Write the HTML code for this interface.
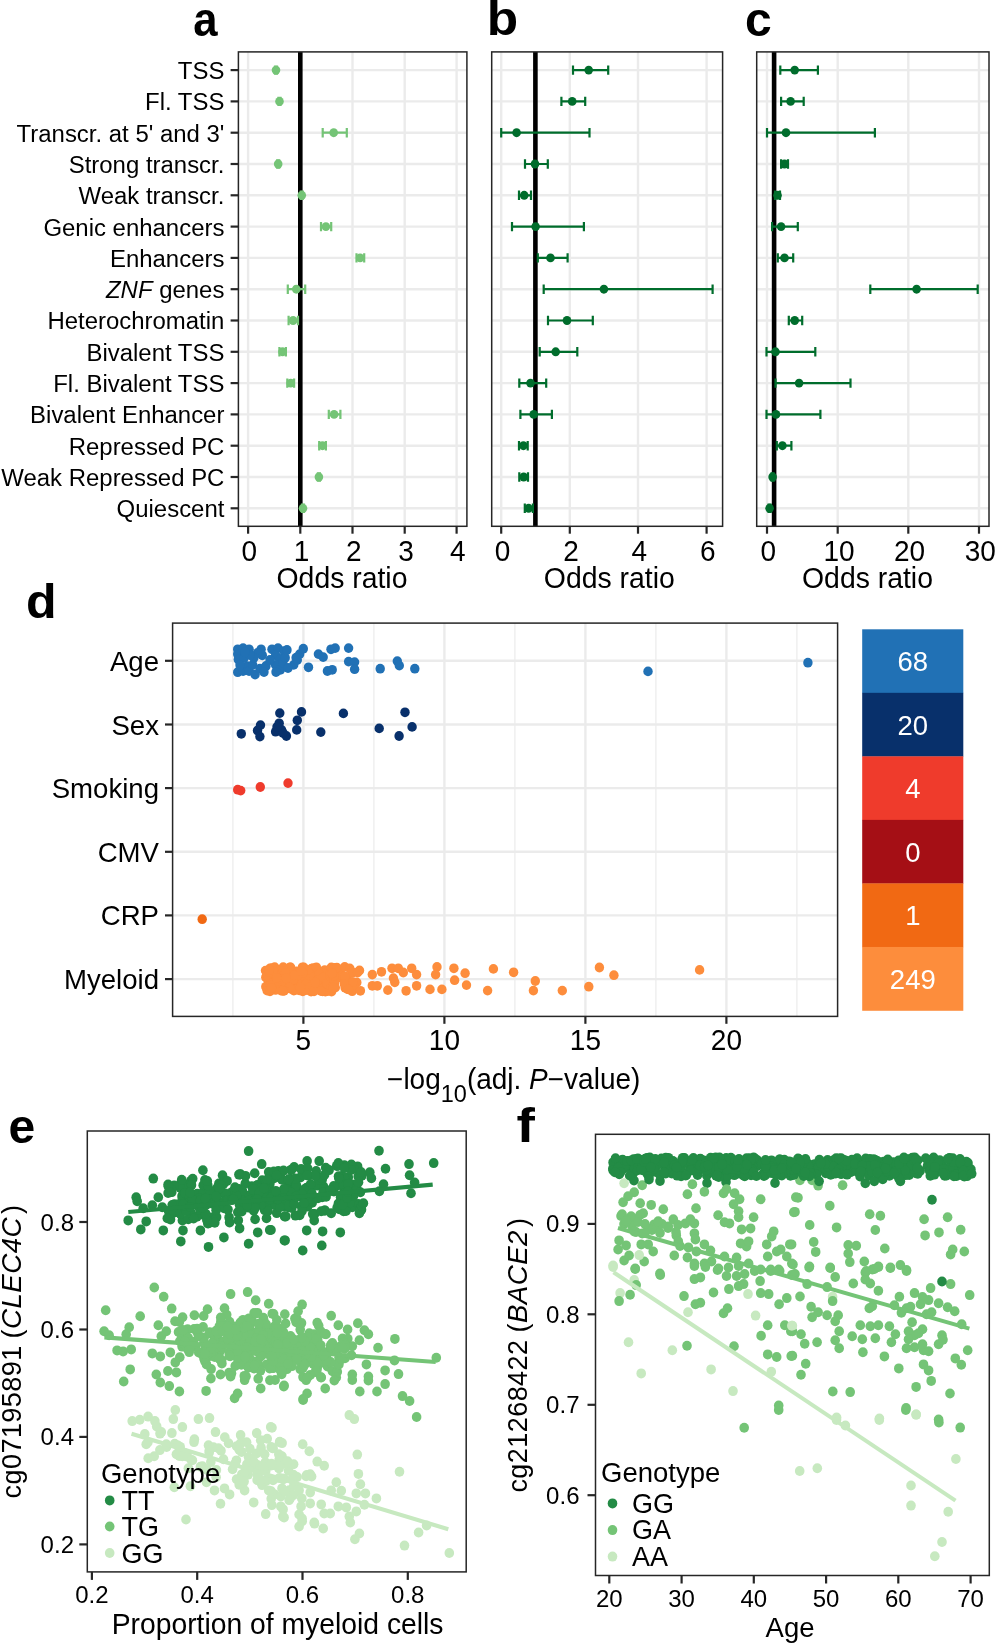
<!DOCTYPE html>
<html><head><meta charset="utf-8"><style>
html,body{margin:0;padding:0;background:#fff;}
svg{display:block;font-family:"Liberation Sans", sans-serif;will-change:transform;}
</style></head><body>
<svg width="996" height="1645" viewBox="0 0 996 1645">
<rect width="996" height="1645" fill="#fff"/>
<text x="224.4" y="79.1" font-size="23.95" text-anchor="end" font-weight="normal" fill="#000" transform="translate(0,-2.37) scale(1,1.03)">TSS</text>
<text x="224.4" y="110.4" font-size="23.95" text-anchor="end" font-weight="normal" fill="#000" transform="translate(0,-3.31) scale(1,1.03)">Fl. TSS</text>
<text x="224.4" y="141.7" font-size="23.95" text-anchor="end" font-weight="normal" fill="#000" transform="translate(0,-4.25) scale(1,1.03)">Transcr. at 5' and 3'</text>
<text x="224.4" y="173.0" font-size="23.95" text-anchor="end" font-weight="normal" fill="#000" transform="translate(0,-5.19) scale(1,1.03)">Strong transcr.</text>
<text x="224.4" y="204.3" font-size="23.95" text-anchor="end" font-weight="normal" fill="#000" transform="translate(0,-6.13) scale(1,1.03)">Weak transcr.</text>
<text x="224.4" y="235.6" font-size="23.95" text-anchor="end" font-weight="normal" fill="#000" transform="translate(0,-7.07) scale(1,1.03)">Genic enhancers</text>
<text x="224.4" y="266.9" font-size="23.95" text-anchor="end" font-weight="normal" fill="#000" transform="translate(0,-8.01) scale(1,1.03)">Enhancers</text>
<text x="224.4" y="298.2" font-size="23.95" text-anchor="end" font-weight="normal" fill="#000" transform="translate(0,-8.95) scale(1,1.03)"><tspan font-style='italic'>ZNF</tspan> genes</text>
<text x="224.4" y="329.5" font-size="23.95" text-anchor="end" font-weight="normal" fill="#000" transform="translate(0,-9.89) scale(1,1.03)">Heterochromatin</text>
<text x="224.4" y="360.8" font-size="23.95" text-anchor="end" font-weight="normal" fill="#000" transform="translate(0,-10.82) scale(1,1.03)">Bivalent TSS</text>
<text x="224.4" y="392.1" font-size="23.95" text-anchor="end" font-weight="normal" fill="#000" transform="translate(0,-11.76) scale(1,1.03)">Fl. Bivalent TSS</text>
<text x="224.4" y="423.4" font-size="23.95" text-anchor="end" font-weight="normal" fill="#000" transform="translate(0,-12.70) scale(1,1.03)">Bivalent Enhancer</text>
<text x="224.4" y="454.7" font-size="23.95" text-anchor="end" font-weight="normal" fill="#000" transform="translate(0,-13.64) scale(1,1.03)">Repressed PC</text>
<text x="224.4" y="486.0" font-size="23.95" text-anchor="end" font-weight="normal" fill="#000" transform="translate(0,-14.58) scale(1,1.03)">Weak Repressed PC</text>
<text x="224.4" y="517.3" font-size="23.95" text-anchor="end" font-weight="normal" fill="#000" transform="translate(0,-15.52) scale(1,1.03)">Quiescent</text>
<line x1="230.6" y1="70.1" x2="238.4" y2="70.1" stroke="#262626" stroke-width="2.2"/>
<line x1="230.6" y1="101.4" x2="238.4" y2="101.4" stroke="#262626" stroke-width="2.2"/>
<line x1="230.6" y1="132.7" x2="238.4" y2="132.7" stroke="#262626" stroke-width="2.2"/>
<line x1="230.6" y1="164.0" x2="238.4" y2="164.0" stroke="#262626" stroke-width="2.2"/>
<line x1="230.6" y1="195.3" x2="238.4" y2="195.3" stroke="#262626" stroke-width="2.2"/>
<line x1="230.6" y1="226.6" x2="238.4" y2="226.6" stroke="#262626" stroke-width="2.2"/>
<line x1="230.6" y1="257.9" x2="238.4" y2="257.9" stroke="#262626" stroke-width="2.2"/>
<line x1="230.6" y1="289.2" x2="238.4" y2="289.2" stroke="#262626" stroke-width="2.2"/>
<line x1="230.6" y1="320.5" x2="238.4" y2="320.5" stroke="#262626" stroke-width="2.2"/>
<line x1="230.6" y1="351.8" x2="238.4" y2="351.8" stroke="#262626" stroke-width="2.2"/>
<line x1="230.6" y1="383.1" x2="238.4" y2="383.1" stroke="#262626" stroke-width="2.2"/>
<line x1="230.6" y1="414.4" x2="238.4" y2="414.4" stroke="#262626" stroke-width="2.2"/>
<line x1="230.6" y1="445.7" x2="238.4" y2="445.7" stroke="#262626" stroke-width="2.2"/>
<line x1="230.6" y1="477.0" x2="238.4" y2="477.0" stroke="#262626" stroke-width="2.2"/>
<line x1="230.6" y1="508.3" x2="238.4" y2="508.3" stroke="#262626" stroke-width="2.2"/>
<line x1="248.1" y1="51.9" x2="248.1" y2="526.3" stroke="#ebebeb" stroke-width="2.4"/>
<line x1="300.3" y1="51.9" x2="300.3" y2="526.3" stroke="#ebebeb" stroke-width="2.4"/>
<line x1="352.5" y1="51.9" x2="352.5" y2="526.3" stroke="#ebebeb" stroke-width="2.4"/>
<line x1="404.7" y1="51.9" x2="404.7" y2="526.3" stroke="#ebebeb" stroke-width="2.4"/>
<line x1="456.6" y1="51.9" x2="456.6" y2="526.3" stroke="#ebebeb" stroke-width="2.4"/>
<line x1="238.4" y1="70.1" x2="466.9" y2="70.1" stroke="#ebebeb" stroke-width="2.4"/>
<line x1="238.4" y1="101.4" x2="466.9" y2="101.4" stroke="#ebebeb" stroke-width="2.4"/>
<line x1="238.4" y1="132.7" x2="466.9" y2="132.7" stroke="#ebebeb" stroke-width="2.4"/>
<line x1="238.4" y1="164.0" x2="466.9" y2="164.0" stroke="#ebebeb" stroke-width="2.4"/>
<line x1="238.4" y1="195.3" x2="466.9" y2="195.3" stroke="#ebebeb" stroke-width="2.4"/>
<line x1="238.4" y1="226.6" x2="466.9" y2="226.6" stroke="#ebebeb" stroke-width="2.4"/>
<line x1="238.4" y1="257.9" x2="466.9" y2="257.9" stroke="#ebebeb" stroke-width="2.4"/>
<line x1="238.4" y1="289.2" x2="466.9" y2="289.2" stroke="#ebebeb" stroke-width="2.4"/>
<line x1="238.4" y1="320.5" x2="466.9" y2="320.5" stroke="#ebebeb" stroke-width="2.4"/>
<line x1="238.4" y1="351.8" x2="466.9" y2="351.8" stroke="#ebebeb" stroke-width="2.4"/>
<line x1="238.4" y1="383.1" x2="466.9" y2="383.1" stroke="#ebebeb" stroke-width="2.4"/>
<line x1="238.4" y1="414.4" x2="466.9" y2="414.4" stroke="#ebebeb" stroke-width="2.4"/>
<line x1="238.4" y1="445.7" x2="466.9" y2="445.7" stroke="#ebebeb" stroke-width="2.4"/>
<line x1="238.4" y1="477.0" x2="466.9" y2="477.0" stroke="#ebebeb" stroke-width="2.4"/>
<line x1="238.4" y1="508.3" x2="466.9" y2="508.3" stroke="#ebebeb" stroke-width="2.4"/>
<line x1="300.3" y1="51.9" x2="300.3" y2="526.3" stroke="#000" stroke-width="4.6"/>
<path d="M275.0,70.1H277.0M275.0,65.4V74.8M277.0,65.4V74.8" stroke="#74c476" stroke-width="2.2" fill="none"/>
<ellipse cx="276.0" cy="70.1" rx="4.3" ry="4.47" fill="#74c476"/>
<path d="M278.5,101.4H280.5M278.5,96.7V106.1M280.5,96.7V106.1" stroke="#74c476" stroke-width="2.2" fill="none"/>
<ellipse cx="279.5" cy="101.4" rx="4.3" ry="4.47" fill="#74c476"/>
<path d="M322.7,132.7H346.8M322.7,128.0V137.4M346.8,128.0V137.4" stroke="#74c476" stroke-width="2.2" fill="none"/>
<ellipse cx="333.7" cy="132.7" rx="4.3" ry="4.47" fill="#74c476"/>
<path d="M277.2,164.0H279.2M277.2,159.3V168.7M279.2,159.3V168.7" stroke="#74c476" stroke-width="2.2" fill="none"/>
<ellipse cx="278.2" cy="164.0" rx="4.3" ry="4.47" fill="#74c476"/>
<path d="M300.8,195.3H302.8M300.8,190.6V200.0M302.8,190.6V200.0" stroke="#74c476" stroke-width="2.2" fill="none"/>
<ellipse cx="301.8" cy="195.3" rx="4.3" ry="4.47" fill="#74c476"/>
<path d="M321,226.6H331.2M321,221.9V231.3M331.2,221.9V231.3" stroke="#74c476" stroke-width="2.2" fill="none"/>
<ellipse cx="325.9" cy="226.6" rx="4.3" ry="4.47" fill="#74c476"/>
<path d="M356.5,257.9H364.2M356.5,253.2V262.6M364.2,253.2V262.6" stroke="#74c476" stroke-width="2.2" fill="none"/>
<ellipse cx="360.1" cy="257.9" rx="4.3" ry="4.47" fill="#74c476"/>
<path d="M287.8,289.2H305.2M287.8,284.5V293.9M305.2,284.5V293.9" stroke="#74c476" stroke-width="2.2" fill="none"/>
<ellipse cx="296.3" cy="289.2" rx="4.3" ry="4.47" fill="#74c476"/>
<path d="M288.6,320.5H298M288.6,315.8V325.2M298,315.8V325.2" stroke="#74c476" stroke-width="2.2" fill="none"/>
<ellipse cx="293.1" cy="320.5" rx="4.3" ry="4.47" fill="#74c476"/>
<path d="M279.4,351.8H285.9M279.4,347.1V356.5M285.9,347.1V356.5" stroke="#74c476" stroke-width="2.2" fill="none"/>
<ellipse cx="282.5" cy="351.8" rx="4.3" ry="4.47" fill="#74c476"/>
<path d="M287.3,383.1H294.1M287.3,378.4V387.8M294.1,378.4V387.8" stroke="#74c476" stroke-width="2.2" fill="none"/>
<ellipse cx="290.7" cy="383.1" rx="4.3" ry="4.47" fill="#74c476"/>
<path d="M328.8,414.4H340.4M328.8,409.7V419.1M340.4,409.7V419.1" stroke="#74c476" stroke-width="2.2" fill="none"/>
<ellipse cx="334.1" cy="414.4" rx="4.3" ry="4.47" fill="#74c476"/>
<path d="M319.2,445.7H325.9M319.2,441.0V450.4M325.9,441.0V450.4" stroke="#74c476" stroke-width="2.2" fill="none"/>
<ellipse cx="322.5" cy="445.7" rx="4.3" ry="4.47" fill="#74c476"/>
<path d="M317.9,477.0H319.9M317.9,472.3V481.7M319.9,472.3V481.7" stroke="#74c476" stroke-width="2.2" fill="none"/>
<ellipse cx="318.9" cy="477.0" rx="4.3" ry="4.47" fill="#74c476"/>
<path d="M302.0,508.3H304.0M302.0,503.6V513.0M304.0,503.6V513.0" stroke="#74c476" stroke-width="2.2" fill="none"/>
<ellipse cx="303.0" cy="508.3" rx="4.3" ry="4.47" fill="#74c476"/>
<rect x="238.4" y="51.9" width="228.49999999999997" height="474.4" fill="none" stroke="#262626" stroke-width="1.5"/>
<line x1="248.1" y1="526.3" x2="248.1" y2="533.6999999999999" stroke="#262626" stroke-width="2.2"/>
<text x="249.4" y="561.5" font-size="28" text-anchor="middle" font-weight="normal" fill="#000" transform="translate(0,-16.85) scale(1,1.03)">0</text>
<line x1="300.3" y1="526.3" x2="300.3" y2="533.6999999999999" stroke="#262626" stroke-width="2.2"/>
<text x="301.6" y="561.5" font-size="28" text-anchor="middle" font-weight="normal" fill="#000" transform="translate(0,-16.85) scale(1,1.03)">1</text>
<line x1="352.5" y1="526.3" x2="352.5" y2="533.6999999999999" stroke="#262626" stroke-width="2.2"/>
<text x="353.8" y="561.5" font-size="28" text-anchor="middle" font-weight="normal" fill="#000" transform="translate(0,-16.85) scale(1,1.03)">2</text>
<line x1="404.7" y1="526.3" x2="404.7" y2="533.6999999999999" stroke="#262626" stroke-width="2.2"/>
<text x="406.0" y="561.5" font-size="28" text-anchor="middle" font-weight="normal" fill="#000" transform="translate(0,-16.85) scale(1,1.03)">3</text>
<line x1="456.6" y1="526.3" x2="456.6" y2="533.6999999999999" stroke="#262626" stroke-width="2.2"/>
<text x="457.9" y="561.5" font-size="28" text-anchor="middle" font-weight="normal" fill="#000" transform="translate(0,-16.85) scale(1,1.03)">4</text>
<text x="342.0" y="587.6" font-size="28.4" text-anchor="middle" font-weight="normal" fill="#000" transform="translate(0,-17.63) scale(1,1.03)">Odds ratio</text>
<line x1="501.2" y1="51.9" x2="501.2" y2="526.3" stroke="#ebebeb" stroke-width="2.4"/>
<line x1="569.8" y1="51.9" x2="569.8" y2="526.3" stroke="#ebebeb" stroke-width="2.4"/>
<line x1="638" y1="51.9" x2="638" y2="526.3" stroke="#ebebeb" stroke-width="2.4"/>
<line x1="706.6" y1="51.9" x2="706.6" y2="526.3" stroke="#ebebeb" stroke-width="2.4"/>
<line x1="491.7" y1="70.1" x2="722.6" y2="70.1" stroke="#ebebeb" stroke-width="2.4"/>
<line x1="491.7" y1="101.4" x2="722.6" y2="101.4" stroke="#ebebeb" stroke-width="2.4"/>
<line x1="491.7" y1="132.7" x2="722.6" y2="132.7" stroke="#ebebeb" stroke-width="2.4"/>
<line x1="491.7" y1="164.0" x2="722.6" y2="164.0" stroke="#ebebeb" stroke-width="2.4"/>
<line x1="491.7" y1="195.3" x2="722.6" y2="195.3" stroke="#ebebeb" stroke-width="2.4"/>
<line x1="491.7" y1="226.6" x2="722.6" y2="226.6" stroke="#ebebeb" stroke-width="2.4"/>
<line x1="491.7" y1="257.9" x2="722.6" y2="257.9" stroke="#ebebeb" stroke-width="2.4"/>
<line x1="491.7" y1="289.2" x2="722.6" y2="289.2" stroke="#ebebeb" stroke-width="2.4"/>
<line x1="491.7" y1="320.5" x2="722.6" y2="320.5" stroke="#ebebeb" stroke-width="2.4"/>
<line x1="491.7" y1="351.8" x2="722.6" y2="351.8" stroke="#ebebeb" stroke-width="2.4"/>
<line x1="491.7" y1="383.1" x2="722.6" y2="383.1" stroke="#ebebeb" stroke-width="2.4"/>
<line x1="491.7" y1="414.4" x2="722.6" y2="414.4" stroke="#ebebeb" stroke-width="2.4"/>
<line x1="491.7" y1="445.7" x2="722.6" y2="445.7" stroke="#ebebeb" stroke-width="2.4"/>
<line x1="491.7" y1="477.0" x2="722.6" y2="477.0" stroke="#ebebeb" stroke-width="2.4"/>
<line x1="491.7" y1="508.3" x2="722.6" y2="508.3" stroke="#ebebeb" stroke-width="2.4"/>
<line x1="535.4" y1="51.9" x2="535.4" y2="526.3" stroke="#000" stroke-width="4.6"/>
<path d="M573,70.1H608.2M573,65.4V74.8M608.2,65.4V74.8" stroke="#006d2c" stroke-width="2.2" fill="none"/>
<ellipse cx="588.7" cy="70.1" rx="4.3" ry="4.47" fill="#006d2c"/>
<path d="M561.4,101.4H585.2M561.4,96.7V106.1M585.2,96.7V106.1" stroke="#006d2c" stroke-width="2.2" fill="none"/>
<ellipse cx="572.2" cy="101.4" rx="4.3" ry="4.47" fill="#006d2c"/>
<path d="M501.2,132.7H589.5M501.2,128.0V137.4M589.5,128.0V137.4" stroke="#006d2c" stroke-width="2.2" fill="none"/>
<ellipse cx="516.6" cy="132.7" rx="4.3" ry="4.47" fill="#006d2c"/>
<path d="M525,164.0H547.8M525,159.3V168.7M547.8,159.3V168.7" stroke="#006d2c" stroke-width="2.2" fill="none"/>
<ellipse cx="535.0" cy="164.0" rx="4.3" ry="4.47" fill="#006d2c"/>
<path d="M519,195.3H531M519,190.6V200.0M531,190.6V200.0" stroke="#006d2c" stroke-width="2.2" fill="none"/>
<ellipse cx="524.2" cy="195.3" rx="4.3" ry="4.47" fill="#006d2c"/>
<path d="M512,226.6H583.9M512,221.9V231.3M583.9,221.9V231.3" stroke="#006d2c" stroke-width="2.2" fill="none"/>
<ellipse cx="535.6" cy="226.6" rx="4.3" ry="4.47" fill="#006d2c"/>
<path d="M537.8,257.9H567.6M537.8,253.2V262.6M567.6,253.2V262.6" stroke="#006d2c" stroke-width="2.2" fill="none"/>
<ellipse cx="550.5" cy="257.9" rx="4.3" ry="4.47" fill="#006d2c"/>
<path d="M543.7,289.2H712.6M543.7,284.5V293.9M712.6,284.5V293.9" stroke="#006d2c" stroke-width="2.2" fill="none"/>
<ellipse cx="603.9" cy="289.2" rx="4.3" ry="4.47" fill="#006d2c"/>
<path d="M548,320.5H592.8M548,315.8V325.2M592.8,315.8V325.2" stroke="#006d2c" stroke-width="2.2" fill="none"/>
<ellipse cx="567.0" cy="320.5" rx="4.3" ry="4.47" fill="#006d2c"/>
<path d="M539.7,351.8H577.3M539.7,347.1V356.5M577.3,347.1V356.5" stroke="#006d2c" stroke-width="2.2" fill="none"/>
<ellipse cx="555.7" cy="351.8" rx="4.3" ry="4.47" fill="#006d2c"/>
<path d="M519.3,383.1H546.2M519.3,378.4V387.8M546.2,378.4V387.8" stroke="#006d2c" stroke-width="2.2" fill="none"/>
<ellipse cx="530.5" cy="383.1" rx="4.3" ry="4.47" fill="#006d2c"/>
<path d="M520.4,414.4H551.9M520.4,409.7V419.1M551.9,409.7V419.1" stroke="#006d2c" stroke-width="2.2" fill="none"/>
<ellipse cx="533.7" cy="414.4" rx="4.3" ry="4.47" fill="#006d2c"/>
<path d="M519,445.7H527.7M519,441.0V450.4M527.7,441.0V450.4" stroke="#006d2c" stroke-width="2.2" fill="none"/>
<ellipse cx="523.4" cy="445.7" rx="4.3" ry="4.47" fill="#006d2c"/>
<path d="M519.3,477.0H528M519.3,472.3V481.7M528,472.3V481.7" stroke="#006d2c" stroke-width="2.2" fill="none"/>
<ellipse cx="523.7" cy="477.0" rx="4.3" ry="4.47" fill="#006d2c"/>
<path d="M524.8,508.3H532.9M524.8,503.6V513.0M532.9,503.6V513.0" stroke="#006d2c" stroke-width="2.2" fill="none"/>
<ellipse cx="528.6" cy="508.3" rx="4.3" ry="4.47" fill="#006d2c"/>
<rect x="491.7" y="51.9" width="230.90000000000003" height="474.4" fill="none" stroke="#262626" stroke-width="1.5"/>
<line x1="501.2" y1="526.3" x2="501.2" y2="533.6999999999999" stroke="#262626" stroke-width="2.2"/>
<text x="502.5" y="561.5" font-size="28" text-anchor="middle" font-weight="normal" fill="#000" transform="translate(0,-16.85) scale(1,1.03)">0</text>
<line x1="569.8" y1="526.3" x2="569.8" y2="533.6999999999999" stroke="#262626" stroke-width="2.2"/>
<text x="571.1" y="561.5" font-size="28" text-anchor="middle" font-weight="normal" fill="#000" transform="translate(0,-16.85) scale(1,1.03)">2</text>
<line x1="638" y1="526.3" x2="638" y2="533.6999999999999" stroke="#262626" stroke-width="2.2"/>
<text x="639.3" y="561.5" font-size="28" text-anchor="middle" font-weight="normal" fill="#000" transform="translate(0,-16.85) scale(1,1.03)">4</text>
<line x1="706.6" y1="526.3" x2="706.6" y2="533.6999999999999" stroke="#262626" stroke-width="2.2"/>
<text x="707.9" y="561.5" font-size="28" text-anchor="middle" font-weight="normal" fill="#000" transform="translate(0,-16.85) scale(1,1.03)">6</text>
<text x="609.3" y="587.6" font-size="28.4" text-anchor="middle" font-weight="normal" fill="#000" transform="translate(0,-17.63) scale(1,1.03)">Odds ratio</text>
<line x1="767" y1="51.9" x2="767" y2="526.3" stroke="#ebebeb" stroke-width="2.4"/>
<line x1="837.7" y1="51.9" x2="837.7" y2="526.3" stroke="#ebebeb" stroke-width="2.4"/>
<line x1="908.3" y1="51.9" x2="908.3" y2="526.3" stroke="#ebebeb" stroke-width="2.4"/>
<line x1="979" y1="51.9" x2="979" y2="526.3" stroke="#ebebeb" stroke-width="2.4"/>
<line x1="756.7" y1="70.1" x2="989.0" y2="70.1" stroke="#ebebeb" stroke-width="2.4"/>
<line x1="756.7" y1="101.4" x2="989.0" y2="101.4" stroke="#ebebeb" stroke-width="2.4"/>
<line x1="756.7" y1="132.7" x2="989.0" y2="132.7" stroke="#ebebeb" stroke-width="2.4"/>
<line x1="756.7" y1="164.0" x2="989.0" y2="164.0" stroke="#ebebeb" stroke-width="2.4"/>
<line x1="756.7" y1="195.3" x2="989.0" y2="195.3" stroke="#ebebeb" stroke-width="2.4"/>
<line x1="756.7" y1="226.6" x2="989.0" y2="226.6" stroke="#ebebeb" stroke-width="2.4"/>
<line x1="756.7" y1="257.9" x2="989.0" y2="257.9" stroke="#ebebeb" stroke-width="2.4"/>
<line x1="756.7" y1="289.2" x2="989.0" y2="289.2" stroke="#ebebeb" stroke-width="2.4"/>
<line x1="756.7" y1="320.5" x2="989.0" y2="320.5" stroke="#ebebeb" stroke-width="2.4"/>
<line x1="756.7" y1="351.8" x2="989.0" y2="351.8" stroke="#ebebeb" stroke-width="2.4"/>
<line x1="756.7" y1="383.1" x2="989.0" y2="383.1" stroke="#ebebeb" stroke-width="2.4"/>
<line x1="756.7" y1="414.4" x2="989.0" y2="414.4" stroke="#ebebeb" stroke-width="2.4"/>
<line x1="756.7" y1="445.7" x2="989.0" y2="445.7" stroke="#ebebeb" stroke-width="2.4"/>
<line x1="756.7" y1="477.0" x2="989.0" y2="477.0" stroke="#ebebeb" stroke-width="2.4"/>
<line x1="756.7" y1="508.3" x2="989.0" y2="508.3" stroke="#ebebeb" stroke-width="2.4"/>
<line x1="774.1" y1="51.9" x2="774.1" y2="526.3" stroke="#000" stroke-width="4.6"/>
<path d="M780.3,70.1H817.9M780.3,65.4V74.8M817.9,65.4V74.8" stroke="#006d2c" stroke-width="2.2" fill="none"/>
<ellipse cx="794.7" cy="70.1" rx="4.3" ry="4.47" fill="#006d2c"/>
<path d="M781.1,101.4H803.7M781.1,96.7V106.1M803.7,96.7V106.1" stroke="#006d2c" stroke-width="2.2" fill="none"/>
<ellipse cx="790.6" cy="101.4" rx="4.3" ry="4.47" fill="#006d2c"/>
<path d="M767,132.7H874.9M767,128.0V137.4M874.9,128.0V137.4" stroke="#006d2c" stroke-width="2.2" fill="none"/>
<ellipse cx="786.0" cy="132.7" rx="4.3" ry="4.47" fill="#006d2c"/>
<path d="M781.1,164.0H788M781.1,159.3V168.7M788,159.3V168.7" stroke="#006d2c" stroke-width="2.2" fill="none"/>
<ellipse cx="784.5" cy="164.0" rx="4.3" ry="4.47" fill="#006d2c"/>
<path d="M775,195.3H780M775,190.6V200.0M780,190.6V200.0" stroke="#006d2c" stroke-width="2.2" fill="none"/>
<ellipse cx="777.5" cy="195.3" rx="4.3" ry="4.47" fill="#006d2c"/>
<path d="M772.1,226.6H797.8M772.1,221.9V231.3M797.8,221.9V231.3" stroke="#006d2c" stroke-width="2.2" fill="none"/>
<ellipse cx="781.1" cy="226.6" rx="4.3" ry="4.47" fill="#006d2c"/>
<path d="M777.8,257.9H793.2M777.8,253.2V262.6M793.2,253.2V262.6" stroke="#006d2c" stroke-width="2.2" fill="none"/>
<ellipse cx="784.5" cy="257.9" rx="4.3" ry="4.47" fill="#006d2c"/>
<path d="M870.3,289.2H977.7M870.3,284.5V293.9M977.7,284.5V293.9" stroke="#006d2c" stroke-width="2.2" fill="none"/>
<ellipse cx="916.6" cy="289.2" rx="4.3" ry="4.47" fill="#006d2c"/>
<path d="M788.8,320.5H802.2M788.8,315.8V325.2M802.2,315.8V325.2" stroke="#006d2c" stroke-width="2.2" fill="none"/>
<ellipse cx="794.7" cy="320.5" rx="4.3" ry="4.47" fill="#006d2c"/>
<path d="M766.5,351.8H815.3M766.5,347.1V356.5M815.3,347.1V356.5" stroke="#006d2c" stroke-width="2.2" fill="none"/>
<ellipse cx="775.5" cy="351.8" rx="4.3" ry="4.47" fill="#006d2c"/>
<path d="M775.5,383.1H850.5M775.5,378.4V387.8M850.5,378.4V387.8" stroke="#006d2c" stroke-width="2.2" fill="none"/>
<ellipse cx="799.1" cy="383.1" rx="4.3" ry="4.47" fill="#006d2c"/>
<path d="M766.5,414.4H820.4M766.5,409.7V419.1M820.4,409.7V419.1" stroke="#006d2c" stroke-width="2.2" fill="none"/>
<ellipse cx="776.0" cy="414.4" rx="4.3" ry="4.47" fill="#006d2c"/>
<path d="M776.8,445.7H791.4M776.8,441.0V450.4M791.4,441.0V450.4" stroke="#006d2c" stroke-width="2.2" fill="none"/>
<ellipse cx="782.4" cy="445.7" rx="4.3" ry="4.47" fill="#006d2c"/>
<path d="M771.6,477.0H773.6M771.6,472.3V481.7M773.6,472.3V481.7" stroke="#006d2c" stroke-width="2.2" fill="none"/>
<ellipse cx="772.6" cy="477.0" rx="4.3" ry="4.47" fill="#006d2c"/>
<path d="M768.6,508.3H770.6M768.6,503.6V513.0M770.6,503.6V513.0" stroke="#006d2c" stroke-width="2.2" fill="none"/>
<ellipse cx="769.6" cy="508.3" rx="4.3" ry="4.47" fill="#006d2c"/>
<rect x="756.7" y="51.9" width="232.29999999999995" height="474.4" fill="none" stroke="#262626" stroke-width="1.5"/>
<line x1="767" y1="526.3" x2="767" y2="533.6999999999999" stroke="#262626" stroke-width="2.2"/>
<text x="768.3" y="561.5" font-size="28" text-anchor="middle" font-weight="normal" fill="#000" transform="translate(0,-16.85) scale(1,1.03)">0</text>
<line x1="837.7" y1="526.3" x2="837.7" y2="533.6999999999999" stroke="#262626" stroke-width="2.2"/>
<text x="839.0" y="561.5" font-size="28" text-anchor="middle" font-weight="normal" fill="#000" transform="translate(0,-16.85) scale(1,1.03)">10</text>
<line x1="908.3" y1="526.3" x2="908.3" y2="533.6999999999999" stroke="#262626" stroke-width="2.2"/>
<text x="909.6" y="561.5" font-size="28" text-anchor="middle" font-weight="normal" fill="#000" transform="translate(0,-16.85) scale(1,1.03)">20</text>
<line x1="979" y1="526.3" x2="979" y2="533.6999999999999" stroke="#262626" stroke-width="2.2"/>
<text x="980.3" y="561.5" font-size="28" text-anchor="middle" font-weight="normal" fill="#000" transform="translate(0,-16.85) scale(1,1.03)">30</text>
<text x="867.5" y="587.6" font-size="28.4" text-anchor="middle" font-weight="normal" fill="#000" transform="translate(0,-17.63) scale(1,1.03)">Odds ratio</text>
<line x1="232.9" y1="623.1" x2="232.9" y2="1016.4" stroke="#ebebeb" stroke-width="1.2"/>
<line x1="373.9" y1="623.1" x2="373.9" y2="1016.4" stroke="#ebebeb" stroke-width="1.2"/>
<line x1="514.9" y1="623.1" x2="514.9" y2="1016.4" stroke="#ebebeb" stroke-width="1.2"/>
<line x1="655.9" y1="623.1" x2="655.9" y2="1016.4" stroke="#ebebeb" stroke-width="1.2"/>
<line x1="796.9" y1="623.1" x2="796.9" y2="1016.4" stroke="#ebebeb" stroke-width="1.2"/>
<line x1="303.4" y1="623.1" x2="303.4" y2="1016.4" stroke="#ebebeb" stroke-width="2.4"/>
<line x1="444.4" y1="623.1" x2="444.4" y2="1016.4" stroke="#ebebeb" stroke-width="2.4"/>
<line x1="585.4" y1="623.1" x2="585.4" y2="1016.4" stroke="#ebebeb" stroke-width="2.4"/>
<line x1="726.4" y1="623.1" x2="726.4" y2="1016.4" stroke="#ebebeb" stroke-width="2.4"/>
<line x1="172.6" y1="660.8" x2="837.6" y2="660.8" stroke="#ebebeb" stroke-width="2.4"/>
<line x1="172.6" y1="724.5" x2="837.6" y2="724.5" stroke="#ebebeb" stroke-width="2.4"/>
<line x1="172.6" y1="788.1" x2="837.6" y2="788.1" stroke="#ebebeb" stroke-width="2.4"/>
<line x1="172.6" y1="851.8" x2="837.6" y2="851.8" stroke="#ebebeb" stroke-width="2.4"/>
<line x1="172.6" y1="915.4" x2="837.6" y2="915.4" stroke="#ebebeb" stroke-width="2.4"/>
<line x1="172.6" y1="979.1" x2="837.6" y2="979.1" stroke="#ebebeb" stroke-width="2.4"/>
<ellipse cx="237.7" cy="649.3" rx="4.7" ry="4.89" fill="#2171b5"/>
<ellipse cx="243.1" cy="648.1" rx="4.7" ry="4.89" fill="#2171b5"/>
<ellipse cx="249.1" cy="649.3" rx="4.7" ry="4.89" fill="#2171b5"/>
<ellipse cx="237.7" cy="654.1" rx="4.7" ry="4.89" fill="#2171b5"/>
<ellipse cx="238.3" cy="659.5" rx="4.7" ry="4.89" fill="#2171b5"/>
<ellipse cx="237.7" cy="672.2" rx="4.7" ry="4.89" fill="#2171b5"/>
<ellipse cx="243.1" cy="671.0" rx="4.7" ry="4.89" fill="#2171b5"/>
<ellipse cx="247.3" cy="666.1" rx="4.7" ry="4.89" fill="#2171b5"/>
<ellipse cx="249.1" cy="671.0" rx="4.7" ry="4.89" fill="#2171b5"/>
<ellipse cx="255.1" cy="674.6" rx="4.7" ry="4.89" fill="#2171b5"/>
<ellipse cx="252.7" cy="664.9" rx="4.7" ry="4.89" fill="#2171b5"/>
<ellipse cx="259.9" cy="668.6" rx="4.7" ry="4.89" fill="#2171b5"/>
<ellipse cx="261.1" cy="649.3" rx="4.7" ry="4.89" fill="#2171b5"/>
<ellipse cx="262.3" cy="655.3" rx="4.7" ry="4.89" fill="#2171b5"/>
<ellipse cx="257.5" cy="652.9" rx="4.7" ry="4.89" fill="#2171b5"/>
<ellipse cx="253.9" cy="657.7" rx="4.7" ry="4.89" fill="#2171b5"/>
<ellipse cx="272.0" cy="649.3" rx="4.7" ry="4.89" fill="#2171b5"/>
<ellipse cx="278.0" cy="648.1" rx="4.7" ry="4.89" fill="#2171b5"/>
<ellipse cx="284.0" cy="651.1" rx="4.7" ry="4.89" fill="#2171b5"/>
<ellipse cx="275.6" cy="655.3" rx="4.7" ry="4.89" fill="#2171b5"/>
<ellipse cx="280.4" cy="658.9" rx="4.7" ry="4.89" fill="#2171b5"/>
<ellipse cx="275.6" cy="664.9" rx="4.7" ry="4.89" fill="#2171b5"/>
<ellipse cx="280.4" cy="669.8" rx="4.7" ry="4.89" fill="#2171b5"/>
<ellipse cx="282.8" cy="662.5" rx="4.7" ry="4.89" fill="#2171b5"/>
<ellipse cx="285.2" cy="657.7" rx="4.7" ry="4.89" fill="#2171b5"/>
<ellipse cx="293.7" cy="664.9" rx="4.7" ry="4.89" fill="#2171b5"/>
<ellipse cx="297.3" cy="660.1" rx="4.7" ry="4.89" fill="#2171b5"/>
<ellipse cx="299.7" cy="654.1" rx="4.7" ry="4.89" fill="#2171b5"/>
<ellipse cx="303.3" cy="648.7" rx="4.7" ry="4.89" fill="#2171b5"/>
<ellipse cx="296.1" cy="657.7" rx="4.7" ry="4.89" fill="#2171b5"/>
<ellipse cx="308.5" cy="667.3" rx="4.7" ry="4.89" fill="#2171b5"/>
<ellipse cx="318.4" cy="654.1" rx="4.7" ry="4.89" fill="#2171b5"/>
<ellipse cx="323.2" cy="657.1" rx="4.7" ry="4.89" fill="#2171b5"/>
<ellipse cx="331.0" cy="649.3" rx="4.7" ry="4.89" fill="#2171b5"/>
<ellipse cx="335.2" cy="648.1" rx="4.7" ry="4.89" fill="#2171b5"/>
<ellipse cx="327.4" cy="671.0" rx="4.7" ry="4.89" fill="#2171b5"/>
<ellipse cx="332.2" cy="669.8" rx="4.7" ry="4.89" fill="#2171b5"/>
<ellipse cx="348.6" cy="648.1" rx="4.7" ry="4.89" fill="#2171b5"/>
<ellipse cx="348.6" cy="661.6" rx="4.7" ry="4.89" fill="#2171b5"/>
<ellipse cx="354.6" cy="662.1" rx="4.7" ry="4.89" fill="#2171b5"/>
<ellipse cx="354.6" cy="669.2" rx="4.7" ry="4.89" fill="#2171b5"/>
<ellipse cx="380.2" cy="668.7" rx="4.7" ry="4.89" fill="#2171b5"/>
<ellipse cx="397.3" cy="661.1" rx="4.7" ry="4.89" fill="#2171b5"/>
<ellipse cx="399.3" cy="665.6" rx="4.7" ry="4.89" fill="#2171b5"/>
<ellipse cx="414.8" cy="668.7" rx="4.7" ry="4.89" fill="#2171b5"/>
<ellipse cx="648.0" cy="671.4" rx="4.7" ry="4.89" fill="#2171b5"/>
<ellipse cx="807.9" cy="662.7" rx="4.7" ry="4.89" fill="#2171b5"/>
<ellipse cx="244.0" cy="658.0" rx="4.7" ry="4.89" fill="#2171b5"/>
<ellipse cx="250.0" cy="655.0" rx="4.7" ry="4.89" fill="#2171b5"/>
<ellipse cx="266.0" cy="666.0" rx="4.7" ry="4.89" fill="#2171b5"/>
<ellipse cx="270.0" cy="660.0" rx="4.7" ry="4.89" fill="#2171b5"/>
<ellipse cx="288.0" cy="668.0" rx="4.7" ry="4.89" fill="#2171b5"/>
<ellipse cx="240.0" cy="665.0" rx="4.7" ry="4.89" fill="#2171b5"/>
<ellipse cx="245.0" cy="652.0" rx="4.7" ry="4.89" fill="#2171b5"/>
<ellipse cx="264.0" cy="672.0" rx="4.7" ry="4.89" fill="#2171b5"/>
<ellipse cx="276.0" cy="672.0" rx="4.7" ry="4.89" fill="#2171b5"/>
<ellipse cx="287.0" cy="650.0" rx="4.7" ry="4.89" fill="#2171b5"/>
<ellipse cx="241.3" cy="733.8" rx="4.7" ry="4.89" fill="#08306b"/>
<ellipse cx="257.5" cy="730.5" rx="4.7" ry="4.89" fill="#08306b"/>
<ellipse cx="260.5" cy="725.1" rx="4.7" ry="4.89" fill="#08306b"/>
<ellipse cx="259.9" cy="736.6" rx="4.7" ry="4.89" fill="#08306b"/>
<ellipse cx="279.8" cy="713.1" rx="4.7" ry="4.89" fill="#08306b"/>
<ellipse cx="279.2" cy="723.3" rx="4.7" ry="4.89" fill="#08306b"/>
<ellipse cx="275.6" cy="731.7" rx="4.7" ry="4.89" fill="#08306b"/>
<ellipse cx="281.6" cy="729.9" rx="4.7" ry="4.89" fill="#08306b"/>
<ellipse cx="286.4" cy="736.0" rx="4.7" ry="4.89" fill="#08306b"/>
<ellipse cx="297.3" cy="720.3" rx="4.7" ry="4.89" fill="#08306b"/>
<ellipse cx="301.5" cy="711.9" rx="4.7" ry="4.89" fill="#08306b"/>
<ellipse cx="296.7" cy="729.9" rx="4.7" ry="4.89" fill="#08306b"/>
<ellipse cx="320.8" cy="732.1" rx="4.7" ry="4.89" fill="#08306b"/>
<ellipse cx="343.4" cy="713.4" rx="4.7" ry="4.89" fill="#08306b"/>
<ellipse cx="379.2" cy="728.4" rx="4.7" ry="4.89" fill="#08306b"/>
<ellipse cx="405.0" cy="712.3" rx="4.7" ry="4.89" fill="#08306b"/>
<ellipse cx="412.1" cy="726.9" rx="4.7" ry="4.89" fill="#08306b"/>
<ellipse cx="399.1" cy="736.0" rx="4.7" ry="4.89" fill="#08306b"/>
<ellipse cx="283.0" cy="733.0" rx="4.7" ry="4.89" fill="#08306b"/>
<ellipse cx="277.0" cy="727.0" rx="4.7" ry="4.89" fill="#08306b"/>
<ellipse cx="237.7" cy="789.7" rx="4.7" ry="4.89" fill="#ef3b2c"/>
<ellipse cx="240.7" cy="790.6" rx="4.7" ry="4.89" fill="#ef3b2c"/>
<ellipse cx="260.3" cy="787.0" rx="4.7" ry="4.89" fill="#ef3b2c"/>
<ellipse cx="288.0" cy="783.1" rx="4.7" ry="4.89" fill="#ef3b2c"/>
<ellipse cx="202.2" cy="919.2" rx="4.7" ry="4.89" fill="#f16913"/>
<ellipse cx="288.3" cy="970.6" rx="4.7" ry="4.89" fill="#fd8d3c"/>
<ellipse cx="311.4" cy="968.6" rx="4.7" ry="4.89" fill="#fd8d3c"/>
<ellipse cx="303.3" cy="975.9" rx="4.7" ry="4.89" fill="#fd8d3c"/>
<ellipse cx="269.6" cy="979.5" rx="4.7" ry="4.89" fill="#fd8d3c"/>
<ellipse cx="268.1" cy="977.6" rx="4.7" ry="4.89" fill="#fd8d3c"/>
<ellipse cx="270.4" cy="969.1" rx="4.7" ry="4.89" fill="#fd8d3c"/>
<ellipse cx="295.4" cy="987.5" rx="4.7" ry="4.89" fill="#fd8d3c"/>
<ellipse cx="274.2" cy="972.4" rx="4.7" ry="4.89" fill="#fd8d3c"/>
<ellipse cx="309.7" cy="990.5" rx="4.7" ry="4.89" fill="#fd8d3c"/>
<ellipse cx="306.2" cy="976.7" rx="4.7" ry="4.89" fill="#fd8d3c"/>
<ellipse cx="334.3" cy="968.0" rx="4.7" ry="4.89" fill="#fd8d3c"/>
<ellipse cx="326.0" cy="974.0" rx="4.7" ry="4.89" fill="#fd8d3c"/>
<ellipse cx="275.7" cy="969.7" rx="4.7" ry="4.89" fill="#fd8d3c"/>
<ellipse cx="287.2" cy="987.2" rx="4.7" ry="4.89" fill="#fd8d3c"/>
<ellipse cx="278.2" cy="981.3" rx="4.7" ry="4.89" fill="#fd8d3c"/>
<ellipse cx="310.5" cy="976.1" rx="4.7" ry="4.89" fill="#fd8d3c"/>
<ellipse cx="304.1" cy="968.4" rx="4.7" ry="4.89" fill="#fd8d3c"/>
<ellipse cx="269.7" cy="971.9" rx="4.7" ry="4.89" fill="#fd8d3c"/>
<ellipse cx="313.5" cy="977.5" rx="4.7" ry="4.89" fill="#fd8d3c"/>
<ellipse cx="287.6" cy="981.4" rx="4.7" ry="4.89" fill="#fd8d3c"/>
<ellipse cx="297.4" cy="974.3" rx="4.7" ry="4.89" fill="#fd8d3c"/>
<ellipse cx="321.5" cy="984.3" rx="4.7" ry="4.89" fill="#fd8d3c"/>
<ellipse cx="282.7" cy="981.2" rx="4.7" ry="4.89" fill="#fd8d3c"/>
<ellipse cx="302.5" cy="988.7" rx="4.7" ry="4.89" fill="#fd8d3c"/>
<ellipse cx="316.9" cy="974.0" rx="4.7" ry="4.89" fill="#fd8d3c"/>
<ellipse cx="334.6" cy="969.8" rx="4.7" ry="4.89" fill="#fd8d3c"/>
<ellipse cx="295.0" cy="985.7" rx="4.7" ry="4.89" fill="#fd8d3c"/>
<ellipse cx="276.2" cy="979.0" rx="4.7" ry="4.89" fill="#fd8d3c"/>
<ellipse cx="268.3" cy="983.5" rx="4.7" ry="4.89" fill="#fd8d3c"/>
<ellipse cx="319.4" cy="981.1" rx="4.7" ry="4.89" fill="#fd8d3c"/>
<ellipse cx="327.2" cy="974.6" rx="4.7" ry="4.89" fill="#fd8d3c"/>
<ellipse cx="314.5" cy="981.7" rx="4.7" ry="4.89" fill="#fd8d3c"/>
<ellipse cx="306.4" cy="978.2" rx="4.7" ry="4.89" fill="#fd8d3c"/>
<ellipse cx="324.7" cy="990.4" rx="4.7" ry="4.89" fill="#fd8d3c"/>
<ellipse cx="298.9" cy="983.4" rx="4.7" ry="4.89" fill="#fd8d3c"/>
<ellipse cx="269.8" cy="984.3" rx="4.7" ry="4.89" fill="#fd8d3c"/>
<ellipse cx="311.1" cy="991.6" rx="4.7" ry="4.89" fill="#fd8d3c"/>
<ellipse cx="323.4" cy="973.9" rx="4.7" ry="4.89" fill="#fd8d3c"/>
<ellipse cx="292.7" cy="983.5" rx="4.7" ry="4.89" fill="#fd8d3c"/>
<ellipse cx="267.1" cy="978.3" rx="4.7" ry="4.89" fill="#fd8d3c"/>
<ellipse cx="277.3" cy="969.7" rx="4.7" ry="4.89" fill="#fd8d3c"/>
<ellipse cx="269.7" cy="986.0" rx="4.7" ry="4.89" fill="#fd8d3c"/>
<ellipse cx="274.6" cy="973.0" rx="4.7" ry="4.89" fill="#fd8d3c"/>
<ellipse cx="293.1" cy="988.6" rx="4.7" ry="4.89" fill="#fd8d3c"/>
<ellipse cx="271.2" cy="978.0" rx="4.7" ry="4.89" fill="#fd8d3c"/>
<ellipse cx="304.2" cy="988.9" rx="4.7" ry="4.89" fill="#fd8d3c"/>
<ellipse cx="323.3" cy="988.4" rx="4.7" ry="4.89" fill="#fd8d3c"/>
<ellipse cx="285.1" cy="977.2" rx="4.7" ry="4.89" fill="#fd8d3c"/>
<ellipse cx="290.8" cy="988.9" rx="4.7" ry="4.89" fill="#fd8d3c"/>
<ellipse cx="333.0" cy="970.6" rx="4.7" ry="4.89" fill="#fd8d3c"/>
<ellipse cx="277.9" cy="972.6" rx="4.7" ry="4.89" fill="#fd8d3c"/>
<ellipse cx="282.0" cy="978.9" rx="4.7" ry="4.89" fill="#fd8d3c"/>
<ellipse cx="307.0" cy="973.4" rx="4.7" ry="4.89" fill="#fd8d3c"/>
<ellipse cx="265.8" cy="977.3" rx="4.7" ry="4.89" fill="#fd8d3c"/>
<ellipse cx="291.5" cy="981.0" rx="4.7" ry="4.89" fill="#fd8d3c"/>
<ellipse cx="332.7" cy="984.1" rx="4.7" ry="4.89" fill="#fd8d3c"/>
<ellipse cx="301.8" cy="982.2" rx="4.7" ry="4.89" fill="#fd8d3c"/>
<ellipse cx="313.2" cy="968.1" rx="4.7" ry="4.89" fill="#fd8d3c"/>
<ellipse cx="328.9" cy="986.3" rx="4.7" ry="4.89" fill="#fd8d3c"/>
<ellipse cx="327.2" cy="986.7" rx="4.7" ry="4.89" fill="#fd8d3c"/>
<ellipse cx="293.2" cy="976.8" rx="4.7" ry="4.89" fill="#fd8d3c"/>
<ellipse cx="272.8" cy="982.7" rx="4.7" ry="4.89" fill="#fd8d3c"/>
<ellipse cx="269.9" cy="968.5" rx="4.7" ry="4.89" fill="#fd8d3c"/>
<ellipse cx="280.2" cy="970.9" rx="4.7" ry="4.89" fill="#fd8d3c"/>
<ellipse cx="289.5" cy="968.1" rx="4.7" ry="4.89" fill="#fd8d3c"/>
<ellipse cx="265.5" cy="970.6" rx="4.7" ry="4.89" fill="#fd8d3c"/>
<ellipse cx="272.7" cy="975.9" rx="4.7" ry="4.89" fill="#fd8d3c"/>
<ellipse cx="267.3" cy="988.7" rx="4.7" ry="4.89" fill="#fd8d3c"/>
<ellipse cx="308.8" cy="970.5" rx="4.7" ry="4.89" fill="#fd8d3c"/>
<ellipse cx="283.3" cy="975.5" rx="4.7" ry="4.89" fill="#fd8d3c"/>
<ellipse cx="291.2" cy="969.9" rx="4.7" ry="4.89" fill="#fd8d3c"/>
<ellipse cx="325.4" cy="991.6" rx="4.7" ry="4.89" fill="#fd8d3c"/>
<ellipse cx="298.4" cy="978.9" rx="4.7" ry="4.89" fill="#fd8d3c"/>
<ellipse cx="271.6" cy="969.4" rx="4.7" ry="4.89" fill="#fd8d3c"/>
<ellipse cx="289.7" cy="973.4" rx="4.7" ry="4.89" fill="#fd8d3c"/>
<ellipse cx="323.9" cy="970.8" rx="4.7" ry="4.89" fill="#fd8d3c"/>
<ellipse cx="267.1" cy="990.6" rx="4.7" ry="4.89" fill="#fd8d3c"/>
<ellipse cx="302.7" cy="970.5" rx="4.7" ry="4.89" fill="#fd8d3c"/>
<ellipse cx="303.8" cy="967.5" rx="4.7" ry="4.89" fill="#fd8d3c"/>
<ellipse cx="302.7" cy="991.3" rx="4.7" ry="4.89" fill="#fd8d3c"/>
<ellipse cx="326.4" cy="984.2" rx="4.7" ry="4.89" fill="#fd8d3c"/>
<ellipse cx="283.9" cy="976.0" rx="4.7" ry="4.89" fill="#fd8d3c"/>
<ellipse cx="277.3" cy="986.1" rx="4.7" ry="4.89" fill="#fd8d3c"/>
<ellipse cx="303.0" cy="986.3" rx="4.7" ry="4.89" fill="#fd8d3c"/>
<ellipse cx="288.7" cy="972.4" rx="4.7" ry="4.89" fill="#fd8d3c"/>
<ellipse cx="322.7" cy="991.4" rx="4.7" ry="4.89" fill="#fd8d3c"/>
<ellipse cx="325.6" cy="987.0" rx="4.7" ry="4.89" fill="#fd8d3c"/>
<ellipse cx="323.2" cy="985.3" rx="4.7" ry="4.89" fill="#fd8d3c"/>
<ellipse cx="281.5" cy="979.7" rx="4.7" ry="4.89" fill="#fd8d3c"/>
<ellipse cx="290.6" cy="967.5" rx="4.7" ry="4.89" fill="#fd8d3c"/>
<ellipse cx="267.5" cy="973.8" rx="4.7" ry="4.89" fill="#fd8d3c"/>
<ellipse cx="283.8" cy="984.1" rx="4.7" ry="4.89" fill="#fd8d3c"/>
<ellipse cx="332.9" cy="978.0" rx="4.7" ry="4.89" fill="#fd8d3c"/>
<ellipse cx="331.6" cy="991.5" rx="4.7" ry="4.89" fill="#fd8d3c"/>
<ellipse cx="332.8" cy="975.9" rx="4.7" ry="4.89" fill="#fd8d3c"/>
<ellipse cx="281.0" cy="972.5" rx="4.7" ry="4.89" fill="#fd8d3c"/>
<ellipse cx="279.4" cy="971.9" rx="4.7" ry="4.89" fill="#fd8d3c"/>
<ellipse cx="309.5" cy="989.3" rx="4.7" ry="4.89" fill="#fd8d3c"/>
<ellipse cx="324.8" cy="978.8" rx="4.7" ry="4.89" fill="#fd8d3c"/>
<ellipse cx="311.5" cy="986.8" rx="4.7" ry="4.89" fill="#fd8d3c"/>
<ellipse cx="271.5" cy="983.3" rx="4.7" ry="4.89" fill="#fd8d3c"/>
<ellipse cx="329.6" cy="986.4" rx="4.7" ry="4.89" fill="#fd8d3c"/>
<ellipse cx="318.4" cy="978.8" rx="4.7" ry="4.89" fill="#fd8d3c"/>
<ellipse cx="278.1" cy="986.5" rx="4.7" ry="4.89" fill="#fd8d3c"/>
<ellipse cx="288.9" cy="986.8" rx="4.7" ry="4.89" fill="#fd8d3c"/>
<ellipse cx="334.0" cy="976.7" rx="4.7" ry="4.89" fill="#fd8d3c"/>
<ellipse cx="293.8" cy="990.5" rx="4.7" ry="4.89" fill="#fd8d3c"/>
<ellipse cx="316.6" cy="971.1" rx="4.7" ry="4.89" fill="#fd8d3c"/>
<ellipse cx="274.5" cy="970.6" rx="4.7" ry="4.89" fill="#fd8d3c"/>
<ellipse cx="329.3" cy="987.0" rx="4.7" ry="4.89" fill="#fd8d3c"/>
<ellipse cx="275.8" cy="987.5" rx="4.7" ry="4.89" fill="#fd8d3c"/>
<ellipse cx="334.6" cy="983.2" rx="4.7" ry="4.89" fill="#fd8d3c"/>
<ellipse cx="290.2" cy="980.5" rx="4.7" ry="4.89" fill="#fd8d3c"/>
<ellipse cx="274.7" cy="967.2" rx="4.7" ry="4.89" fill="#fd8d3c"/>
<ellipse cx="333.9" cy="983.0" rx="4.7" ry="4.89" fill="#fd8d3c"/>
<ellipse cx="302.6" cy="990.1" rx="4.7" ry="4.89" fill="#fd8d3c"/>
<ellipse cx="296.1" cy="988.6" rx="4.7" ry="4.89" fill="#fd8d3c"/>
<ellipse cx="323.7" cy="972.1" rx="4.7" ry="4.89" fill="#fd8d3c"/>
<ellipse cx="283.3" cy="974.1" rx="4.7" ry="4.89" fill="#fd8d3c"/>
<ellipse cx="282.5" cy="981.5" rx="4.7" ry="4.89" fill="#fd8d3c"/>
<ellipse cx="283.8" cy="977.3" rx="4.7" ry="4.89" fill="#fd8d3c"/>
<ellipse cx="274.7" cy="989.6" rx="4.7" ry="4.89" fill="#fd8d3c"/>
<ellipse cx="290.4" cy="978.3" rx="4.7" ry="4.89" fill="#fd8d3c"/>
<ellipse cx="306.6" cy="989.4" rx="4.7" ry="4.89" fill="#fd8d3c"/>
<ellipse cx="295.2" cy="989.7" rx="4.7" ry="4.89" fill="#fd8d3c"/>
<ellipse cx="300.9" cy="980.1" rx="4.7" ry="4.89" fill="#fd8d3c"/>
<ellipse cx="302.4" cy="967.3" rx="4.7" ry="4.89" fill="#fd8d3c"/>
<ellipse cx="296.5" cy="971.4" rx="4.7" ry="4.89" fill="#fd8d3c"/>
<ellipse cx="265.8" cy="986.8" rx="4.7" ry="4.89" fill="#fd8d3c"/>
<ellipse cx="277.7" cy="978.6" rx="4.7" ry="4.89" fill="#fd8d3c"/>
<ellipse cx="316.6" cy="980.7" rx="4.7" ry="4.89" fill="#fd8d3c"/>
<ellipse cx="288.5" cy="979.8" rx="4.7" ry="4.89" fill="#fd8d3c"/>
<ellipse cx="304.7" cy="986.4" rx="4.7" ry="4.89" fill="#fd8d3c"/>
<ellipse cx="273.0" cy="980.8" rx="4.7" ry="4.89" fill="#fd8d3c"/>
<ellipse cx="283.0" cy="973.7" rx="4.7" ry="4.89" fill="#fd8d3c"/>
<ellipse cx="319.9" cy="979.5" rx="4.7" ry="4.89" fill="#fd8d3c"/>
<ellipse cx="305.1" cy="985.8" rx="4.7" ry="4.89" fill="#fd8d3c"/>
<ellipse cx="329.8" cy="977.9" rx="4.7" ry="4.89" fill="#fd8d3c"/>
<ellipse cx="308.7" cy="979.4" rx="4.7" ry="4.89" fill="#fd8d3c"/>
<ellipse cx="301.6" cy="984.1" rx="4.7" ry="4.89" fill="#fd8d3c"/>
<ellipse cx="297.4" cy="980.1" rx="4.7" ry="4.89" fill="#fd8d3c"/>
<ellipse cx="299.2" cy="990.3" rx="4.7" ry="4.89" fill="#fd8d3c"/>
<ellipse cx="314.8" cy="988.7" rx="4.7" ry="4.89" fill="#fd8d3c"/>
<ellipse cx="331.9" cy="973.3" rx="4.7" ry="4.89" fill="#fd8d3c"/>
<ellipse cx="304.9" cy="990.4" rx="4.7" ry="4.89" fill="#fd8d3c"/>
<ellipse cx="324.7" cy="970.2" rx="4.7" ry="4.89" fill="#fd8d3c"/>
<ellipse cx="274.1" cy="977.9" rx="4.7" ry="4.89" fill="#fd8d3c"/>
<ellipse cx="270.6" cy="972.8" rx="4.7" ry="4.89" fill="#fd8d3c"/>
<ellipse cx="270.7" cy="983.5" rx="4.7" ry="4.89" fill="#fd8d3c"/>
<ellipse cx="320.8" cy="989.2" rx="4.7" ry="4.89" fill="#fd8d3c"/>
<ellipse cx="276.4" cy="984.7" rx="4.7" ry="4.89" fill="#fd8d3c"/>
<ellipse cx="312.0" cy="970.4" rx="4.7" ry="4.89" fill="#fd8d3c"/>
<ellipse cx="327.7" cy="991.0" rx="4.7" ry="4.89" fill="#fd8d3c"/>
<ellipse cx="281.0" cy="990.6" rx="4.7" ry="4.89" fill="#fd8d3c"/>
<ellipse cx="293.6" cy="979.0" rx="4.7" ry="4.89" fill="#fd8d3c"/>
<ellipse cx="335.3" cy="987.6" rx="4.7" ry="4.89" fill="#fd8d3c"/>
<ellipse cx="276.9" cy="977.6" rx="4.7" ry="4.89" fill="#fd8d3c"/>
<ellipse cx="301.9" cy="975.3" rx="4.7" ry="4.89" fill="#fd8d3c"/>
<ellipse cx="279.3" cy="974.8" rx="4.7" ry="4.89" fill="#fd8d3c"/>
<ellipse cx="316.4" cy="967.3" rx="4.7" ry="4.89" fill="#fd8d3c"/>
<ellipse cx="304.6" cy="977.8" rx="4.7" ry="4.89" fill="#fd8d3c"/>
<ellipse cx="266.8" cy="975.1" rx="4.7" ry="4.89" fill="#fd8d3c"/>
<ellipse cx="309.5" cy="979.6" rx="4.7" ry="4.89" fill="#fd8d3c"/>
<ellipse cx="270.0" cy="991.4" rx="4.7" ry="4.89" fill="#fd8d3c"/>
<ellipse cx="321.1" cy="991.1" rx="4.7" ry="4.89" fill="#fd8d3c"/>
<ellipse cx="272.9" cy="973.4" rx="4.7" ry="4.89" fill="#fd8d3c"/>
<ellipse cx="268.3" cy="986.3" rx="4.7" ry="4.89" fill="#fd8d3c"/>
<ellipse cx="284.6" cy="970.0" rx="4.7" ry="4.89" fill="#fd8d3c"/>
<ellipse cx="295.3" cy="989.6" rx="4.7" ry="4.89" fill="#fd8d3c"/>
<ellipse cx="323.2" cy="973.3" rx="4.7" ry="4.89" fill="#fd8d3c"/>
<ellipse cx="276.0" cy="989.8" rx="4.7" ry="4.89" fill="#fd8d3c"/>
<ellipse cx="305.7" cy="984.3" rx="4.7" ry="4.89" fill="#fd8d3c"/>
<ellipse cx="271.8" cy="968.2" rx="4.7" ry="4.89" fill="#fd8d3c"/>
<ellipse cx="314.0" cy="977.4" rx="4.7" ry="4.89" fill="#fd8d3c"/>
<ellipse cx="270.6" cy="990.3" rx="4.7" ry="4.89" fill="#fd8d3c"/>
<ellipse cx="310.2" cy="986.8" rx="4.7" ry="4.89" fill="#fd8d3c"/>
<ellipse cx="271.4" cy="988.2" rx="4.7" ry="4.89" fill="#fd8d3c"/>
<ellipse cx="270.2" cy="988.4" rx="4.7" ry="4.89" fill="#fd8d3c"/>
<ellipse cx="297.5" cy="975.3" rx="4.7" ry="4.89" fill="#fd8d3c"/>
<ellipse cx="304.5" cy="990.0" rx="4.7" ry="4.89" fill="#fd8d3c"/>
<ellipse cx="284.4" cy="970.0" rx="4.7" ry="4.89" fill="#fd8d3c"/>
<ellipse cx="302.6" cy="972.8" rx="4.7" ry="4.89" fill="#fd8d3c"/>
<ellipse cx="273.2" cy="970.8" rx="4.7" ry="4.89" fill="#fd8d3c"/>
<ellipse cx="269.1" cy="971.8" rx="4.7" ry="4.89" fill="#fd8d3c"/>
<ellipse cx="287.5" cy="974.4" rx="4.7" ry="4.89" fill="#fd8d3c"/>
<ellipse cx="319.0" cy="974.0" rx="4.7" ry="4.89" fill="#fd8d3c"/>
<ellipse cx="300.8" cy="971.2" rx="4.7" ry="4.89" fill="#fd8d3c"/>
<ellipse cx="290.0" cy="967.3" rx="4.7" ry="4.89" fill="#fd8d3c"/>
<ellipse cx="283.2" cy="967.2" rx="4.7" ry="4.89" fill="#fd8d3c"/>
<ellipse cx="317.2" cy="980.6" rx="4.7" ry="4.89" fill="#fd8d3c"/>
<ellipse cx="278.9" cy="978.7" rx="4.7" ry="4.89" fill="#fd8d3c"/>
<ellipse cx="331.4" cy="969.5" rx="4.7" ry="4.89" fill="#fd8d3c"/>
<ellipse cx="323.2" cy="977.6" rx="4.7" ry="4.89" fill="#fd8d3c"/>
<ellipse cx="300.4" cy="987.7" rx="4.7" ry="4.89" fill="#fd8d3c"/>
<ellipse cx="293.2" cy="979.5" rx="4.7" ry="4.89" fill="#fd8d3c"/>
<ellipse cx="314.0" cy="991.4" rx="4.7" ry="4.89" fill="#fd8d3c"/>
<ellipse cx="289.7" cy="987.6" rx="4.7" ry="4.89" fill="#fd8d3c"/>
<ellipse cx="315.3" cy="982.7" rx="4.7" ry="4.89" fill="#fd8d3c"/>
<ellipse cx="294.0" cy="975.5" rx="4.7" ry="4.89" fill="#fd8d3c"/>
<ellipse cx="269.3" cy="970.0" rx="4.7" ry="4.89" fill="#fd8d3c"/>
<ellipse cx="270.5" cy="985.3" rx="4.7" ry="4.89" fill="#fd8d3c"/>
<ellipse cx="283.5" cy="970.9" rx="4.7" ry="4.89" fill="#fd8d3c"/>
<ellipse cx="271.5" cy="987.8" rx="4.7" ry="4.89" fill="#fd8d3c"/>
<ellipse cx="326.9" cy="983.6" rx="4.7" ry="4.89" fill="#fd8d3c"/>
<ellipse cx="285.4" cy="972.9" rx="4.7" ry="4.89" fill="#fd8d3c"/>
<ellipse cx="286.2" cy="978.3" rx="4.7" ry="4.89" fill="#fd8d3c"/>
<ellipse cx="276.6" cy="977.9" rx="4.7" ry="4.89" fill="#fd8d3c"/>
<ellipse cx="284.1" cy="990.8" rx="4.7" ry="4.89" fill="#fd8d3c"/>
<ellipse cx="334.1" cy="980.5" rx="4.7" ry="4.89" fill="#fd8d3c"/>
<ellipse cx="282.7" cy="990.9" rx="4.7" ry="4.89" fill="#fd8d3c"/>
<ellipse cx="339.3" cy="975.7" rx="4.7" ry="4.89" fill="#fd8d3c"/>
<ellipse cx="330.0" cy="976.3" rx="4.7" ry="4.89" fill="#fd8d3c"/>
<ellipse cx="344.2" cy="979.4" rx="4.7" ry="4.89" fill="#fd8d3c"/>
<ellipse cx="336.0" cy="979.4" rx="4.7" ry="4.89" fill="#fd8d3c"/>
<ellipse cx="330.1" cy="973.4" rx="4.7" ry="4.89" fill="#fd8d3c"/>
<ellipse cx="332.7" cy="976.8" rx="4.7" ry="4.89" fill="#fd8d3c"/>
<ellipse cx="331.3" cy="967.4" rx="4.7" ry="4.89" fill="#fd8d3c"/>
<ellipse cx="339.1" cy="972.6" rx="4.7" ry="4.89" fill="#fd8d3c"/>
<ellipse cx="347.6" cy="980.0" rx="4.7" ry="4.89" fill="#fd8d3c"/>
<ellipse cx="352.5" cy="983.2" rx="4.7" ry="4.89" fill="#fd8d3c"/>
<ellipse cx="351.5" cy="988.8" rx="4.7" ry="4.89" fill="#fd8d3c"/>
<ellipse cx="341.7" cy="975.0" rx="4.7" ry="4.89" fill="#fd8d3c"/>
<ellipse cx="359.5" cy="970.5" rx="4.7" ry="4.89" fill="#fd8d3c"/>
<ellipse cx="351.7" cy="982.9" rx="4.7" ry="4.89" fill="#fd8d3c"/>
<ellipse cx="331.3" cy="987.7" rx="4.7" ry="4.89" fill="#fd8d3c"/>
<ellipse cx="356.8" cy="982.5" rx="4.7" ry="4.89" fill="#fd8d3c"/>
<ellipse cx="352.0" cy="987.1" rx="4.7" ry="4.89" fill="#fd8d3c"/>
<ellipse cx="334.2" cy="979.9" rx="4.7" ry="4.89" fill="#fd8d3c"/>
<ellipse cx="345.1" cy="987.7" rx="4.7" ry="4.89" fill="#fd8d3c"/>
<ellipse cx="354.1" cy="987.5" rx="4.7" ry="4.89" fill="#fd8d3c"/>
<ellipse cx="347.5" cy="989.1" rx="4.7" ry="4.89" fill="#fd8d3c"/>
<ellipse cx="350.5" cy="984.1" rx="4.7" ry="4.89" fill="#fd8d3c"/>
<ellipse cx="336.9" cy="967.6" rx="4.7" ry="4.89" fill="#fd8d3c"/>
<ellipse cx="334.0" cy="975.8" rx="4.7" ry="4.89" fill="#fd8d3c"/>
<ellipse cx="333.1" cy="987.7" rx="4.7" ry="4.89" fill="#fd8d3c"/>
<ellipse cx="346.8" cy="982.5" rx="4.7" ry="4.89" fill="#fd8d3c"/>
<ellipse cx="348.8" cy="983.8" rx="4.7" ry="4.89" fill="#fd8d3c"/>
<ellipse cx="344.7" cy="966.9" rx="4.7" ry="4.89" fill="#fd8d3c"/>
<ellipse cx="353.9" cy="985.5" rx="4.7" ry="4.89" fill="#fd8d3c"/>
<ellipse cx="345.1" cy="980.2" rx="4.7" ry="4.89" fill="#fd8d3c"/>
<ellipse cx="349.8" cy="968.5" rx="4.7" ry="4.89" fill="#fd8d3c"/>
<ellipse cx="352.1" cy="973.1" rx="4.7" ry="4.89" fill="#fd8d3c"/>
<ellipse cx="332.2" cy="973.4" rx="4.7" ry="4.89" fill="#fd8d3c"/>
<ellipse cx="351.9" cy="971.9" rx="4.7" ry="4.89" fill="#fd8d3c"/>
<ellipse cx="352.2" cy="991.2" rx="4.7" ry="4.89" fill="#fd8d3c"/>
<ellipse cx="344.8" cy="976.4" rx="4.7" ry="4.89" fill="#fd8d3c"/>
<ellipse cx="344.4" cy="983.9" rx="4.7" ry="4.89" fill="#fd8d3c"/>
<ellipse cx="353.0" cy="982.2" rx="4.7" ry="4.89" fill="#fd8d3c"/>
<ellipse cx="357.6" cy="972.5" rx="4.7" ry="4.89" fill="#fd8d3c"/>
<ellipse cx="360.4" cy="990.8" rx="4.7" ry="4.89" fill="#fd8d3c"/>
<ellipse cx="348.4" cy="989.4" rx="4.7" ry="4.89" fill="#fd8d3c"/>
<ellipse cx="372.3" cy="974.6" rx="4.7" ry="4.89" fill="#fd8d3c"/>
<ellipse cx="372.3" cy="985.8" rx="4.7" ry="4.89" fill="#fd8d3c"/>
<ellipse cx="377.3" cy="985.8" rx="4.7" ry="4.89" fill="#fd8d3c"/>
<ellipse cx="381.5" cy="971.8" rx="4.7" ry="4.89" fill="#fd8d3c"/>
<ellipse cx="387.8" cy="990.1" rx="4.7" ry="4.89" fill="#fd8d3c"/>
<ellipse cx="392.0" cy="968.3" rx="4.7" ry="4.89" fill="#fd8d3c"/>
<ellipse cx="398.3" cy="968.3" rx="4.7" ry="4.89" fill="#fd8d3c"/>
<ellipse cx="393.4" cy="978.1" rx="4.7" ry="4.89" fill="#fd8d3c"/>
<ellipse cx="394.8" cy="982.3" rx="4.7" ry="4.89" fill="#fd8d3c"/>
<ellipse cx="403.3" cy="972.5" rx="4.7" ry="4.89" fill="#fd8d3c"/>
<ellipse cx="411.7" cy="968.3" rx="4.7" ry="4.89" fill="#fd8d3c"/>
<ellipse cx="416.6" cy="974.6" rx="4.7" ry="4.89" fill="#fd8d3c"/>
<ellipse cx="416.6" cy="985.8" rx="4.7" ry="4.89" fill="#fd8d3c"/>
<ellipse cx="406.1" cy="990.8" rx="4.7" ry="4.89" fill="#fd8d3c"/>
<ellipse cx="430.0" cy="989.4" rx="4.7" ry="4.89" fill="#fd8d3c"/>
<ellipse cx="437.0" cy="966.9" rx="4.7" ry="4.89" fill="#fd8d3c"/>
<ellipse cx="435.6" cy="974.6" rx="4.7" ry="4.89" fill="#fd8d3c"/>
<ellipse cx="441.9" cy="989.4" rx="4.7" ry="4.89" fill="#fd8d3c"/>
<ellipse cx="453.9" cy="968.3" rx="4.7" ry="4.89" fill="#fd8d3c"/>
<ellipse cx="454.6" cy="980.2" rx="4.7" ry="4.89" fill="#fd8d3c"/>
<ellipse cx="465.1" cy="973.2" rx="4.7" ry="4.89" fill="#fd8d3c"/>
<ellipse cx="466.5" cy="985.1" rx="4.7" ry="4.89" fill="#fd8d3c"/>
<ellipse cx="487.6" cy="990.6" rx="4.7" ry="4.89" fill="#fd8d3c"/>
<ellipse cx="493.4" cy="968.9" rx="4.7" ry="4.89" fill="#fd8d3c"/>
<ellipse cx="513.6" cy="972.3" rx="4.7" ry="4.89" fill="#fd8d3c"/>
<ellipse cx="535.3" cy="981.0" rx="4.7" ry="4.89" fill="#fd8d3c"/>
<ellipse cx="533.4" cy="990.6" rx="4.7" ry="4.89" fill="#fd8d3c"/>
<ellipse cx="562.3" cy="990.6" rx="4.7" ry="4.89" fill="#fd8d3c"/>
<ellipse cx="588.8" cy="986.7" rx="4.7" ry="4.89" fill="#fd8d3c"/>
<ellipse cx="599.4" cy="967.5" rx="4.7" ry="4.89" fill="#fd8d3c"/>
<ellipse cx="613.9" cy="975.2" rx="4.7" ry="4.89" fill="#fd8d3c"/>
<ellipse cx="699.6" cy="969.9" rx="4.7" ry="4.89" fill="#fd8d3c"/>
<rect x="172.6" y="623.1" width="665.0" height="393.29999999999995" fill="none" stroke="#262626" stroke-width="1.5"/>
<line x1="165.0" y1="660.8" x2="172.6" y2="660.8" stroke="#262626" stroke-width="2.2"/>
<text x="159.0" y="670.9" font-size="27.6" text-anchor="end" font-weight="normal" fill="#000" transform="translate(0,-20.13) scale(1,1.03)">Age</text>
<line x1="165.0" y1="724.5" x2="172.6" y2="724.5" stroke="#262626" stroke-width="2.2"/>
<text x="159.0" y="734.6" font-size="27.6" text-anchor="end" font-weight="normal" fill="#000" transform="translate(0,-22.04) scale(1,1.03)">Sex</text>
<line x1="165.0" y1="788.1" x2="172.6" y2="788.1" stroke="#262626" stroke-width="2.2"/>
<text x="159.0" y="798.2" font-size="27.6" text-anchor="end" font-weight="normal" fill="#000" transform="translate(0,-23.95) scale(1,1.03)">Smoking</text>
<line x1="165.0" y1="851.8" x2="172.6" y2="851.8" stroke="#262626" stroke-width="2.2"/>
<text x="159.0" y="861.9" font-size="27.6" text-anchor="end" font-weight="normal" fill="#000" transform="translate(0,-25.86) scale(1,1.03)">CMV</text>
<line x1="165.0" y1="915.4" x2="172.6" y2="915.4" stroke="#262626" stroke-width="2.2"/>
<text x="159.0" y="925.5" font-size="27.6" text-anchor="end" font-weight="normal" fill="#000" transform="translate(0,-27.77) scale(1,1.03)">CRP</text>
<line x1="165.0" y1="979.1" x2="172.6" y2="979.1" stroke="#262626" stroke-width="2.2"/>
<text x="159.0" y="989.2" font-size="27.6" text-anchor="end" font-weight="normal" fill="#000" transform="translate(0,-29.68) scale(1,1.03)">Myeloid</text>
<line x1="303.4" y1="1016.4" x2="303.4" y2="1023.8" stroke="#262626" stroke-width="2.2"/>
<text x="303.4" y="1049.8" font-size="28" text-anchor="middle" font-weight="normal" fill="#000" transform="translate(0,-31.49) scale(1,1.03)">5</text>
<line x1="444.4" y1="1016.4" x2="444.4" y2="1023.8" stroke="#262626" stroke-width="2.2"/>
<text x="444.4" y="1049.8" font-size="28" text-anchor="middle" font-weight="normal" fill="#000" transform="translate(0,-31.49) scale(1,1.03)">10</text>
<line x1="585.4" y1="1016.4" x2="585.4" y2="1023.8" stroke="#262626" stroke-width="2.2"/>
<text x="585.4" y="1049.8" font-size="28" text-anchor="middle" font-weight="normal" fill="#000" transform="translate(0,-31.49) scale(1,1.03)">15</text>
<line x1="726.4" y1="1016.4" x2="726.4" y2="1023.8" stroke="#262626" stroke-width="2.2"/>
<text x="726.4" y="1049.8" font-size="28" text-anchor="middle" font-weight="normal" fill="#000" transform="translate(0,-31.49) scale(1,1.03)">20</text>
<text x="513.7" y="1089" transform="translate(0,-32.67) scale(1,1.03)" font-size="28" text-anchor="middle">−log<tspan font-size="23.5" dy="13">10</tspan><tspan dy="-13">(adj. </tspan><tspan font-style="italic">P</tspan>−value)</text>
<rect x="862.2" y="629.30" width="101.1" height="63.83" fill="#2171b5"/>
<text x="912.8" y="671.1" font-size="27.5" text-anchor="middle" font-weight="normal" fill="#fff" transform="translate(0,-20.13) scale(1,1.03)">68</text>
<rect x="862.2" y="692.83" width="101.1" height="63.83" fill="#08306b"/>
<text x="912.8" y="734.6" font-size="27.5" text-anchor="middle" font-weight="normal" fill="#fff" transform="translate(0,-22.04) scale(1,1.03)">20</text>
<rect x="862.2" y="756.36" width="101.1" height="63.83" fill="#ef3b2c"/>
<text x="912.8" y="798.1" font-size="27.5" text-anchor="middle" font-weight="normal" fill="#fff" transform="translate(0,-23.94) scale(1,1.03)">4</text>
<rect x="862.2" y="819.89" width="101.1" height="63.83" fill="#a50f15"/>
<text x="912.8" y="861.7" font-size="27.5" text-anchor="middle" font-weight="normal" fill="#fff" transform="translate(0,-25.85) scale(1,1.03)">0</text>
<rect x="862.2" y="883.42" width="101.1" height="63.83" fill="#f16913"/>
<text x="912.8" y="925.2" font-size="27.5" text-anchor="middle" font-weight="normal" fill="#fff" transform="translate(0,-27.76) scale(1,1.03)">1</text>
<rect x="862.2" y="946.95" width="101.1" height="63.83" fill="#fd8d3c"/>
<text x="912.8" y="988.7" font-size="27.5" text-anchor="middle" font-weight="normal" fill="#fff" transform="translate(0,-29.66) scale(1,1.03)">249</text>
<ellipse cx="236.4" cy="1460.4" rx="4.8" ry="4.99" fill="#c7e9c0"/>
<ellipse cx="252.0" cy="1331.7" rx="4.8" ry="4.99" fill="#74c476"/>
<ellipse cx="203.0" cy="1206.2" rx="4.8" ry="4.99" fill="#238b45"/>
<ellipse cx="361.5" cy="1209.7" rx="4.8" ry="4.99" fill="#238b45"/>
<ellipse cx="180.8" cy="1183.2" rx="4.8" ry="4.99" fill="#238b45"/>
<ellipse cx="222.0" cy="1192.3" rx="4.8" ry="4.99" fill="#238b45"/>
<ellipse cx="123.1" cy="1351.4" rx="4.8" ry="4.99" fill="#74c476"/>
<ellipse cx="218.2" cy="1340.6" rx="4.8" ry="4.99" fill="#74c476"/>
<ellipse cx="229.5" cy="1321.7" rx="4.8" ry="4.99" fill="#74c476"/>
<ellipse cx="313.0" cy="1355.3" rx="4.8" ry="4.99" fill="#74c476"/>
<ellipse cx="178.5" cy="1332.0" rx="4.8" ry="4.99" fill="#74c476"/>
<ellipse cx="281.6" cy="1338.6" rx="4.8" ry="4.99" fill="#74c476"/>
<ellipse cx="244.6" cy="1490.4" rx="4.8" ry="4.99" fill="#c7e9c0"/>
<ellipse cx="321.9" cy="1359.7" rx="4.8" ry="4.99" fill="#74c476"/>
<ellipse cx="278.9" cy="1468.1" rx="4.8" ry="4.99" fill="#c7e9c0"/>
<ellipse cx="219.6" cy="1352.1" rx="4.8" ry="4.99" fill="#74c476"/>
<ellipse cx="358.1" cy="1204.1" rx="4.8" ry="4.99" fill="#238b45"/>
<ellipse cx="248.4" cy="1334.7" rx="4.8" ry="4.99" fill="#74c476"/>
<ellipse cx="299.1" cy="1514.5" rx="4.8" ry="4.99" fill="#c7e9c0"/>
<ellipse cx="319.2" cy="1161.1" rx="4.8" ry="4.99" fill="#238b45"/>
<ellipse cx="260.6" cy="1481.9" rx="4.8" ry="4.99" fill="#c7e9c0"/>
<ellipse cx="260.8" cy="1356.4" rx="4.8" ry="4.99" fill="#74c476"/>
<ellipse cx="232.2" cy="1352.6" rx="4.8" ry="4.99" fill="#74c476"/>
<ellipse cx="147.9" cy="1442.2" rx="4.8" ry="4.99" fill="#c7e9c0"/>
<ellipse cx="329.1" cy="1170.1" rx="4.8" ry="4.99" fill="#238b45"/>
<ellipse cx="226.6" cy="1199.4" rx="4.8" ry="4.99" fill="#238b45"/>
<ellipse cx="243.0" cy="1319.9" rx="4.8" ry="4.99" fill="#74c476"/>
<ellipse cx="348.3" cy="1177.2" rx="4.8" ry="4.99" fill="#238b45"/>
<ellipse cx="209.3" cy="1356.1" rx="4.8" ry="4.99" fill="#74c476"/>
<ellipse cx="272.5" cy="1330.5" rx="4.8" ry="4.99" fill="#74c476"/>
<ellipse cx="292.3" cy="1342.3" rx="4.8" ry="4.99" fill="#74c476"/>
<ellipse cx="229.9" cy="1333.4" rx="4.8" ry="4.99" fill="#74c476"/>
<ellipse cx="263.3" cy="1317.8" rx="4.8" ry="4.99" fill="#74c476"/>
<ellipse cx="330.8" cy="1347.8" rx="4.8" ry="4.99" fill="#74c476"/>
<ellipse cx="279.6" cy="1442.2" rx="4.8" ry="4.99" fill="#c7e9c0"/>
<ellipse cx="364.4" cy="1504.8" rx="4.8" ry="4.99" fill="#c7e9c0"/>
<ellipse cx="279.0" cy="1468.3" rx="4.8" ry="4.99" fill="#c7e9c0"/>
<ellipse cx="247.1" cy="1203.1" rx="4.8" ry="4.99" fill="#238b45"/>
<ellipse cx="289.7" cy="1200.2" rx="4.8" ry="4.99" fill="#238b45"/>
<ellipse cx="224.6" cy="1200.7" rx="4.8" ry="4.99" fill="#238b45"/>
<ellipse cx="328.6" cy="1351.2" rx="4.8" ry="4.99" fill="#74c476"/>
<ellipse cx="313.4" cy="1341.2" rx="4.8" ry="4.99" fill="#74c476"/>
<ellipse cx="314.2" cy="1220.4" rx="4.8" ry="4.99" fill="#238b45"/>
<ellipse cx="246.0" cy="1350.0" rx="4.8" ry="4.99" fill="#74c476"/>
<ellipse cx="263.1" cy="1196.8" rx="4.8" ry="4.99" fill="#238b45"/>
<ellipse cx="359.4" cy="1213.3" rx="4.8" ry="4.99" fill="#238b45"/>
<ellipse cx="180.9" cy="1185.4" rx="4.8" ry="4.99" fill="#238b45"/>
<ellipse cx="418.6" cy="1532.5" rx="4.8" ry="4.99" fill="#c7e9c0"/>
<ellipse cx="257.4" cy="1351.5" rx="4.8" ry="4.99" fill="#74c476"/>
<ellipse cx="216.6" cy="1199.0" rx="4.8" ry="4.99" fill="#238b45"/>
<ellipse cx="130.2" cy="1369.4" rx="4.8" ry="4.99" fill="#74c476"/>
<ellipse cx="266.5" cy="1332.0" rx="4.8" ry="4.99" fill="#74c476"/>
<ellipse cx="277.3" cy="1192.6" rx="4.8" ry="4.99" fill="#238b45"/>
<ellipse cx="241.6" cy="1451.9" rx="4.8" ry="4.99" fill="#c7e9c0"/>
<ellipse cx="314.0" cy="1334.3" rx="4.8" ry="4.99" fill="#74c476"/>
<ellipse cx="300.2" cy="1329.6" rx="4.8" ry="4.99" fill="#74c476"/>
<ellipse cx="264.6" cy="1210.1" rx="4.8" ry="4.99" fill="#238b45"/>
<ellipse cx="168.6" cy="1211.1" rx="4.8" ry="4.99" fill="#238b45"/>
<ellipse cx="315.3" cy="1348.4" rx="4.8" ry="4.99" fill="#74c476"/>
<ellipse cx="260.8" cy="1349.3" rx="4.8" ry="4.99" fill="#74c476"/>
<ellipse cx="248.9" cy="1329.1" rx="4.8" ry="4.99" fill="#74c476"/>
<ellipse cx="247.7" cy="1353.4" rx="4.8" ry="4.99" fill="#74c476"/>
<ellipse cx="309.3" cy="1451.3" rx="4.8" ry="4.99" fill="#c7e9c0"/>
<ellipse cx="344.4" cy="1165.2" rx="4.8" ry="4.99" fill="#238b45"/>
<ellipse cx="305.3" cy="1342.6" rx="4.8" ry="4.99" fill="#74c476"/>
<ellipse cx="154.3" cy="1287.5" rx="4.8" ry="4.99" fill="#74c476"/>
<ellipse cx="216.4" cy="1207.2" rx="4.8" ry="4.99" fill="#238b45"/>
<ellipse cx="254.3" cy="1194.9" rx="4.8" ry="4.99" fill="#238b45"/>
<ellipse cx="193.6" cy="1341.7" rx="4.8" ry="4.99" fill="#74c476"/>
<ellipse cx="325.1" cy="1356.7" rx="4.8" ry="4.99" fill="#74c476"/>
<ellipse cx="365.4" cy="1493.4" rx="4.8" ry="4.99" fill="#c7e9c0"/>
<ellipse cx="273.3" cy="1343.5" rx="4.8" ry="4.99" fill="#74c476"/>
<ellipse cx="171.8" cy="1192.1" rx="4.8" ry="4.99" fill="#238b45"/>
<ellipse cx="207.8" cy="1223.4" rx="4.8" ry="4.99" fill="#238b45"/>
<ellipse cx="352.3" cy="1207.3" rx="4.8" ry="4.99" fill="#238b45"/>
<ellipse cx="194.4" cy="1315.2" rx="4.8" ry="4.99" fill="#74c476"/>
<ellipse cx="290.5" cy="1336.0" rx="4.8" ry="4.99" fill="#74c476"/>
<ellipse cx="234.3" cy="1345.0" rx="4.8" ry="4.99" fill="#74c476"/>
<ellipse cx="345.8" cy="1188.7" rx="4.8" ry="4.99" fill="#238b45"/>
<ellipse cx="190.4" cy="1486.3" rx="4.8" ry="4.99" fill="#c7e9c0"/>
<ellipse cx="232.6" cy="1469.3" rx="4.8" ry="4.99" fill="#c7e9c0"/>
<ellipse cx="278.1" cy="1202.1" rx="4.8" ry="4.99" fill="#238b45"/>
<ellipse cx="307.1" cy="1161.1" rx="4.8" ry="4.99" fill="#238b45"/>
<ellipse cx="269.8" cy="1343.6" rx="4.8" ry="4.99" fill="#74c476"/>
<ellipse cx="281.7" cy="1374.3" rx="4.8" ry="4.99" fill="#74c476"/>
<ellipse cx="294.4" cy="1183.2" rx="4.8" ry="4.99" fill="#238b45"/>
<ellipse cx="312.8" cy="1361.5" rx="4.8" ry="4.99" fill="#74c476"/>
<ellipse cx="361.9" cy="1175.8" rx="4.8" ry="4.99" fill="#238b45"/>
<ellipse cx="235.7" cy="1326.5" rx="4.8" ry="4.99" fill="#74c476"/>
<ellipse cx="181.7" cy="1337.5" rx="4.8" ry="4.99" fill="#74c476"/>
<ellipse cx="213.5" cy="1447.3" rx="4.8" ry="4.99" fill="#c7e9c0"/>
<ellipse cx="262.8" cy="1353.6" rx="4.8" ry="4.99" fill="#74c476"/>
<ellipse cx="182.4" cy="1220.4" rx="4.8" ry="4.99" fill="#238b45"/>
<ellipse cx="190.9" cy="1180.9" rx="4.8" ry="4.99" fill="#238b45"/>
<ellipse cx="317.2" cy="1461.6" rx="4.8" ry="4.99" fill="#c7e9c0"/>
<ellipse cx="293.4" cy="1474.7" rx="4.8" ry="4.99" fill="#c7e9c0"/>
<ellipse cx="303.7" cy="1345.1" rx="4.8" ry="4.99" fill="#74c476"/>
<ellipse cx="301.0" cy="1355.3" rx="4.8" ry="4.99" fill="#74c476"/>
<ellipse cx="281.6" cy="1462.1" rx="4.8" ry="4.99" fill="#c7e9c0"/>
<ellipse cx="222.5" cy="1175.2" rx="4.8" ry="4.99" fill="#238b45"/>
<ellipse cx="212.9" cy="1198.5" rx="4.8" ry="4.99" fill="#238b45"/>
<ellipse cx="235.2" cy="1366.0" rx="4.8" ry="4.99" fill="#74c476"/>
<ellipse cx="315.9" cy="1338.0" rx="4.8" ry="4.99" fill="#74c476"/>
<ellipse cx="152.3" cy="1205.3" rx="4.8" ry="4.99" fill="#238b45"/>
<ellipse cx="241.8" cy="1474.4" rx="4.8" ry="4.99" fill="#c7e9c0"/>
<ellipse cx="206.5" cy="1482.3" rx="4.8" ry="4.99" fill="#c7e9c0"/>
<ellipse cx="217.7" cy="1334.8" rx="4.8" ry="4.99" fill="#74c476"/>
<ellipse cx="286.8" cy="1341.4" rx="4.8" ry="4.99" fill="#74c476"/>
<ellipse cx="267.7" cy="1352.9" rx="4.8" ry="4.99" fill="#74c476"/>
<ellipse cx="409.6" cy="1401.0" rx="4.8" ry="4.99" fill="#74c476"/>
<ellipse cx="341.9" cy="1176.0" rx="4.8" ry="4.99" fill="#238b45"/>
<ellipse cx="235.3" cy="1353.1" rx="4.8" ry="4.99" fill="#74c476"/>
<ellipse cx="186.0" cy="1519.5" rx="4.8" ry="4.99" fill="#c7e9c0"/>
<ellipse cx="205.1" cy="1361.4" rx="4.8" ry="4.99" fill="#74c476"/>
<ellipse cx="357.6" cy="1166.4" rx="4.8" ry="4.99" fill="#238b45"/>
<ellipse cx="244.9" cy="1196.1" rx="4.8" ry="4.99" fill="#238b45"/>
<ellipse cx="182.1" cy="1346.6" rx="4.8" ry="4.99" fill="#74c476"/>
<ellipse cx="196.2" cy="1195.5" rx="4.8" ry="4.99" fill="#238b45"/>
<ellipse cx="269.2" cy="1185.2" rx="4.8" ry="4.99" fill="#238b45"/>
<ellipse cx="326.6" cy="1355.6" rx="4.8" ry="4.99" fill="#74c476"/>
<ellipse cx="183.0" cy="1230.4" rx="4.8" ry="4.99" fill="#238b45"/>
<ellipse cx="259.6" cy="1366.3" rx="4.8" ry="4.99" fill="#74c476"/>
<ellipse cx="310.9" cy="1184.4" rx="4.8" ry="4.99" fill="#238b45"/>
<ellipse cx="264.0" cy="1336.5" rx="4.8" ry="4.99" fill="#74c476"/>
<ellipse cx="220.8" cy="1321.8" rx="4.8" ry="4.99" fill="#74c476"/>
<ellipse cx="238.3" cy="1200.6" rx="4.8" ry="4.99" fill="#238b45"/>
<ellipse cx="279.4" cy="1330.3" rx="4.8" ry="4.99" fill="#74c476"/>
<ellipse cx="250.4" cy="1324.0" rx="4.8" ry="4.99" fill="#74c476"/>
<ellipse cx="326.0" cy="1334.2" rx="4.8" ry="4.99" fill="#74c476"/>
<ellipse cx="257.1" cy="1480.0" rx="4.8" ry="4.99" fill="#c7e9c0"/>
<ellipse cx="265.7" cy="1514.1" rx="4.8" ry="4.99" fill="#c7e9c0"/>
<ellipse cx="273.5" cy="1193.8" rx="4.8" ry="4.99" fill="#238b45"/>
<ellipse cx="228.8" cy="1340.9" rx="4.8" ry="4.99" fill="#74c476"/>
<ellipse cx="204.0" cy="1342.4" rx="4.8" ry="4.99" fill="#74c476"/>
<ellipse cx="303.0" cy="1377.1" rx="4.8" ry="4.99" fill="#74c476"/>
<ellipse cx="340.3" cy="1232.4" rx="4.8" ry="4.99" fill="#238b45"/>
<ellipse cx="258.2" cy="1378.8" rx="4.8" ry="4.99" fill="#74c476"/>
<ellipse cx="288.5" cy="1350.4" rx="4.8" ry="4.99" fill="#74c476"/>
<ellipse cx="287.0" cy="1369.1" rx="4.8" ry="4.99" fill="#74c476"/>
<ellipse cx="221.1" cy="1349.2" rx="4.8" ry="4.99" fill="#74c476"/>
<ellipse cx="282.0" cy="1456.2" rx="4.8" ry="4.99" fill="#c7e9c0"/>
<ellipse cx="271.2" cy="1498.8" rx="4.8" ry="4.99" fill="#c7e9c0"/>
<ellipse cx="192.7" cy="1178.8" rx="4.8" ry="4.99" fill="#238b45"/>
<ellipse cx="234.5" cy="1344.1" rx="4.8" ry="4.99" fill="#74c476"/>
<ellipse cx="311.3" cy="1350.6" rx="4.8" ry="4.99" fill="#74c476"/>
<ellipse cx="306.8" cy="1475.1" rx="4.8" ry="4.99" fill="#c7e9c0"/>
<ellipse cx="140.2" cy="1316.2" rx="4.8" ry="4.99" fill="#74c476"/>
<ellipse cx="220.5" cy="1187.5" rx="4.8" ry="4.99" fill="#238b45"/>
<ellipse cx="283.1" cy="1509.4" rx="4.8" ry="4.99" fill="#c7e9c0"/>
<ellipse cx="238.3" cy="1360.0" rx="4.8" ry="4.99" fill="#74c476"/>
<ellipse cx="268.7" cy="1172.0" rx="4.8" ry="4.99" fill="#238b45"/>
<ellipse cx="327.5" cy="1366.5" rx="4.8" ry="4.99" fill="#74c476"/>
<ellipse cx="274.7" cy="1494.4" rx="4.8" ry="4.99" fill="#c7e9c0"/>
<ellipse cx="272.7" cy="1448.2" rx="4.8" ry="4.99" fill="#c7e9c0"/>
<ellipse cx="240.3" cy="1340.1" rx="4.8" ry="4.99" fill="#74c476"/>
<ellipse cx="260.5" cy="1194.3" rx="4.8" ry="4.99" fill="#238b45"/>
<ellipse cx="251.6" cy="1461.5" rx="4.8" ry="4.99" fill="#c7e9c0"/>
<ellipse cx="211.1" cy="1369.1" rx="4.8" ry="4.99" fill="#74c476"/>
<ellipse cx="204.2" cy="1337.4" rx="4.8" ry="4.99" fill="#74c476"/>
<ellipse cx="316.1" cy="1369.2" rx="4.8" ry="4.99" fill="#74c476"/>
<ellipse cx="266.8" cy="1364.4" rx="4.8" ry="4.99" fill="#74c476"/>
<ellipse cx="174.7" cy="1443.8" rx="4.8" ry="4.99" fill="#c7e9c0"/>
<ellipse cx="270.0" cy="1205.3" rx="4.8" ry="4.99" fill="#238b45"/>
<ellipse cx="353.9" cy="1168.6" rx="4.8" ry="4.99" fill="#238b45"/>
<ellipse cx="282.9" cy="1331.9" rx="4.8" ry="4.99" fill="#74c476"/>
<ellipse cx="252.6" cy="1205.0" rx="4.8" ry="4.99" fill="#238b45"/>
<ellipse cx="171.9" cy="1433.1" rx="4.8" ry="4.99" fill="#c7e9c0"/>
<ellipse cx="342.4" cy="1182.5" rx="4.8" ry="4.99" fill="#238b45"/>
<ellipse cx="317.6" cy="1339.6" rx="4.8" ry="4.99" fill="#74c476"/>
<ellipse cx="236.6" cy="1479.3" rx="4.8" ry="4.99" fill="#c7e9c0"/>
<ellipse cx="294.2" cy="1344.5" rx="4.8" ry="4.99" fill="#74c476"/>
<ellipse cx="299.1" cy="1526.5" rx="4.8" ry="4.99" fill="#c7e9c0"/>
<ellipse cx="215.7" cy="1342.4" rx="4.8" ry="4.99" fill="#74c476"/>
<ellipse cx="215.7" cy="1354.2" rx="4.8" ry="4.99" fill="#74c476"/>
<ellipse cx="249.2" cy="1195.5" rx="4.8" ry="4.99" fill="#238b45"/>
<ellipse cx="239.1" cy="1189.1" rx="4.8" ry="4.99" fill="#238b45"/>
<ellipse cx="319.4" cy="1358.7" rx="4.8" ry="4.99" fill="#74c476"/>
<ellipse cx="248.9" cy="1318.4" rx="4.8" ry="4.99" fill="#74c476"/>
<ellipse cx="294.1" cy="1167.1" rx="4.8" ry="4.99" fill="#238b45"/>
<ellipse cx="174.3" cy="1487.3" rx="4.8" ry="4.99" fill="#c7e9c0"/>
<ellipse cx="288.6" cy="1182.3" rx="4.8" ry="4.99" fill="#238b45"/>
<ellipse cx="308.7" cy="1175.8" rx="4.8" ry="4.99" fill="#238b45"/>
<ellipse cx="188.8" cy="1194.5" rx="4.8" ry="4.99" fill="#238b45"/>
<ellipse cx="285.6" cy="1346.4" rx="4.8" ry="4.99" fill="#74c476"/>
<ellipse cx="230.4" cy="1351.4" rx="4.8" ry="4.99" fill="#74c476"/>
<ellipse cx="333.9" cy="1191.4" rx="4.8" ry="4.99" fill="#238b45"/>
<ellipse cx="229.1" cy="1217.4" rx="4.8" ry="4.99" fill="#238b45"/>
<ellipse cx="240.5" cy="1350.0" rx="4.8" ry="4.99" fill="#74c476"/>
<ellipse cx="160.0" cy="1433.6" rx="4.8" ry="4.99" fill="#c7e9c0"/>
<ellipse cx="236.6" cy="1446.2" rx="4.8" ry="4.99" fill="#c7e9c0"/>
<ellipse cx="257.9" cy="1362.0" rx="4.8" ry="4.99" fill="#74c476"/>
<ellipse cx="358.5" cy="1204.7" rx="4.8" ry="4.99" fill="#238b45"/>
<ellipse cx="220.5" cy="1503.8" rx="4.8" ry="4.99" fill="#c7e9c0"/>
<ellipse cx="353.8" cy="1187.6" rx="4.8" ry="4.99" fill="#238b45"/>
<ellipse cx="291.5" cy="1180.3" rx="4.8" ry="4.99" fill="#238b45"/>
<ellipse cx="289.5" cy="1194.6" rx="4.8" ry="4.99" fill="#238b45"/>
<ellipse cx="206.5" cy="1364.4" rx="4.8" ry="4.99" fill="#74c476"/>
<ellipse cx="411.0" cy="1193.2" rx="4.8" ry="4.99" fill="#238b45"/>
<ellipse cx="263.6" cy="1319.5" rx="4.8" ry="4.99" fill="#74c476"/>
<ellipse cx="267.2" cy="1191.1" rx="4.8" ry="4.99" fill="#238b45"/>
<ellipse cx="284.4" cy="1240.4" rx="4.8" ry="4.99" fill="#238b45"/>
<ellipse cx="290.1" cy="1498.4" rx="4.8" ry="4.99" fill="#c7e9c0"/>
<ellipse cx="351.1" cy="1199.2" rx="4.8" ry="4.99" fill="#238b45"/>
<ellipse cx="325.5" cy="1354.6" rx="4.8" ry="4.99" fill="#74c476"/>
<ellipse cx="283.8" cy="1386.5" rx="4.8" ry="4.99" fill="#74c476"/>
<ellipse cx="311.7" cy="1351.7" rx="4.8" ry="4.99" fill="#74c476"/>
<ellipse cx="317.2" cy="1356.0" rx="4.8" ry="4.99" fill="#74c476"/>
<ellipse cx="305.2" cy="1378.1" rx="4.8" ry="4.99" fill="#74c476"/>
<ellipse cx="148.1" cy="1416.6" rx="4.8" ry="4.99" fill="#c7e9c0"/>
<ellipse cx="194.0" cy="1329.0" rx="4.8" ry="4.99" fill="#74c476"/>
<ellipse cx="257.9" cy="1200.8" rx="4.8" ry="4.99" fill="#238b45"/>
<ellipse cx="323.4" cy="1186.4" rx="4.8" ry="4.99" fill="#238b45"/>
<ellipse cx="350.3" cy="1522.5" rx="4.8" ry="4.99" fill="#c7e9c0"/>
<ellipse cx="324.6" cy="1210.6" rx="4.8" ry="4.99" fill="#238b45"/>
<ellipse cx="175.3" cy="1410.0" rx="4.8" ry="4.99" fill="#c7e9c0"/>
<ellipse cx="285.1" cy="1240.4" rx="4.8" ry="4.99" fill="#238b45"/>
<ellipse cx="358.4" cy="1473.9" rx="4.8" ry="4.99" fill="#c7e9c0"/>
<ellipse cx="273.0" cy="1368.1" rx="4.8" ry="4.99" fill="#74c476"/>
<ellipse cx="244.5" cy="1351.5" rx="4.8" ry="4.99" fill="#74c476"/>
<ellipse cx="218.9" cy="1183.6" rx="4.8" ry="4.99" fill="#238b45"/>
<ellipse cx="210.5" cy="1333.4" rx="4.8" ry="4.99" fill="#74c476"/>
<ellipse cx="247.0" cy="1201.6" rx="4.8" ry="4.99" fill="#238b45"/>
<ellipse cx="307.1" cy="1393.5" rx="4.8" ry="4.99" fill="#74c476"/>
<ellipse cx="104.1" cy="1331.3" rx="4.8" ry="4.99" fill="#74c476"/>
<ellipse cx="136.2" cy="1197.3" rx="4.8" ry="4.99" fill="#238b45"/>
<ellipse cx="211.1" cy="1191.6" rx="4.8" ry="4.99" fill="#238b45"/>
<ellipse cx="311.6" cy="1476.5" rx="4.8" ry="4.99" fill="#c7e9c0"/>
<ellipse cx="208.7" cy="1350.1" rx="4.8" ry="4.99" fill="#74c476"/>
<ellipse cx="296.0" cy="1348.5" rx="4.8" ry="4.99" fill="#74c476"/>
<ellipse cx="278.3" cy="1198.8" rx="4.8" ry="4.99" fill="#238b45"/>
<ellipse cx="309.8" cy="1345.8" rx="4.8" ry="4.99" fill="#74c476"/>
<ellipse cx="285.3" cy="1340.6" rx="4.8" ry="4.99" fill="#74c476"/>
<ellipse cx="286.4" cy="1193.9" rx="4.8" ry="4.99" fill="#238b45"/>
<ellipse cx="180.8" cy="1241.4" rx="4.8" ry="4.99" fill="#238b45"/>
<ellipse cx="203.0" cy="1353.4" rx="4.8" ry="4.99" fill="#74c476"/>
<ellipse cx="250.8" cy="1347.2" rx="4.8" ry="4.99" fill="#74c476"/>
<ellipse cx="215.5" cy="1432.1" rx="4.8" ry="4.99" fill="#c7e9c0"/>
<ellipse cx="229.6" cy="1339.5" rx="4.8" ry="4.99" fill="#74c476"/>
<ellipse cx="299.4" cy="1347.3" rx="4.8" ry="4.99" fill="#74c476"/>
<ellipse cx="207.1" cy="1200.1" rx="4.8" ry="4.99" fill="#238b45"/>
<ellipse cx="171.7" cy="1308.6" rx="4.8" ry="4.99" fill="#74c476"/>
<ellipse cx="300.8" cy="1344.5" rx="4.8" ry="4.99" fill="#74c476"/>
<ellipse cx="194.7" cy="1200.1" rx="4.8" ry="4.99" fill="#238b45"/>
<ellipse cx="261.2" cy="1332.4" rx="4.8" ry="4.99" fill="#74c476"/>
<ellipse cx="314.9" cy="1355.0" rx="4.8" ry="4.99" fill="#74c476"/>
<ellipse cx="308.1" cy="1347.2" rx="4.8" ry="4.99" fill="#74c476"/>
<ellipse cx="352.2" cy="1184.5" rx="4.8" ry="4.99" fill="#238b45"/>
<ellipse cx="182.0" cy="1196.0" rx="4.8" ry="4.99" fill="#238b45"/>
<ellipse cx="275.6" cy="1352.4" rx="4.8" ry="4.99" fill="#74c476"/>
<ellipse cx="257.5" cy="1312.9" rx="4.8" ry="4.99" fill="#74c476"/>
<ellipse cx="245.8" cy="1335.3" rx="4.8" ry="4.99" fill="#74c476"/>
<ellipse cx="324.3" cy="1356.9" rx="4.8" ry="4.99" fill="#74c476"/>
<ellipse cx="244.5" cy="1339.0" rx="4.8" ry="4.99" fill="#74c476"/>
<ellipse cx="143.2" cy="1208.3" rx="4.8" ry="4.99" fill="#238b45"/>
<ellipse cx="197.5" cy="1332.4" rx="4.8" ry="4.99" fill="#74c476"/>
<ellipse cx="247.4" cy="1342.3" rx="4.8" ry="4.99" fill="#74c476"/>
<ellipse cx="226.7" cy="1314.7" rx="4.8" ry="4.99" fill="#74c476"/>
<ellipse cx="261.7" cy="1164.1" rx="4.8" ry="4.99" fill="#238b45"/>
<ellipse cx="273.6" cy="1314.0" rx="4.8" ry="4.99" fill="#74c476"/>
<ellipse cx="303.1" cy="1400.0" rx="4.8" ry="4.99" fill="#74c476"/>
<ellipse cx="322.2" cy="1179.4" rx="4.8" ry="4.99" fill="#238b45"/>
<ellipse cx="196.7" cy="1201.8" rx="4.8" ry="4.99" fill="#238b45"/>
<ellipse cx="285.2" cy="1352.3" rx="4.8" ry="4.99" fill="#74c476"/>
<ellipse cx="192.3" cy="1201.5" rx="4.8" ry="4.99" fill="#238b45"/>
<ellipse cx="204.2" cy="1359.1" rx="4.8" ry="4.99" fill="#74c476"/>
<ellipse cx="347.8" cy="1338.8" rx="4.8" ry="4.99" fill="#74c476"/>
<ellipse cx="305.1" cy="1362.2" rx="4.8" ry="4.99" fill="#74c476"/>
<ellipse cx="267.1" cy="1200.8" rx="4.8" ry="4.99" fill="#238b45"/>
<ellipse cx="312.2" cy="1202.7" rx="4.8" ry="4.99" fill="#238b45"/>
<ellipse cx="347.4" cy="1202.9" rx="4.8" ry="4.99" fill="#238b45"/>
<ellipse cx="269.9" cy="1183.7" rx="4.8" ry="4.99" fill="#238b45"/>
<ellipse cx="263.8" cy="1352.1" rx="4.8" ry="4.99" fill="#74c476"/>
<ellipse cx="204.8" cy="1200.0" rx="4.8" ry="4.99" fill="#238b45"/>
<ellipse cx="248.2" cy="1474.6" rx="4.8" ry="4.99" fill="#c7e9c0"/>
<ellipse cx="223.5" cy="1183.9" rx="4.8" ry="4.99" fill="#238b45"/>
<ellipse cx="192.8" cy="1345.9" rx="4.8" ry="4.99" fill="#74c476"/>
<ellipse cx="297.1" cy="1477.1" rx="4.8" ry="4.99" fill="#c7e9c0"/>
<ellipse cx="255.1" cy="1219.2" rx="4.8" ry="4.99" fill="#238b45"/>
<ellipse cx="344.4" cy="1177.6" rx="4.8" ry="4.99" fill="#238b45"/>
<ellipse cx="314.6" cy="1213.9" rx="4.8" ry="4.99" fill="#238b45"/>
<ellipse cx="208.5" cy="1445.2" rx="4.8" ry="4.99" fill="#c7e9c0"/>
<ellipse cx="352.3" cy="1379.9" rx="4.8" ry="4.99" fill="#74c476"/>
<ellipse cx="324.2" cy="1513.5" rx="4.8" ry="4.99" fill="#c7e9c0"/>
<ellipse cx="252.4" cy="1200.6" rx="4.8" ry="4.99" fill="#238b45"/>
<ellipse cx="269.7" cy="1465.2" rx="4.8" ry="4.99" fill="#c7e9c0"/>
<ellipse cx="310.2" cy="1342.3" rx="4.8" ry="4.99" fill="#74c476"/>
<ellipse cx="299.7" cy="1215.2" rx="4.8" ry="4.99" fill="#238b45"/>
<ellipse cx="251.8" cy="1186.3" rx="4.8" ry="4.99" fill="#238b45"/>
<ellipse cx="235.2" cy="1464.0" rx="4.8" ry="4.99" fill="#c7e9c0"/>
<ellipse cx="275.1" cy="1379.9" rx="4.8" ry="4.99" fill="#74c476"/>
<ellipse cx="296.7" cy="1357.6" rx="4.8" ry="4.99" fill="#74c476"/>
<ellipse cx="221.9" cy="1363.5" rx="4.8" ry="4.99" fill="#74c476"/>
<ellipse cx="339.2" cy="1348.2" rx="4.8" ry="4.99" fill="#74c476"/>
<ellipse cx="339.0" cy="1357.8" rx="4.8" ry="4.99" fill="#74c476"/>
<ellipse cx="204.3" cy="1203.0" rx="4.8" ry="4.99" fill="#238b45"/>
<ellipse cx="300.2" cy="1196.6" rx="4.8" ry="4.99" fill="#238b45"/>
<ellipse cx="267.4" cy="1354.0" rx="4.8" ry="4.99" fill="#74c476"/>
<ellipse cx="261.0" cy="1339.2" rx="4.8" ry="4.99" fill="#74c476"/>
<ellipse cx="344.1" cy="1192.1" rx="4.8" ry="4.99" fill="#238b45"/>
<ellipse cx="248.5" cy="1355.9" rx="4.8" ry="4.99" fill="#74c476"/>
<ellipse cx="275.7" cy="1329.3" rx="4.8" ry="4.99" fill="#74c476"/>
<ellipse cx="300.2" cy="1369.1" rx="4.8" ry="4.99" fill="#74c476"/>
<ellipse cx="343.5" cy="1193.8" rx="4.8" ry="4.99" fill="#238b45"/>
<ellipse cx="257.7" cy="1232.4" rx="4.8" ry="4.99" fill="#238b45"/>
<ellipse cx="175.3" cy="1362.4" rx="4.8" ry="4.99" fill="#74c476"/>
<ellipse cx="212.7" cy="1194.0" rx="4.8" ry="4.99" fill="#238b45"/>
<ellipse cx="351.4" cy="1164.6" rx="4.8" ry="4.99" fill="#238b45"/>
<ellipse cx="179.8" cy="1213.1" rx="4.8" ry="4.99" fill="#238b45"/>
<ellipse cx="246.0" cy="1376.3" rx="4.8" ry="4.99" fill="#74c476"/>
<ellipse cx="300.4" cy="1177.4" rx="4.8" ry="4.99" fill="#238b45"/>
<ellipse cx="240.5" cy="1443.4" rx="4.8" ry="4.99" fill="#c7e9c0"/>
<ellipse cx="163.3" cy="1230.4" rx="4.8" ry="4.99" fill="#238b45"/>
<ellipse cx="182.7" cy="1454.1" rx="4.8" ry="4.99" fill="#c7e9c0"/>
<ellipse cx="166.3" cy="1331.3" rx="4.8" ry="4.99" fill="#74c476"/>
<ellipse cx="230.6" cy="1294.1" rx="4.8" ry="4.99" fill="#74c476"/>
<ellipse cx="269.7" cy="1230.0" rx="4.8" ry="4.99" fill="#238b45"/>
<ellipse cx="346.3" cy="1507.4" rx="4.8" ry="4.99" fill="#c7e9c0"/>
<ellipse cx="323.2" cy="1528.5" rx="4.8" ry="4.99" fill="#c7e9c0"/>
<ellipse cx="282.2" cy="1332.2" rx="4.8" ry="4.99" fill="#74c476"/>
<ellipse cx="274.1" cy="1365.7" rx="4.8" ry="4.99" fill="#74c476"/>
<ellipse cx="332.4" cy="1371.2" rx="4.8" ry="4.99" fill="#74c476"/>
<ellipse cx="301.5" cy="1323.1" rx="4.8" ry="4.99" fill="#74c476"/>
<ellipse cx="302.1" cy="1518.5" rx="4.8" ry="4.99" fill="#c7e9c0"/>
<ellipse cx="173.3" cy="1419.1" rx="4.8" ry="4.99" fill="#c7e9c0"/>
<ellipse cx="339.3" cy="1209.3" rx="4.8" ry="4.99" fill="#238b45"/>
<ellipse cx="276.2" cy="1350.6" rx="4.8" ry="4.99" fill="#74c476"/>
<ellipse cx="218.8" cy="1201.6" rx="4.8" ry="4.99" fill="#238b45"/>
<ellipse cx="270.7" cy="1427.1" rx="4.8" ry="4.99" fill="#c7e9c0"/>
<ellipse cx="170.3" cy="1352.4" rx="4.8" ry="4.99" fill="#74c476"/>
<ellipse cx="265.3" cy="1462.3" rx="4.8" ry="4.99" fill="#c7e9c0"/>
<ellipse cx="258.8" cy="1339.3" rx="4.8" ry="4.99" fill="#74c476"/>
<ellipse cx="351.5" cy="1355.3" rx="4.8" ry="4.99" fill="#74c476"/>
<ellipse cx="369.8" cy="1172.2" rx="4.8" ry="4.99" fill="#238b45"/>
<ellipse cx="158.3" cy="1197.3" rx="4.8" ry="4.99" fill="#238b45"/>
<ellipse cx="310.8" cy="1193.7" rx="4.8" ry="4.99" fill="#238b45"/>
<ellipse cx="344.4" cy="1188.7" rx="4.8" ry="4.99" fill="#238b45"/>
<ellipse cx="383.5" cy="1184.2" rx="4.8" ry="4.99" fill="#238b45"/>
<ellipse cx="211.5" cy="1217.5" rx="4.8" ry="4.99" fill="#238b45"/>
<ellipse cx="173.3" cy="1206.0" rx="4.8" ry="4.99" fill="#238b45"/>
<ellipse cx="336.7" cy="1165.9" rx="4.8" ry="4.99" fill="#238b45"/>
<ellipse cx="195.1" cy="1194.8" rx="4.8" ry="4.99" fill="#238b45"/>
<ellipse cx="177.7" cy="1208.9" rx="4.8" ry="4.99" fill="#238b45"/>
<ellipse cx="291.2" cy="1169.9" rx="4.8" ry="4.99" fill="#238b45"/>
<ellipse cx="287.1" cy="1200.7" rx="4.8" ry="4.99" fill="#238b45"/>
<ellipse cx="188.6" cy="1184.8" rx="4.8" ry="4.99" fill="#238b45"/>
<ellipse cx="199.2" cy="1336.2" rx="4.8" ry="4.99" fill="#74c476"/>
<ellipse cx="249.6" cy="1361.7" rx="4.8" ry="4.99" fill="#74c476"/>
<ellipse cx="339.4" cy="1178.6" rx="4.8" ry="4.99" fill="#238b45"/>
<ellipse cx="210.9" cy="1378.5" rx="4.8" ry="4.99" fill="#74c476"/>
<ellipse cx="228.6" cy="1443.2" rx="4.8" ry="4.99" fill="#c7e9c0"/>
<ellipse cx="321.1" cy="1355.8" rx="4.8" ry="4.99" fill="#74c476"/>
<ellipse cx="303.9" cy="1339.0" rx="4.8" ry="4.99" fill="#74c476"/>
<ellipse cx="314.5" cy="1523.6" rx="4.8" ry="4.99" fill="#c7e9c0"/>
<ellipse cx="278.3" cy="1171.1" rx="4.8" ry="4.99" fill="#238b45"/>
<ellipse cx="352.5" cy="1190.0" rx="4.8" ry="4.99" fill="#238b45"/>
<ellipse cx="278.7" cy="1358.2" rx="4.8" ry="4.99" fill="#74c476"/>
<ellipse cx="409.6" cy="1175.2" rx="4.8" ry="4.99" fill="#238b45"/>
<ellipse cx="126.2" cy="1334.3" rx="4.8" ry="4.99" fill="#74c476"/>
<ellipse cx="325.2" cy="1388.5" rx="4.8" ry="4.99" fill="#74c476"/>
<ellipse cx="266.3" cy="1480.5" rx="4.8" ry="4.99" fill="#c7e9c0"/>
<ellipse cx="245.3" cy="1183.5" rx="4.8" ry="4.99" fill="#238b45"/>
<ellipse cx="185.1" cy="1345.0" rx="4.8" ry="4.99" fill="#74c476"/>
<ellipse cx="282.1" cy="1355.4" rx="4.8" ry="4.99" fill="#74c476"/>
<ellipse cx="273.3" cy="1367.6" rx="4.8" ry="4.99" fill="#74c476"/>
<ellipse cx="299.8" cy="1361.1" rx="4.8" ry="4.99" fill="#74c476"/>
<ellipse cx="235.6" cy="1193.6" rx="4.8" ry="4.99" fill="#238b45"/>
<ellipse cx="306.0" cy="1360.3" rx="4.8" ry="4.99" fill="#74c476"/>
<ellipse cx="297.5" cy="1354.8" rx="4.8" ry="4.99" fill="#74c476"/>
<ellipse cx="309.3" cy="1187.3" rx="4.8" ry="4.99" fill="#238b45"/>
<ellipse cx="271.2" cy="1447.1" rx="4.8" ry="4.99" fill="#c7e9c0"/>
<ellipse cx="229.6" cy="1222.4" rx="4.8" ry="4.99" fill="#238b45"/>
<ellipse cx="251.7" cy="1320.6" rx="4.8" ry="4.99" fill="#74c476"/>
<ellipse cx="271.1" cy="1336.4" rx="4.8" ry="4.99" fill="#74c476"/>
<ellipse cx="109.1" cy="1335.3" rx="4.8" ry="4.99" fill="#74c476"/>
<ellipse cx="266.5" cy="1218.2" rx="4.8" ry="4.99" fill="#238b45"/>
<ellipse cx="301.7" cy="1339.2" rx="4.8" ry="4.99" fill="#74c476"/>
<ellipse cx="202.5" cy="1466.3" rx="4.8" ry="4.99" fill="#c7e9c0"/>
<ellipse cx="277.6" cy="1207.4" rx="4.8" ry="4.99" fill="#238b45"/>
<ellipse cx="230.0" cy="1332.4" rx="4.8" ry="4.99" fill="#74c476"/>
<ellipse cx="214.7" cy="1357.0" rx="4.8" ry="4.99" fill="#74c476"/>
<ellipse cx="212.5" cy="1203.6" rx="4.8" ry="4.99" fill="#238b45"/>
<ellipse cx="229.5" cy="1341.9" rx="4.8" ry="4.99" fill="#74c476"/>
<ellipse cx="325.2" cy="1353.4" rx="4.8" ry="4.99" fill="#74c476"/>
<ellipse cx="180.2" cy="1212.2" rx="4.8" ry="4.99" fill="#238b45"/>
<ellipse cx="160.3" cy="1356.4" rx="4.8" ry="4.99" fill="#74c476"/>
<ellipse cx="306.1" cy="1476.3" rx="4.8" ry="4.99" fill="#c7e9c0"/>
<ellipse cx="262.2" cy="1180.3" rx="4.8" ry="4.99" fill="#238b45"/>
<ellipse cx="307.6" cy="1206.6" rx="4.8" ry="4.99" fill="#238b45"/>
<ellipse cx="279.0" cy="1347.1" rx="4.8" ry="4.99" fill="#74c476"/>
<ellipse cx="317.2" cy="1367.9" rx="4.8" ry="4.99" fill="#74c476"/>
<ellipse cx="184.4" cy="1184.2" rx="4.8" ry="4.99" fill="#238b45"/>
<ellipse cx="360.1" cy="1209.7" rx="4.8" ry="4.99" fill="#238b45"/>
<ellipse cx="255.5" cy="1361.5" rx="4.8" ry="4.99" fill="#74c476"/>
<ellipse cx="266.1" cy="1324.3" rx="4.8" ry="4.99" fill="#74c476"/>
<ellipse cx="279.1" cy="1459.9" rx="4.8" ry="4.99" fill="#c7e9c0"/>
<ellipse cx="317.4" cy="1185.6" rx="4.8" ry="4.99" fill="#238b45"/>
<ellipse cx="183.1" cy="1186.6" rx="4.8" ry="4.99" fill="#238b45"/>
<ellipse cx="280.1" cy="1175.0" rx="4.8" ry="4.99" fill="#238b45"/>
<ellipse cx="278.4" cy="1328.2" rx="4.8" ry="4.99" fill="#74c476"/>
<ellipse cx="224.5" cy="1308.2" rx="4.8" ry="4.99" fill="#74c476"/>
<ellipse cx="187.5" cy="1348.7" rx="4.8" ry="4.99" fill="#74c476"/>
<ellipse cx="256.6" cy="1467.4" rx="4.8" ry="4.99" fill="#c7e9c0"/>
<ellipse cx="344.4" cy="1193.2" rx="4.8" ry="4.99" fill="#238b45"/>
<ellipse cx="174.4" cy="1204.2" rx="4.8" ry="4.99" fill="#238b45"/>
<ellipse cx="216.1" cy="1477.3" rx="4.8" ry="4.99" fill="#c7e9c0"/>
<ellipse cx="262.6" cy="1338.0" rx="4.8" ry="4.99" fill="#74c476"/>
<ellipse cx="238.4" cy="1191.4" rx="4.8" ry="4.99" fill="#238b45"/>
<ellipse cx="280.8" cy="1506.4" rx="4.8" ry="4.99" fill="#c7e9c0"/>
<ellipse cx="414.6" cy="1182.6" rx="4.8" ry="4.99" fill="#238b45"/>
<ellipse cx="213.9" cy="1340.7" rx="4.8" ry="4.99" fill="#74c476"/>
<ellipse cx="264.7" cy="1454.2" rx="4.8" ry="4.99" fill="#c7e9c0"/>
<ellipse cx="345.3" cy="1166.8" rx="4.8" ry="4.99" fill="#238b45"/>
<ellipse cx="238.4" cy="1330.9" rx="4.8" ry="4.99" fill="#74c476"/>
<ellipse cx="158.3" cy="1325.3" rx="4.8" ry="4.99" fill="#74c476"/>
<ellipse cx="180.3" cy="1187.9" rx="4.8" ry="4.99" fill="#238b45"/>
<ellipse cx="240.4" cy="1322.5" rx="4.8" ry="4.99" fill="#74c476"/>
<ellipse cx="154.2" cy="1456.2" rx="4.8" ry="4.99" fill="#c7e9c0"/>
<ellipse cx="294.2" cy="1347.3" rx="4.8" ry="4.99" fill="#74c476"/>
<ellipse cx="356.3" cy="1493.4" rx="4.8" ry="4.99" fill="#c7e9c0"/>
<ellipse cx="385.1" cy="1370.4" rx="4.8" ry="4.99" fill="#74c476"/>
<ellipse cx="254.7" cy="1173.2" rx="4.8" ry="4.99" fill="#238b45"/>
<ellipse cx="201.0" cy="1214.5" rx="4.8" ry="4.99" fill="#238b45"/>
<ellipse cx="338.4" cy="1165.7" rx="4.8" ry="4.99" fill="#238b45"/>
<ellipse cx="371.4" cy="1178.2" rx="4.8" ry="4.99" fill="#238b45"/>
<ellipse cx="310.4" cy="1350.6" rx="4.8" ry="4.99" fill="#74c476"/>
<ellipse cx="271.6" cy="1360.8" rx="4.8" ry="4.99" fill="#74c476"/>
<ellipse cx="298.4" cy="1354.4" rx="4.8" ry="4.99" fill="#74c476"/>
<ellipse cx="282.0" cy="1370.8" rx="4.8" ry="4.99" fill="#74c476"/>
<ellipse cx="248.6" cy="1243.8" rx="4.8" ry="4.99" fill="#238b45"/>
<ellipse cx="190.7" cy="1212.4" rx="4.8" ry="4.99" fill="#238b45"/>
<ellipse cx="301.6" cy="1351.0" rx="4.8" ry="4.99" fill="#74c476"/>
<ellipse cx="340.4" cy="1346.2" rx="4.8" ry="4.99" fill="#74c476"/>
<ellipse cx="271.2" cy="1491.3" rx="4.8" ry="4.99" fill="#c7e9c0"/>
<ellipse cx="256.7" cy="1433.1" rx="4.8" ry="4.99" fill="#c7e9c0"/>
<ellipse cx="283.2" cy="1336.8" rx="4.8" ry="4.99" fill="#74c476"/>
<ellipse cx="197.3" cy="1193.8" rx="4.8" ry="4.99" fill="#238b45"/>
<ellipse cx="235.7" cy="1345.7" rx="4.8" ry="4.99" fill="#74c476"/>
<ellipse cx="303.4" cy="1196.3" rx="4.8" ry="4.99" fill="#238b45"/>
<ellipse cx="289.2" cy="1490.3" rx="4.8" ry="4.99" fill="#c7e9c0"/>
<ellipse cx="159.9" cy="1450.1" rx="4.8" ry="4.99" fill="#c7e9c0"/>
<ellipse cx="140.8" cy="1229.4" rx="4.8" ry="4.99" fill="#238b45"/>
<ellipse cx="274.4" cy="1326.6" rx="4.8" ry="4.99" fill="#74c476"/>
<ellipse cx="368.4" cy="1380.5" rx="4.8" ry="4.99" fill="#74c476"/>
<ellipse cx="292.2" cy="1186.3" rx="4.8" ry="4.99" fill="#238b45"/>
<ellipse cx="285.6" cy="1323.5" rx="4.8" ry="4.99" fill="#74c476"/>
<ellipse cx="180.4" cy="1212.1" rx="4.8" ry="4.99" fill="#238b45"/>
<ellipse cx="377.0" cy="1391.5" rx="4.8" ry="4.99" fill="#74c476"/>
<ellipse cx="203.2" cy="1192.2" rx="4.8" ry="4.99" fill="#238b45"/>
<ellipse cx="294.0" cy="1353.0" rx="4.8" ry="4.99" fill="#74c476"/>
<ellipse cx="288.5" cy="1181.0" rx="4.8" ry="4.99" fill="#238b45"/>
<ellipse cx="296.9" cy="1350.6" rx="4.8" ry="4.99" fill="#74c476"/>
<ellipse cx="234.6" cy="1398.2" rx="4.8" ry="4.99" fill="#74c476"/>
<ellipse cx="239.7" cy="1347.4" rx="4.8" ry="4.99" fill="#74c476"/>
<ellipse cx="239.9" cy="1174.5" rx="4.8" ry="4.99" fill="#238b45"/>
<ellipse cx="279.0" cy="1341.9" rx="4.8" ry="4.99" fill="#74c476"/>
<ellipse cx="284.1" cy="1517.5" rx="4.8" ry="4.99" fill="#c7e9c0"/>
<ellipse cx="310.2" cy="1492.4" rx="4.8" ry="4.99" fill="#c7e9c0"/>
<ellipse cx="368.4" cy="1376.5" rx="4.8" ry="4.99" fill="#74c476"/>
<ellipse cx="244.6" cy="1380.1" rx="4.8" ry="4.99" fill="#74c476"/>
<ellipse cx="232.2" cy="1191.9" rx="4.8" ry="4.99" fill="#238b45"/>
<ellipse cx="284.8" cy="1314.2" rx="4.8" ry="4.99" fill="#74c476"/>
<ellipse cx="176.4" cy="1372.4" rx="4.8" ry="4.99" fill="#74c476"/>
<ellipse cx="349.7" cy="1202.9" rx="4.8" ry="4.99" fill="#238b45"/>
<ellipse cx="271.8" cy="1505.1" rx="4.8" ry="4.99" fill="#c7e9c0"/>
<ellipse cx="322.4" cy="1351.6" rx="4.8" ry="4.99" fill="#74c476"/>
<ellipse cx="193.5" cy="1204.0" rx="4.8" ry="4.99" fill="#238b45"/>
<ellipse cx="282.0" cy="1488.4" rx="4.8" ry="4.99" fill="#c7e9c0"/>
<ellipse cx="244.6" cy="1472.3" rx="4.8" ry="4.99" fill="#c7e9c0"/>
<ellipse cx="247.8" cy="1203.1" rx="4.8" ry="4.99" fill="#238b45"/>
<ellipse cx="307.6" cy="1201.8" rx="4.8" ry="4.99" fill="#238b45"/>
<ellipse cx="257.5" cy="1184.9" rx="4.8" ry="4.99" fill="#238b45"/>
<ellipse cx="332.3" cy="1189.8" rx="4.8" ry="4.99" fill="#238b45"/>
<ellipse cx="203.3" cy="1201.0" rx="4.8" ry="4.99" fill="#238b45"/>
<ellipse cx="217.8" cy="1333.4" rx="4.8" ry="4.99" fill="#74c476"/>
<ellipse cx="184.9" cy="1453.2" rx="4.8" ry="4.99" fill="#c7e9c0"/>
<ellipse cx="362.0" cy="1174.4" rx="4.8" ry="4.99" fill="#238b45"/>
<ellipse cx="308.3" cy="1200.6" rx="4.8" ry="4.99" fill="#238b45"/>
<ellipse cx="335.0" cy="1346.9" rx="4.8" ry="4.99" fill="#74c476"/>
<ellipse cx="268.0" cy="1211.0" rx="4.8" ry="4.99" fill="#238b45"/>
<ellipse cx="324.9" cy="1210.4" rx="4.8" ry="4.99" fill="#238b45"/>
<ellipse cx="220.7" cy="1317.5" rx="4.8" ry="4.99" fill="#74c476"/>
<ellipse cx="268.7" cy="1490.4" rx="4.8" ry="4.99" fill="#c7e9c0"/>
<ellipse cx="293.5" cy="1343.8" rx="4.8" ry="4.99" fill="#74c476"/>
<ellipse cx="182.9" cy="1195.6" rx="4.8" ry="4.99" fill="#238b45"/>
<ellipse cx="279.8" cy="1441.8" rx="4.8" ry="4.99" fill="#c7e9c0"/>
<ellipse cx="248.6" cy="1457.2" rx="4.8" ry="4.99" fill="#c7e9c0"/>
<ellipse cx="282.1" cy="1478.5" rx="4.8" ry="4.99" fill="#c7e9c0"/>
<ellipse cx="302.2" cy="1521.2" rx="4.8" ry="4.99" fill="#c7e9c0"/>
<ellipse cx="293.7" cy="1355.7" rx="4.8" ry="4.99" fill="#74c476"/>
<ellipse cx="356.7" cy="1187.7" rx="4.8" ry="4.99" fill="#238b45"/>
<ellipse cx="302.1" cy="1304.6" rx="4.8" ry="4.99" fill="#74c476"/>
<ellipse cx="247.0" cy="1343.1" rx="4.8" ry="4.99" fill="#74c476"/>
<ellipse cx="283.6" cy="1332.8" rx="4.8" ry="4.99" fill="#74c476"/>
<ellipse cx="409.0" cy="1164.1" rx="4.8" ry="4.99" fill="#238b45"/>
<ellipse cx="255.6" cy="1338.0" rx="4.8" ry="4.99" fill="#74c476"/>
<ellipse cx="248.6" cy="1151.1" rx="4.8" ry="4.99" fill="#238b45"/>
<ellipse cx="246.9" cy="1464.3" rx="4.8" ry="4.99" fill="#c7e9c0"/>
<ellipse cx="273.9" cy="1196.1" rx="4.8" ry="4.99" fill="#238b45"/>
<ellipse cx="258.2" cy="1471.1" rx="4.8" ry="4.99" fill="#c7e9c0"/>
<ellipse cx="289.5" cy="1180.4" rx="4.8" ry="4.99" fill="#238b45"/>
<ellipse cx="201.1" cy="1204.4" rx="4.8" ry="4.99" fill="#238b45"/>
<ellipse cx="218.9" cy="1203.5" rx="4.8" ry="4.99" fill="#238b45"/>
<ellipse cx="284.6" cy="1216.5" rx="4.8" ry="4.99" fill="#238b45"/>
<ellipse cx="166.6" cy="1447.0" rx="4.8" ry="4.99" fill="#c7e9c0"/>
<ellipse cx="309.6" cy="1350.1" rx="4.8" ry="4.99" fill="#74c476"/>
<ellipse cx="315.8" cy="1372.1" rx="4.8" ry="4.99" fill="#74c476"/>
<ellipse cx="288.4" cy="1343.4" rx="4.8" ry="4.99" fill="#74c476"/>
<ellipse cx="337.3" cy="1371.7" rx="4.8" ry="4.99" fill="#74c476"/>
<ellipse cx="304.6" cy="1360.4" rx="4.8" ry="4.99" fill="#74c476"/>
<ellipse cx="274.7" cy="1338.3" rx="4.8" ry="4.99" fill="#74c476"/>
<ellipse cx="288.5" cy="1470.7" rx="4.8" ry="4.99" fill="#c7e9c0"/>
<ellipse cx="265.0" cy="1344.4" rx="4.8" ry="4.99" fill="#74c476"/>
<ellipse cx="210.5" cy="1350.1" rx="4.8" ry="4.99" fill="#74c476"/>
<ellipse cx="183.7" cy="1194.5" rx="4.8" ry="4.99" fill="#238b45"/>
<ellipse cx="314.6" cy="1342.8" rx="4.8" ry="4.99" fill="#74c476"/>
<ellipse cx="230.2" cy="1351.9" rx="4.8" ry="4.99" fill="#74c476"/>
<ellipse cx="313.1" cy="1363.7" rx="4.8" ry="4.99" fill="#74c476"/>
<ellipse cx="303.0" cy="1367.8" rx="4.8" ry="4.99" fill="#74c476"/>
<ellipse cx="284.3" cy="1206.7" rx="4.8" ry="4.99" fill="#238b45"/>
<ellipse cx="182.4" cy="1456.2" rx="4.8" ry="4.99" fill="#c7e9c0"/>
<ellipse cx="275.6" cy="1204.7" rx="4.8" ry="4.99" fill="#238b45"/>
<ellipse cx="271.4" cy="1351.5" rx="4.8" ry="4.99" fill="#74c476"/>
<ellipse cx="276.4" cy="1344.3" rx="4.8" ry="4.99" fill="#74c476"/>
<ellipse cx="182.3" cy="1199.1" rx="4.8" ry="4.99" fill="#238b45"/>
<ellipse cx="308.9" cy="1353.7" rx="4.8" ry="4.99" fill="#74c476"/>
<ellipse cx="144.8" cy="1434.1" rx="4.8" ry="4.99" fill="#c7e9c0"/>
<ellipse cx="276.7" cy="1362.3" rx="4.8" ry="4.99" fill="#74c476"/>
<ellipse cx="341.3" cy="1490.8" rx="4.8" ry="4.99" fill="#c7e9c0"/>
<ellipse cx="221.7" cy="1342.7" rx="4.8" ry="4.99" fill="#74c476"/>
<ellipse cx="225.5" cy="1193.5" rx="4.8" ry="4.99" fill="#238b45"/>
<ellipse cx="203.7" cy="1316.0" rx="4.8" ry="4.99" fill="#74c476"/>
<ellipse cx="303.1" cy="1399.0" rx="4.8" ry="4.99" fill="#74c476"/>
<ellipse cx="221.5" cy="1206.5" rx="4.8" ry="4.99" fill="#238b45"/>
<ellipse cx="361.5" cy="1206.1" rx="4.8" ry="4.99" fill="#238b45"/>
<ellipse cx="347.6" cy="1329.5" rx="4.8" ry="4.99" fill="#74c476"/>
<ellipse cx="293.0" cy="1343.9" rx="4.8" ry="4.99" fill="#74c476"/>
<ellipse cx="282.8" cy="1516.5" rx="4.8" ry="4.99" fill="#c7e9c0"/>
<ellipse cx="216.6" cy="1217.1" rx="4.8" ry="4.99" fill="#238b45"/>
<ellipse cx="284.1" cy="1385.5" rx="4.8" ry="4.99" fill="#74c476"/>
<ellipse cx="227.1" cy="1180.9" rx="4.8" ry="4.99" fill="#238b45"/>
<ellipse cx="289.7" cy="1178.9" rx="4.8" ry="4.99" fill="#238b45"/>
<ellipse cx="280.8" cy="1496.4" rx="4.8" ry="4.99" fill="#c7e9c0"/>
<ellipse cx="242.4" cy="1190.8" rx="4.8" ry="4.99" fill="#238b45"/>
<ellipse cx="276.7" cy="1213.1" rx="4.8" ry="4.99" fill="#238b45"/>
<ellipse cx="178.0" cy="1445.6" rx="4.8" ry="4.99" fill="#c7e9c0"/>
<ellipse cx="167.9" cy="1371.0" rx="4.8" ry="4.99" fill="#74c476"/>
<ellipse cx="224.5" cy="1488.4" rx="4.8" ry="4.99" fill="#c7e9c0"/>
<ellipse cx="300.3" cy="1361.3" rx="4.8" ry="4.99" fill="#74c476"/>
<ellipse cx="271.2" cy="1333.6" rx="4.8" ry="4.99" fill="#74c476"/>
<ellipse cx="131.2" cy="1349.4" rx="4.8" ry="4.99" fill="#74c476"/>
<ellipse cx="224.0" cy="1208.3" rx="4.8" ry="4.99" fill="#238b45"/>
<ellipse cx="293.3" cy="1495.3" rx="4.8" ry="4.99" fill="#c7e9c0"/>
<ellipse cx="259.6" cy="1328.1" rx="4.8" ry="4.99" fill="#74c476"/>
<ellipse cx="254.7" cy="1466.9" rx="4.8" ry="4.99" fill="#c7e9c0"/>
<ellipse cx="237.8" cy="1212.3" rx="4.8" ry="4.99" fill="#238b45"/>
<ellipse cx="187.6" cy="1329.3" rx="4.8" ry="4.99" fill="#74c476"/>
<ellipse cx="321.8" cy="1245.5" rx="4.8" ry="4.99" fill="#238b45"/>
<ellipse cx="321.2" cy="1377.5" rx="4.8" ry="4.99" fill="#74c476"/>
<ellipse cx="295.4" cy="1215.6" rx="4.8" ry="4.99" fill="#238b45"/>
<ellipse cx="186.4" cy="1194.4" rx="4.8" ry="4.99" fill="#238b45"/>
<ellipse cx="316.8" cy="1370.7" rx="4.8" ry="4.99" fill="#74c476"/>
<ellipse cx="266.7" cy="1480.3" rx="4.8" ry="4.99" fill="#c7e9c0"/>
<ellipse cx="261.6" cy="1349.0" rx="4.8" ry="4.99" fill="#74c476"/>
<ellipse cx="303.3" cy="1353.7" rx="4.8" ry="4.99" fill="#74c476"/>
<ellipse cx="153.3" cy="1178.6" rx="4.8" ry="4.99" fill="#238b45"/>
<ellipse cx="219.3" cy="1326.4" rx="4.8" ry="4.99" fill="#74c476"/>
<ellipse cx="252.9" cy="1332.9" rx="4.8" ry="4.99" fill="#74c476"/>
<ellipse cx="251.4" cy="1340.2" rx="4.8" ry="4.99" fill="#74c476"/>
<ellipse cx="173.7" cy="1212.7" rx="4.8" ry="4.99" fill="#238b45"/>
<ellipse cx="296.2" cy="1355.2" rx="4.8" ry="4.99" fill="#74c476"/>
<ellipse cx="338.3" cy="1506.4" rx="4.8" ry="4.99" fill="#c7e9c0"/>
<ellipse cx="302.9" cy="1174.6" rx="4.8" ry="4.99" fill="#238b45"/>
<ellipse cx="227.8" cy="1199.9" rx="4.8" ry="4.99" fill="#238b45"/>
<ellipse cx="239.6" cy="1205.3" rx="4.8" ry="4.99" fill="#238b45"/>
<ellipse cx="360.4" cy="1484.3" rx="4.8" ry="4.99" fill="#c7e9c0"/>
<ellipse cx="252.3" cy="1199.2" rx="4.8" ry="4.99" fill="#238b45"/>
<ellipse cx="244.4" cy="1326.4" rx="4.8" ry="4.99" fill="#74c476"/>
<ellipse cx="312.5" cy="1349.5" rx="4.8" ry="4.99" fill="#74c476"/>
<ellipse cx="230.3" cy="1328.8" rx="4.8" ry="4.99" fill="#74c476"/>
<ellipse cx="324.8" cy="1361.1" rx="4.8" ry="4.99" fill="#74c476"/>
<ellipse cx="188.3" cy="1219.2" rx="4.8" ry="4.99" fill="#238b45"/>
<ellipse cx="305.4" cy="1201.2" rx="4.8" ry="4.99" fill="#238b45"/>
<ellipse cx="301.4" cy="1206.3" rx="4.8" ry="4.99" fill="#238b45"/>
<ellipse cx="269.8" cy="1337.3" rx="4.8" ry="4.99" fill="#74c476"/>
<ellipse cx="269.9" cy="1380.2" rx="4.8" ry="4.99" fill="#74c476"/>
<ellipse cx="286.7" cy="1189.4" rx="4.8" ry="4.99" fill="#238b45"/>
<ellipse cx="241.3" cy="1348.7" rx="4.8" ry="4.99" fill="#74c476"/>
<ellipse cx="240.6" cy="1435.1" rx="4.8" ry="4.99" fill="#c7e9c0"/>
<ellipse cx="240.5" cy="1341.1" rx="4.8" ry="4.99" fill="#74c476"/>
<ellipse cx="257.9" cy="1335.2" rx="4.8" ry="4.99" fill="#74c476"/>
<ellipse cx="332.4" cy="1343.0" rx="4.8" ry="4.99" fill="#74c476"/>
<ellipse cx="236.4" cy="1195.3" rx="4.8" ry="4.99" fill="#238b45"/>
<ellipse cx="303.3" cy="1360.6" rx="4.8" ry="4.99" fill="#74c476"/>
<ellipse cx="239.3" cy="1340.8" rx="4.8" ry="4.99" fill="#74c476"/>
<ellipse cx="239.2" cy="1449.8" rx="4.8" ry="4.99" fill="#c7e9c0"/>
<ellipse cx="253.9" cy="1345.0" rx="4.8" ry="4.99" fill="#74c476"/>
<ellipse cx="243.9" cy="1203.7" rx="4.8" ry="4.99" fill="#238b45"/>
<ellipse cx="322.2" cy="1197.2" rx="4.8" ry="4.99" fill="#238b45"/>
<ellipse cx="311.7" cy="1354.9" rx="4.8" ry="4.99" fill="#74c476"/>
<ellipse cx="316.2" cy="1171.1" rx="4.8" ry="4.99" fill="#238b45"/>
<ellipse cx="117.1" cy="1350.4" rx="4.8" ry="4.99" fill="#74c476"/>
<ellipse cx="323.7" cy="1189.1" rx="4.8" ry="4.99" fill="#238b45"/>
<ellipse cx="177.7" cy="1204.5" rx="4.8" ry="4.99" fill="#238b45"/>
<ellipse cx="402.5" cy="1396.1" rx="4.8" ry="4.99" fill="#74c476"/>
<ellipse cx="229.0" cy="1372.8" rx="4.8" ry="4.99" fill="#74c476"/>
<ellipse cx="254.0" cy="1368.4" rx="4.8" ry="4.99" fill="#74c476"/>
<ellipse cx="203.4" cy="1200.0" rx="4.8" ry="4.99" fill="#238b45"/>
<ellipse cx="291.8" cy="1208.0" rx="4.8" ry="4.99" fill="#238b45"/>
<ellipse cx="283.8" cy="1357.1" rx="4.8" ry="4.99" fill="#74c476"/>
<ellipse cx="217.4" cy="1187.6" rx="4.8" ry="4.99" fill="#238b45"/>
<ellipse cx="222.3" cy="1326.2" rx="4.8" ry="4.99" fill="#74c476"/>
<ellipse cx="239.6" cy="1228.4" rx="4.8" ry="4.99" fill="#238b45"/>
<ellipse cx="233.6" cy="1334.8" rx="4.8" ry="4.99" fill="#74c476"/>
<ellipse cx="426.6" cy="1525.5" rx="4.8" ry="4.99" fill="#c7e9c0"/>
<ellipse cx="224.8" cy="1437.3" rx="4.8" ry="4.99" fill="#c7e9c0"/>
<ellipse cx="252.3" cy="1204.7" rx="4.8" ry="4.99" fill="#238b45"/>
<ellipse cx="356.3" cy="1190.6" rx="4.8" ry="4.99" fill="#238b45"/>
<ellipse cx="345.0" cy="1358.2" rx="4.8" ry="4.99" fill="#74c476"/>
<ellipse cx="199.1" cy="1198.1" rx="4.8" ry="4.99" fill="#238b45"/>
<ellipse cx="280.6" cy="1177.9" rx="4.8" ry="4.99" fill="#238b45"/>
<ellipse cx="256.7" cy="1347.5" rx="4.8" ry="4.99" fill="#74c476"/>
<ellipse cx="176.4" cy="1454.2" rx="4.8" ry="4.99" fill="#c7e9c0"/>
<ellipse cx="244.3" cy="1207.4" rx="4.8" ry="4.99" fill="#238b45"/>
<ellipse cx="187.4" cy="1456.6" rx="4.8" ry="4.99" fill="#c7e9c0"/>
<ellipse cx="281.1" cy="1342.3" rx="4.8" ry="4.99" fill="#74c476"/>
<ellipse cx="436.3" cy="1357.8" rx="4.8" ry="4.99" fill="#74c476"/>
<ellipse cx="242.0" cy="1344.5" rx="4.8" ry="4.99" fill="#74c476"/>
<ellipse cx="318.7" cy="1325.8" rx="4.8" ry="4.99" fill="#74c476"/>
<ellipse cx="205.9" cy="1215.1" rx="4.8" ry="4.99" fill="#238b45"/>
<ellipse cx="349.3" cy="1415.1" rx="4.8" ry="4.99" fill="#c7e9c0"/>
<ellipse cx="336.3" cy="1482.3" rx="4.8" ry="4.99" fill="#c7e9c0"/>
<ellipse cx="271.8" cy="1336.3" rx="4.8" ry="4.99" fill="#74c476"/>
<ellipse cx="179.8" cy="1341.2" rx="4.8" ry="4.99" fill="#74c476"/>
<ellipse cx="268.7" cy="1303.8" rx="4.8" ry="4.99" fill="#74c476"/>
<ellipse cx="278.6" cy="1199.4" rx="4.8" ry="4.99" fill="#238b45"/>
<ellipse cx="323.7" cy="1353.8" rx="4.8" ry="4.99" fill="#74c476"/>
<ellipse cx="291.1" cy="1169.9" rx="4.8" ry="4.99" fill="#238b45"/>
<ellipse cx="161.3" cy="1432.1" rx="4.8" ry="4.99" fill="#c7e9c0"/>
<ellipse cx="310.7" cy="1347.7" rx="4.8" ry="4.99" fill="#74c476"/>
<ellipse cx="330.2" cy="1362.4" rx="4.8" ry="4.99" fill="#74c476"/>
<ellipse cx="296.9" cy="1318.8" rx="4.8" ry="4.99" fill="#74c476"/>
<ellipse cx="249.3" cy="1200.4" rx="4.8" ry="4.99" fill="#238b45"/>
<ellipse cx="218.5" cy="1448.2" rx="4.8" ry="4.99" fill="#c7e9c0"/>
<ellipse cx="186.2" cy="1342.5" rx="4.8" ry="4.99" fill="#74c476"/>
<ellipse cx="298.9" cy="1193.0" rx="4.8" ry="4.99" fill="#238b45"/>
<ellipse cx="433.7" cy="1163.1" rx="4.8" ry="4.99" fill="#238b45"/>
<ellipse cx="209.5" cy="1418.1" rx="4.8" ry="4.99" fill="#c7e9c0"/>
<ellipse cx="247.7" cy="1347.5" rx="4.8" ry="4.99" fill="#74c476"/>
<ellipse cx="310.9" cy="1198.9" rx="4.8" ry="4.99" fill="#238b45"/>
<ellipse cx="207.5" cy="1309.2" rx="4.8" ry="4.99" fill="#74c476"/>
<ellipse cx="320.3" cy="1363.2" rx="4.8" ry="4.99" fill="#74c476"/>
<ellipse cx="229.6" cy="1494.4" rx="4.8" ry="4.99" fill="#c7e9c0"/>
<ellipse cx="321.2" cy="1504.4" rx="4.8" ry="4.99" fill="#c7e9c0"/>
<ellipse cx="257.4" cy="1464.9" rx="4.8" ry="4.99" fill="#c7e9c0"/>
<ellipse cx="318.5" cy="1179.6" rx="4.8" ry="4.99" fill="#238b45"/>
<ellipse cx="321.2" cy="1177.8" rx="4.8" ry="4.99" fill="#238b45"/>
<ellipse cx="185.0" cy="1192.9" rx="4.8" ry="4.99" fill="#238b45"/>
<ellipse cx="254.1" cy="1313.1" rx="4.8" ry="4.99" fill="#74c476"/>
<ellipse cx="316.2" cy="1339.0" rx="4.8" ry="4.99" fill="#74c476"/>
<ellipse cx="278.8" cy="1454.2" rx="4.8" ry="4.99" fill="#c7e9c0"/>
<ellipse cx="189.5" cy="1197.9" rx="4.8" ry="4.99" fill="#238b45"/>
<ellipse cx="105.7" cy="1310.2" rx="4.8" ry="4.99" fill="#74c476"/>
<ellipse cx="156.7" cy="1426.4" rx="4.8" ry="4.99" fill="#c7e9c0"/>
<ellipse cx="240.7" cy="1345.1" rx="4.8" ry="4.99" fill="#74c476"/>
<ellipse cx="342.5" cy="1338.5" rx="4.8" ry="4.99" fill="#74c476"/>
<ellipse cx="314.2" cy="1522.5" rx="4.8" ry="4.99" fill="#c7e9c0"/>
<ellipse cx="221.7" cy="1346.0" rx="4.8" ry="4.99" fill="#74c476"/>
<ellipse cx="266.3" cy="1191.0" rx="4.8" ry="4.99" fill="#238b45"/>
<ellipse cx="163.7" cy="1296.7" rx="4.8" ry="4.99" fill="#74c476"/>
<ellipse cx="183.8" cy="1209.6" rx="4.8" ry="4.99" fill="#238b45"/>
<ellipse cx="338.3" cy="1163.1" rx="4.8" ry="4.99" fill="#238b45"/>
<ellipse cx="309.3" cy="1333.3" rx="4.8" ry="4.99" fill="#74c476"/>
<ellipse cx="301.1" cy="1169.1" rx="4.8" ry="4.99" fill="#238b45"/>
<ellipse cx="209.3" cy="1450.5" rx="4.8" ry="4.99" fill="#c7e9c0"/>
<ellipse cx="228.6" cy="1340.3" rx="4.8" ry="4.99" fill="#74c476"/>
<ellipse cx="273.4" cy="1464.9" rx="4.8" ry="4.99" fill="#c7e9c0"/>
<ellipse cx="356.3" cy="1511.4" rx="4.8" ry="4.99" fill="#c7e9c0"/>
<ellipse cx="239.2" cy="1484.8" rx="4.8" ry="4.99" fill="#c7e9c0"/>
<ellipse cx="206.1" cy="1390.9" rx="4.8" ry="4.99" fill="#74c476"/>
<ellipse cx="303.4" cy="1194.4" rx="4.8" ry="4.99" fill="#238b45"/>
<ellipse cx="307.5" cy="1198.9" rx="4.8" ry="4.99" fill="#238b45"/>
<ellipse cx="323.1" cy="1192.6" rx="4.8" ry="4.99" fill="#238b45"/>
<ellipse cx="182.4" cy="1427.1" rx="4.8" ry="4.99" fill="#c7e9c0"/>
<ellipse cx="223.7" cy="1343.4" rx="4.8" ry="4.99" fill="#74c476"/>
<ellipse cx="345.2" cy="1197.6" rx="4.8" ry="4.99" fill="#238b45"/>
<ellipse cx="265.1" cy="1196.0" rx="4.8" ry="4.99" fill="#238b45"/>
<ellipse cx="206.3" cy="1350.6" rx="4.8" ry="4.99" fill="#74c476"/>
<ellipse cx="302.0" cy="1210.9" rx="4.8" ry="4.99" fill="#238b45"/>
<ellipse cx="208.8" cy="1223.3" rx="4.8" ry="4.99" fill="#238b45"/>
<ellipse cx="292.3" cy="1352.8" rx="4.8" ry="4.99" fill="#74c476"/>
<ellipse cx="288.9" cy="1359.3" rx="4.8" ry="4.99" fill="#74c476"/>
<ellipse cx="238.3" cy="1362.4" rx="4.8" ry="4.99" fill="#74c476"/>
<ellipse cx="337.5" cy="1364.4" rx="4.8" ry="4.99" fill="#74c476"/>
<ellipse cx="346.4" cy="1188.3" rx="4.8" ry="4.99" fill="#238b45"/>
<ellipse cx="232.8" cy="1347.7" rx="4.8" ry="4.99" fill="#74c476"/>
<ellipse cx="293.6" cy="1464.2" rx="4.8" ry="4.99" fill="#c7e9c0"/>
<ellipse cx="313.0" cy="1186.5" rx="4.8" ry="4.99" fill="#238b45"/>
<ellipse cx="208.5" cy="1246.9" rx="4.8" ry="4.99" fill="#238b45"/>
<ellipse cx="272.0" cy="1427.7" rx="4.8" ry="4.99" fill="#c7e9c0"/>
<ellipse cx="230.1" cy="1356.2" rx="4.8" ry="4.99" fill="#74c476"/>
<ellipse cx="257.4" cy="1472.4" rx="4.8" ry="4.99" fill="#c7e9c0"/>
<ellipse cx="271.1" cy="1351.6" rx="4.8" ry="4.99" fill="#74c476"/>
<ellipse cx="338.2" cy="1185.2" rx="4.8" ry="4.99" fill="#238b45"/>
<ellipse cx="250.5" cy="1334.7" rx="4.8" ry="4.99" fill="#74c476"/>
<ellipse cx="304.1" cy="1203.1" rx="4.8" ry="4.99" fill="#238b45"/>
<ellipse cx="283.1" cy="1193.9" rx="4.8" ry="4.99" fill="#238b45"/>
<ellipse cx="343.6" cy="1211.3" rx="4.8" ry="4.99" fill="#238b45"/>
<ellipse cx="256.0" cy="1333.7" rx="4.8" ry="4.99" fill="#74c476"/>
<ellipse cx="241.4" cy="1364.7" rx="4.8" ry="4.99" fill="#74c476"/>
<ellipse cx="290.8" cy="1340.0" rx="4.8" ry="4.99" fill="#74c476"/>
<ellipse cx="288.3" cy="1207.3" rx="4.8" ry="4.99" fill="#238b45"/>
<ellipse cx="221.6" cy="1360.1" rx="4.8" ry="4.99" fill="#74c476"/>
<ellipse cx="354.3" cy="1419.1" rx="4.8" ry="4.99" fill="#c7e9c0"/>
<ellipse cx="240.2" cy="1353.3" rx="4.8" ry="4.99" fill="#74c476"/>
<ellipse cx="342.5" cy="1197.7" rx="4.8" ry="4.99" fill="#238b45"/>
<ellipse cx="379.0" cy="1150.7" rx="4.8" ry="4.99" fill="#238b45"/>
<ellipse cx="231.7" cy="1199.9" rx="4.8" ry="4.99" fill="#238b45"/>
<ellipse cx="256.6" cy="1197.1" rx="4.8" ry="4.99" fill="#238b45"/>
<ellipse cx="241.8" cy="1211.5" rx="4.8" ry="4.99" fill="#238b45"/>
<ellipse cx="249.0" cy="1359.1" rx="4.8" ry="4.99" fill="#74c476"/>
<ellipse cx="398.5" cy="1374.1" rx="4.8" ry="4.99" fill="#74c476"/>
<ellipse cx="182.6" cy="1317.2" rx="4.8" ry="4.99" fill="#74c476"/>
<ellipse cx="258.6" cy="1342.4" rx="4.8" ry="4.99" fill="#74c476"/>
<ellipse cx="358.2" cy="1176.4" rx="4.8" ry="4.99" fill="#238b45"/>
<ellipse cx="308.9" cy="1189.6" rx="4.8" ry="4.99" fill="#238b45"/>
<ellipse cx="259.8" cy="1337.3" rx="4.8" ry="4.99" fill="#74c476"/>
<ellipse cx="248.6" cy="1360.0" rx="4.8" ry="4.99" fill="#74c476"/>
<ellipse cx="364.4" cy="1330.3" rx="4.8" ry="4.99" fill="#74c476"/>
<ellipse cx="310.3" cy="1374.9" rx="4.8" ry="4.99" fill="#74c476"/>
<ellipse cx="215.6" cy="1347.8" rx="4.8" ry="4.99" fill="#74c476"/>
<ellipse cx="208.1" cy="1353.8" rx="4.8" ry="4.99" fill="#74c476"/>
<ellipse cx="173.6" cy="1212.4" rx="4.8" ry="4.99" fill="#238b45"/>
<ellipse cx="259.4" cy="1331.7" rx="4.8" ry="4.99" fill="#74c476"/>
<ellipse cx="214.5" cy="1344.0" rx="4.8" ry="4.99" fill="#74c476"/>
<ellipse cx="242.8" cy="1337.3" rx="4.8" ry="4.99" fill="#74c476"/>
<ellipse cx="357.8" cy="1323.3" rx="4.8" ry="4.99" fill="#74c476"/>
<ellipse cx="237.4" cy="1357.6" rx="4.8" ry="4.99" fill="#74c476"/>
<ellipse cx="214.8" cy="1222.8" rx="4.8" ry="4.99" fill="#238b45"/>
<ellipse cx="279.3" cy="1478.1" rx="4.8" ry="4.99" fill="#c7e9c0"/>
<ellipse cx="296.5" cy="1185.5" rx="4.8" ry="4.99" fill="#238b45"/>
<ellipse cx="359.4" cy="1340.3" rx="4.8" ry="4.99" fill="#74c476"/>
<ellipse cx="129.2" cy="1327.3" rx="4.8" ry="4.99" fill="#74c476"/>
<ellipse cx="253.4" cy="1203.6" rx="4.8" ry="4.99" fill="#238b45"/>
<ellipse cx="282.1" cy="1443.1" rx="4.8" ry="4.99" fill="#c7e9c0"/>
<ellipse cx="179.3" cy="1456.0" rx="4.8" ry="4.99" fill="#c7e9c0"/>
<ellipse cx="204.0" cy="1203.4" rx="4.8" ry="4.99" fill="#238b45"/>
<ellipse cx="246.5" cy="1349.4" rx="4.8" ry="4.99" fill="#74c476"/>
<ellipse cx="285.9" cy="1188.9" rx="4.8" ry="4.99" fill="#238b45"/>
<ellipse cx="253.5" cy="1201.4" rx="4.8" ry="4.99" fill="#238b45"/>
<ellipse cx="306.1" cy="1380.1" rx="4.8" ry="4.99" fill="#74c476"/>
<ellipse cx="240.8" cy="1322.5" rx="4.8" ry="4.99" fill="#74c476"/>
<ellipse cx="210.8" cy="1462.1" rx="4.8" ry="4.99" fill="#c7e9c0"/>
<ellipse cx="265.5" cy="1346.9" rx="4.8" ry="4.99" fill="#74c476"/>
<ellipse cx="188.4" cy="1468.3" rx="4.8" ry="4.99" fill="#c7e9c0"/>
<ellipse cx="161.3" cy="1336.3" rx="4.8" ry="4.99" fill="#74c476"/>
<ellipse cx="336.6" cy="1349.5" rx="4.8" ry="4.99" fill="#74c476"/>
<ellipse cx="195.5" cy="1346.5" rx="4.8" ry="4.99" fill="#74c476"/>
<ellipse cx="235.0" cy="1187.3" rx="4.8" ry="4.99" fill="#238b45"/>
<ellipse cx="257.4" cy="1474.6" rx="4.8" ry="4.99" fill="#c7e9c0"/>
<ellipse cx="198.4" cy="1205.9" rx="4.8" ry="4.99" fill="#238b45"/>
<ellipse cx="250.8" cy="1335.6" rx="4.8" ry="4.99" fill="#74c476"/>
<ellipse cx="240.6" cy="1174.2" rx="4.8" ry="4.99" fill="#238b45"/>
<ellipse cx="282.0" cy="1179.8" rx="4.8" ry="4.99" fill="#238b45"/>
<ellipse cx="346.0" cy="1211.0" rx="4.8" ry="4.99" fill="#238b45"/>
<ellipse cx="324.2" cy="1465.7" rx="4.8" ry="4.99" fill="#c7e9c0"/>
<ellipse cx="254.0" cy="1462.0" rx="4.8" ry="4.99" fill="#c7e9c0"/>
<ellipse cx="280.9" cy="1363.7" rx="4.8" ry="4.99" fill="#74c476"/>
<ellipse cx="200.4" cy="1230.4" rx="4.8" ry="4.99" fill="#238b45"/>
<ellipse cx="256.3" cy="1338.1" rx="4.8" ry="4.99" fill="#74c476"/>
<ellipse cx="204.3" cy="1358.5" rx="4.8" ry="4.99" fill="#74c476"/>
<ellipse cx="285.3" cy="1204.6" rx="4.8" ry="4.99" fill="#238b45"/>
<ellipse cx="183.6" cy="1330.4" rx="4.8" ry="4.99" fill="#74c476"/>
<ellipse cx="288.2" cy="1205.7" rx="4.8" ry="4.99" fill="#238b45"/>
<ellipse cx="330.8" cy="1345.6" rx="4.8" ry="4.99" fill="#74c476"/>
<ellipse cx="298.1" cy="1351.0" rx="4.8" ry="4.99" fill="#74c476"/>
<ellipse cx="265.8" cy="1470.8" rx="4.8" ry="4.99" fill="#c7e9c0"/>
<ellipse cx="360.4" cy="1192.2" rx="4.8" ry="4.99" fill="#238b45"/>
<ellipse cx="245.5" cy="1175.9" rx="4.8" ry="4.99" fill="#238b45"/>
<ellipse cx="322.6" cy="1231.4" rx="4.8" ry="4.99" fill="#238b45"/>
<ellipse cx="189.1" cy="1202.2" rx="4.8" ry="4.99" fill="#238b45"/>
<ellipse cx="249.1" cy="1356.2" rx="4.8" ry="4.99" fill="#74c476"/>
<ellipse cx="280.1" cy="1369.9" rx="4.8" ry="4.99" fill="#74c476"/>
<ellipse cx="283.3" cy="1349.5" rx="4.8" ry="4.99" fill="#74c476"/>
<ellipse cx="198.4" cy="1419.1" rx="4.8" ry="4.99" fill="#c7e9c0"/>
<ellipse cx="220.9" cy="1185.4" rx="4.8" ry="4.99" fill="#238b45"/>
<ellipse cx="189.2" cy="1352.1" rx="4.8" ry="4.99" fill="#74c476"/>
<ellipse cx="288.8" cy="1356.7" rx="4.8" ry="4.99" fill="#74c476"/>
<ellipse cx="449.3" cy="1553.0" rx="4.8" ry="4.99" fill="#c7e9c0"/>
<ellipse cx="299.1" cy="1490.4" rx="4.8" ry="4.99" fill="#c7e9c0"/>
<ellipse cx="194.0" cy="1442.1" rx="4.8" ry="4.99" fill="#c7e9c0"/>
<ellipse cx="160.3" cy="1382.5" rx="4.8" ry="4.99" fill="#74c476"/>
<ellipse cx="288.1" cy="1361.6" rx="4.8" ry="4.99" fill="#74c476"/>
<ellipse cx="311.9" cy="1359.5" rx="4.8" ry="4.99" fill="#74c476"/>
<ellipse cx="318.0" cy="1198.2" rx="4.8" ry="4.99" fill="#238b45"/>
<ellipse cx="253.7" cy="1210.7" rx="4.8" ry="4.99" fill="#238b45"/>
<ellipse cx="179.4" cy="1391.5" rx="4.8" ry="4.99" fill="#74c476"/>
<ellipse cx="333.7" cy="1186.1" rx="4.8" ry="4.99" fill="#238b45"/>
<ellipse cx="287.6" cy="1345.7" rx="4.8" ry="4.99" fill="#74c476"/>
<ellipse cx="189.5" cy="1349.0" rx="4.8" ry="4.99" fill="#74c476"/>
<ellipse cx="244.5" cy="1202.2" rx="4.8" ry="4.99" fill="#238b45"/>
<ellipse cx="304.7" cy="1191.1" rx="4.8" ry="4.99" fill="#238b45"/>
<ellipse cx="198.5" cy="1335.2" rx="4.8" ry="4.99" fill="#74c476"/>
<ellipse cx="257.3" cy="1185.6" rx="4.8" ry="4.99" fill="#238b45"/>
<ellipse cx="310.2" cy="1474.3" rx="4.8" ry="4.99" fill="#c7e9c0"/>
<ellipse cx="237.6" cy="1393.5" rx="4.8" ry="4.99" fill="#74c476"/>
<ellipse cx="331.2" cy="1213.3" rx="4.8" ry="4.99" fill="#238b45"/>
<ellipse cx="279.9" cy="1207.1" rx="4.8" ry="4.99" fill="#238b45"/>
<ellipse cx="317.5" cy="1362.3" rx="4.8" ry="4.99" fill="#74c476"/>
<ellipse cx="209.7" cy="1332.3" rx="4.8" ry="4.99" fill="#74c476"/>
<ellipse cx="248.5" cy="1207.6" rx="4.8" ry="4.99" fill="#238b45"/>
<ellipse cx="378.0" cy="1347.8" rx="4.8" ry="4.99" fill="#74c476"/>
<ellipse cx="295.3" cy="1178.6" rx="4.8" ry="4.99" fill="#238b45"/>
<ellipse cx="214.5" cy="1490.4" rx="4.8" ry="4.99" fill="#c7e9c0"/>
<ellipse cx="210.8" cy="1195.5" rx="4.8" ry="4.99" fill="#238b45"/>
<ellipse cx="306.7" cy="1230.4" rx="4.8" ry="4.99" fill="#238b45"/>
<ellipse cx="245.0" cy="1356.6" rx="4.8" ry="4.99" fill="#74c476"/>
<ellipse cx="276.2" cy="1329.1" rx="4.8" ry="4.99" fill="#74c476"/>
<ellipse cx="320.8" cy="1331.2" rx="4.8" ry="4.99" fill="#74c476"/>
<ellipse cx="283.1" cy="1479.3" rx="4.8" ry="4.99" fill="#c7e9c0"/>
<ellipse cx="300.4" cy="1343.8" rx="4.8" ry="4.99" fill="#74c476"/>
<ellipse cx="358.5" cy="1182.2" rx="4.8" ry="4.99" fill="#238b45"/>
<ellipse cx="296.2" cy="1322.2" rx="4.8" ry="4.99" fill="#74c476"/>
<ellipse cx="327.1" cy="1360.3" rx="4.8" ry="4.99" fill="#74c476"/>
<ellipse cx="203.1" cy="1327.0" rx="4.8" ry="4.99" fill="#74c476"/>
<ellipse cx="293.9" cy="1340.6" rx="4.8" ry="4.99" fill="#74c476"/>
<ellipse cx="204.9" cy="1180.1" rx="4.8" ry="4.99" fill="#238b45"/>
<ellipse cx="299.6" cy="1341.0" rx="4.8" ry="4.99" fill="#74c476"/>
<ellipse cx="301.8" cy="1498.4" rx="4.8" ry="4.99" fill="#c7e9c0"/>
<ellipse cx="137.2" cy="1201.3" rx="4.8" ry="4.99" fill="#238b45"/>
<ellipse cx="284.4" cy="1463.7" rx="4.8" ry="4.99" fill="#c7e9c0"/>
<ellipse cx="248.3" cy="1367.6" rx="4.8" ry="4.99" fill="#74c476"/>
<ellipse cx="216.0" cy="1330.7" rx="4.8" ry="4.99" fill="#74c476"/>
<ellipse cx="192.6" cy="1199.4" rx="4.8" ry="4.99" fill="#238b45"/>
<ellipse cx="128.2" cy="1220.4" rx="4.8" ry="4.99" fill="#238b45"/>
<ellipse cx="280.4" cy="1364.1" rx="4.8" ry="4.99" fill="#74c476"/>
<ellipse cx="325.7" cy="1167.8" rx="4.8" ry="4.99" fill="#238b45"/>
<ellipse cx="180.4" cy="1213.8" rx="4.8" ry="4.99" fill="#238b45"/>
<ellipse cx="267.2" cy="1438.7" rx="4.8" ry="4.99" fill="#c7e9c0"/>
<ellipse cx="306.5" cy="1187.8" rx="4.8" ry="4.99" fill="#238b45"/>
<ellipse cx="310.2" cy="1503.4" rx="4.8" ry="4.99" fill="#c7e9c0"/>
<ellipse cx="283.5" cy="1170.6" rx="4.8" ry="4.99" fill="#238b45"/>
<ellipse cx="228.0" cy="1209.6" rx="4.8" ry="4.99" fill="#238b45"/>
<ellipse cx="200.4" cy="1200.2" rx="4.8" ry="4.99" fill="#238b45"/>
<ellipse cx="271.3" cy="1465.5" rx="4.8" ry="4.99" fill="#c7e9c0"/>
<ellipse cx="277.8" cy="1199.2" rx="4.8" ry="4.99" fill="#238b45"/>
<ellipse cx="269.7" cy="1368.5" rx="4.8" ry="4.99" fill="#74c476"/>
<ellipse cx="272.3" cy="1313.8" rx="4.8" ry="4.99" fill="#74c476"/>
<ellipse cx="244.2" cy="1342.5" rx="4.8" ry="4.99" fill="#74c476"/>
<ellipse cx="376.4" cy="1498.4" rx="4.8" ry="4.99" fill="#c7e9c0"/>
<ellipse cx="236.9" cy="1351.1" rx="4.8" ry="4.99" fill="#74c476"/>
<ellipse cx="271.2" cy="1197.5" rx="4.8" ry="4.99" fill="#238b45"/>
<ellipse cx="340.6" cy="1197.2" rx="4.8" ry="4.99" fill="#238b45"/>
<ellipse cx="203.2" cy="1185.3" rx="4.8" ry="4.99" fill="#238b45"/>
<ellipse cx="168.1" cy="1184.5" rx="4.8" ry="4.99" fill="#238b45"/>
<ellipse cx="259.6" cy="1188.4" rx="4.8" ry="4.99" fill="#238b45"/>
<ellipse cx="246.6" cy="1442.2" rx="4.8" ry="4.99" fill="#c7e9c0"/>
<ellipse cx="271.0" cy="1230.0" rx="4.8" ry="4.99" fill="#238b45"/>
<ellipse cx="260.5" cy="1355.6" rx="4.8" ry="4.99" fill="#74c476"/>
<ellipse cx="209.2" cy="1452.6" rx="4.8" ry="4.99" fill="#c7e9c0"/>
<ellipse cx="292.1" cy="1479.4" rx="4.8" ry="4.99" fill="#c7e9c0"/>
<ellipse cx="363.4" cy="1203.3" rx="4.8" ry="4.99" fill="#238b45"/>
<ellipse cx="352.3" cy="1346.3" rx="4.8" ry="4.99" fill="#74c476"/>
<ellipse cx="342.9" cy="1183.9" rx="4.8" ry="4.99" fill="#238b45"/>
<ellipse cx="310.5" cy="1184.9" rx="4.8" ry="4.99" fill="#238b45"/>
<ellipse cx="258.7" cy="1191.3" rx="4.8" ry="4.99" fill="#238b45"/>
<ellipse cx="299.1" cy="1347.4" rx="4.8" ry="4.99" fill="#74c476"/>
<ellipse cx="338.5" cy="1176.3" rx="4.8" ry="4.99" fill="#238b45"/>
<ellipse cx="219.4" cy="1188.4" rx="4.8" ry="4.99" fill="#238b45"/>
<ellipse cx="255.0" cy="1189.6" rx="4.8" ry="4.99" fill="#238b45"/>
<ellipse cx="307.5" cy="1377.5" rx="4.8" ry="4.99" fill="#74c476"/>
<ellipse cx="353.5" cy="1196.1" rx="4.8" ry="4.99" fill="#238b45"/>
<ellipse cx="156.3" cy="1374.5" rx="4.8" ry="4.99" fill="#74c476"/>
<ellipse cx="330.5" cy="1189.9" rx="4.8" ry="4.99" fill="#238b45"/>
<ellipse cx="284.8" cy="1491.6" rx="4.8" ry="4.99" fill="#c7e9c0"/>
<ellipse cx="174.2" cy="1185.5" rx="4.8" ry="4.99" fill="#238b45"/>
<ellipse cx="243.8" cy="1335.4" rx="4.8" ry="4.99" fill="#74c476"/>
<ellipse cx="258.4" cy="1323.7" rx="4.8" ry="4.99" fill="#74c476"/>
<ellipse cx="216.4" cy="1470.1" rx="4.8" ry="4.99" fill="#c7e9c0"/>
<ellipse cx="343.5" cy="1342.4" rx="4.8" ry="4.99" fill="#74c476"/>
<ellipse cx="345.1" cy="1345.3" rx="4.8" ry="4.99" fill="#74c476"/>
<ellipse cx="351.1" cy="1169.9" rx="4.8" ry="4.99" fill="#238b45"/>
<ellipse cx="255.7" cy="1300.2" rx="4.8" ry="4.99" fill="#74c476"/>
<ellipse cx="315.3" cy="1175.6" rx="4.8" ry="4.99" fill="#238b45"/>
<ellipse cx="338.9" cy="1364.4" rx="4.8" ry="4.99" fill="#74c476"/>
<ellipse cx="336.3" cy="1377.5" rx="4.8" ry="4.99" fill="#74c476"/>
<ellipse cx="324.6" cy="1174.7" rx="4.8" ry="4.99" fill="#238b45"/>
<ellipse cx="255.1" cy="1350.7" rx="4.8" ry="4.99" fill="#74c476"/>
<ellipse cx="302.7" cy="1444.2" rx="4.8" ry="4.99" fill="#c7e9c0"/>
<ellipse cx="338.4" cy="1203.6" rx="4.8" ry="4.99" fill="#238b45"/>
<ellipse cx="290.7" cy="1192.4" rx="4.8" ry="4.99" fill="#238b45"/>
<ellipse cx="206.8" cy="1219.9" rx="4.8" ry="4.99" fill="#238b45"/>
<ellipse cx="345.0" cy="1348.4" rx="4.8" ry="4.99" fill="#74c476"/>
<ellipse cx="338.3" cy="1325.3" rx="4.8" ry="4.99" fill="#74c476"/>
<ellipse cx="252.8" cy="1189.6" rx="4.8" ry="4.99" fill="#238b45"/>
<ellipse cx="196.9" cy="1216.6" rx="4.8" ry="4.99" fill="#238b45"/>
<ellipse cx="357.3" cy="1454.6" rx="4.8" ry="4.99" fill="#c7e9c0"/>
<ellipse cx="152.3" cy="1353.4" rx="4.8" ry="4.99" fill="#74c476"/>
<ellipse cx="283.9" cy="1189.0" rx="4.8" ry="4.99" fill="#238b45"/>
<ellipse cx="275.8" cy="1190.9" rx="4.8" ry="4.99" fill="#238b45"/>
<ellipse cx="191.5" cy="1185.1" rx="4.8" ry="4.99" fill="#238b45"/>
<ellipse cx="260.0" cy="1468.9" rx="4.8" ry="4.99" fill="#c7e9c0"/>
<ellipse cx="205.1" cy="1348.7" rx="4.8" ry="4.99" fill="#74c476"/>
<ellipse cx="311.1" cy="1356.9" rx="4.8" ry="4.99" fill="#74c476"/>
<ellipse cx="320.9" cy="1377.2" rx="4.8" ry="4.99" fill="#74c476"/>
<ellipse cx="307.0" cy="1336.9" rx="4.8" ry="4.99" fill="#74c476"/>
<ellipse cx="288.5" cy="1179.5" rx="4.8" ry="4.99" fill="#238b45"/>
<ellipse cx="238.9" cy="1174.6" rx="4.8" ry="4.99" fill="#238b45"/>
<ellipse cx="168.1" cy="1193.0" rx="4.8" ry="4.99" fill="#238b45"/>
<ellipse cx="262.7" cy="1342.7" rx="4.8" ry="4.99" fill="#74c476"/>
<ellipse cx="171.6" cy="1189.3" rx="4.8" ry="4.99" fill="#238b45"/>
<ellipse cx="162.3" cy="1207.3" rx="4.8" ry="4.99" fill="#238b45"/>
<ellipse cx="306.0" cy="1353.9" rx="4.8" ry="4.99" fill="#74c476"/>
<ellipse cx="307.7" cy="1168.5" rx="4.8" ry="4.99" fill="#238b45"/>
<ellipse cx="293.8" cy="1485.8" rx="4.8" ry="4.99" fill="#c7e9c0"/>
<ellipse cx="180.2" cy="1446.9" rx="4.8" ry="4.99" fill="#c7e9c0"/>
<ellipse cx="193.6" cy="1218.5" rx="4.8" ry="4.99" fill="#238b45"/>
<ellipse cx="249.9" cy="1448.7" rx="4.8" ry="4.99" fill="#c7e9c0"/>
<ellipse cx="256.1" cy="1313.4" rx="4.8" ry="4.99" fill="#74c476"/>
<ellipse cx="294.9" cy="1318.6" rx="4.8" ry="4.99" fill="#74c476"/>
<ellipse cx="331.2" cy="1315.8" rx="4.8" ry="4.99" fill="#74c476"/>
<ellipse cx="223.9" cy="1341.5" rx="4.8" ry="4.99" fill="#74c476"/>
<ellipse cx="219.4" cy="1358.7" rx="4.8" ry="4.99" fill="#74c476"/>
<ellipse cx="146.2" cy="1444.2" rx="4.8" ry="4.99" fill="#c7e9c0"/>
<ellipse cx="301.1" cy="1506.4" rx="4.8" ry="4.99" fill="#c7e9c0"/>
<ellipse cx="146.2" cy="1221.4" rx="4.8" ry="4.99" fill="#238b45"/>
<ellipse cx="284.3" cy="1478.7" rx="4.8" ry="4.99" fill="#c7e9c0"/>
<ellipse cx="204.2" cy="1342.6" rx="4.8" ry="4.99" fill="#74c476"/>
<ellipse cx="394.9" cy="1338.9" rx="4.8" ry="4.99" fill="#74c476"/>
<ellipse cx="331.0" cy="1344.7" rx="4.8" ry="4.99" fill="#74c476"/>
<ellipse cx="260.4" cy="1338.8" rx="4.8" ry="4.99" fill="#74c476"/>
<ellipse cx="188.2" cy="1337.8" rx="4.8" ry="4.99" fill="#74c476"/>
<ellipse cx="231.5" cy="1373.3" rx="4.8" ry="4.99" fill="#74c476"/>
<ellipse cx="199.9" cy="1209.9" rx="4.8" ry="4.99" fill="#238b45"/>
<ellipse cx="223.5" cy="1459.2" rx="4.8" ry="4.99" fill="#c7e9c0"/>
<ellipse cx="312.7" cy="1214.0" rx="4.8" ry="4.99" fill="#238b45"/>
<ellipse cx="198.7" cy="1352.4" rx="4.8" ry="4.99" fill="#74c476"/>
<ellipse cx="139.8" cy="1419.7" rx="4.8" ry="4.99" fill="#c7e9c0"/>
<ellipse cx="148.2" cy="1458.2" rx="4.8" ry="4.99" fill="#c7e9c0"/>
<ellipse cx="256.4" cy="1453.5" rx="4.8" ry="4.99" fill="#c7e9c0"/>
<ellipse cx="294.9" cy="1352.3" rx="4.8" ry="4.99" fill="#74c476"/>
<ellipse cx="221.2" cy="1346.5" rx="4.8" ry="4.99" fill="#74c476"/>
<ellipse cx="220.5" cy="1374.5" rx="4.8" ry="4.99" fill="#74c476"/>
<ellipse cx="229.1" cy="1352.4" rx="4.8" ry="4.99" fill="#74c476"/>
<ellipse cx="320.8" cy="1345.2" rx="4.8" ry="4.99" fill="#74c476"/>
<ellipse cx="334.3" cy="1380.5" rx="4.8" ry="4.99" fill="#74c476"/>
<ellipse cx="262.1" cy="1485.1" rx="4.8" ry="4.99" fill="#c7e9c0"/>
<ellipse cx="230.6" cy="1376.5" rx="4.8" ry="4.99" fill="#74c476"/>
<ellipse cx="191.3" cy="1460.0" rx="4.8" ry="4.99" fill="#c7e9c0"/>
<ellipse cx="192.4" cy="1460.2" rx="4.8" ry="4.99" fill="#c7e9c0"/>
<ellipse cx="200.4" cy="1466.8" rx="4.8" ry="4.99" fill="#c7e9c0"/>
<ellipse cx="210.9" cy="1352.3" rx="4.8" ry="4.99" fill="#74c476"/>
<ellipse cx="399.5" cy="1471.7" rx="4.8" ry="4.99" fill="#c7e9c0"/>
<ellipse cx="321.2" cy="1211.3" rx="4.8" ry="4.99" fill="#238b45"/>
<ellipse cx="274.1" cy="1178.3" rx="4.8" ry="4.99" fill="#238b45"/>
<ellipse cx="209.4" cy="1190.1" rx="4.8" ry="4.99" fill="#238b45"/>
<ellipse cx="341.5" cy="1359.2" rx="4.8" ry="4.99" fill="#74c476"/>
<ellipse cx="235.1" cy="1463.8" rx="4.8" ry="4.99" fill="#c7e9c0"/>
<ellipse cx="359.4" cy="1533.5" rx="4.8" ry="4.99" fill="#c7e9c0"/>
<ellipse cx="281.4" cy="1358.2" rx="4.8" ry="4.99" fill="#74c476"/>
<ellipse cx="205.7" cy="1213.7" rx="4.8" ry="4.99" fill="#238b45"/>
<ellipse cx="185.7" cy="1211.0" rx="4.8" ry="4.99" fill="#238b45"/>
<ellipse cx="338.9" cy="1178.3" rx="4.8" ry="4.99" fill="#238b45"/>
<ellipse cx="348.3" cy="1184.0" rx="4.8" ry="4.99" fill="#238b45"/>
<ellipse cx="361.0" cy="1172.0" rx="4.8" ry="4.99" fill="#238b45"/>
<ellipse cx="169.3" cy="1386.1" rx="4.8" ry="4.99" fill="#74c476"/>
<ellipse cx="297.1" cy="1359.2" rx="4.8" ry="4.99" fill="#74c476"/>
<ellipse cx="359.8" cy="1391.5" rx="4.8" ry="4.99" fill="#74c476"/>
<ellipse cx="330.2" cy="1513.5" rx="4.8" ry="4.99" fill="#c7e9c0"/>
<ellipse cx="185.0" cy="1206.0" rx="4.8" ry="4.99" fill="#238b45"/>
<ellipse cx="175.0" cy="1321.2" rx="4.8" ry="4.99" fill="#74c476"/>
<ellipse cx="352.3" cy="1374.5" rx="4.8" ry="4.99" fill="#74c476"/>
<ellipse cx="294.1" cy="1203.7" rx="4.8" ry="4.99" fill="#238b45"/>
<ellipse cx="273.8" cy="1171.5" rx="4.8" ry="4.99" fill="#238b45"/>
<ellipse cx="260.8" cy="1204.8" rx="4.8" ry="4.99" fill="#238b45"/>
<ellipse cx="260.7" cy="1388.5" rx="4.8" ry="4.99" fill="#74c476"/>
<ellipse cx="267.3" cy="1333.8" rx="4.8" ry="4.99" fill="#74c476"/>
<ellipse cx="237.8" cy="1335.7" rx="4.8" ry="4.99" fill="#74c476"/>
<ellipse cx="317.2" cy="1322.7" rx="4.8" ry="4.99" fill="#74c476"/>
<ellipse cx="255.3" cy="1207.7" rx="4.8" ry="4.99" fill="#238b45"/>
<ellipse cx="207.8" cy="1185.4" rx="4.8" ry="4.99" fill="#238b45"/>
<ellipse cx="287.5" cy="1461.2" rx="4.8" ry="4.99" fill="#c7e9c0"/>
<ellipse cx="182.9" cy="1204.1" rx="4.8" ry="4.99" fill="#238b45"/>
<ellipse cx="216.1" cy="1210.2" rx="4.8" ry="4.99" fill="#238b45"/>
<ellipse cx="298.1" cy="1311.2" rx="4.8" ry="4.99" fill="#74c476"/>
<ellipse cx="168.3" cy="1186.2" rx="4.8" ry="4.99" fill="#238b45"/>
<ellipse cx="229.4" cy="1355.8" rx="4.8" ry="4.99" fill="#74c476"/>
<ellipse cx="304.6" cy="1364.8" rx="4.8" ry="4.99" fill="#74c476"/>
<ellipse cx="292.2" cy="1342.9" rx="4.8" ry="4.99" fill="#74c476"/>
<ellipse cx="222.5" cy="1331.2" rx="4.8" ry="4.99" fill="#74c476"/>
<ellipse cx="247.1" cy="1205.5" rx="4.8" ry="4.99" fill="#238b45"/>
<ellipse cx="227.4" cy="1338.2" rx="4.8" ry="4.99" fill="#74c476"/>
<ellipse cx="337.1" cy="1207.8" rx="4.8" ry="4.99" fill="#238b45"/>
<ellipse cx="223.9" cy="1237.4" rx="4.8" ry="4.99" fill="#238b45"/>
<ellipse cx="166.3" cy="1444.2" rx="4.8" ry="4.99" fill="#c7e9c0"/>
<ellipse cx="202.2" cy="1207.7" rx="4.8" ry="4.99" fill="#238b45"/>
<ellipse cx="259.4" cy="1192.4" rx="4.8" ry="4.99" fill="#238b45"/>
<ellipse cx="394.5" cy="1360.4" rx="4.8" ry="4.99" fill="#74c476"/>
<ellipse cx="282.1" cy="1371.4" rx="4.8" ry="4.99" fill="#74c476"/>
<ellipse cx="271.5" cy="1463.8" rx="4.8" ry="4.99" fill="#c7e9c0"/>
<ellipse cx="267.0" cy="1179.8" rx="4.8" ry="4.99" fill="#238b45"/>
<ellipse cx="212.3" cy="1343.6" rx="4.8" ry="4.99" fill="#74c476"/>
<ellipse cx="276.8" cy="1354.1" rx="4.8" ry="4.99" fill="#74c476"/>
<ellipse cx="292.0" cy="1366.1" rx="4.8" ry="4.99" fill="#74c476"/>
<ellipse cx="202.1" cy="1354.1" rx="4.8" ry="4.99" fill="#74c476"/>
<ellipse cx="265.5" cy="1188.4" rx="4.8" ry="4.99" fill="#238b45"/>
<ellipse cx="260.5" cy="1370.6" rx="4.8" ry="4.99" fill="#74c476"/>
<ellipse cx="268.3" cy="1349.0" rx="4.8" ry="4.99" fill="#74c476"/>
<ellipse cx="263.1" cy="1335.0" rx="4.8" ry="4.99" fill="#74c476"/>
<ellipse cx="210.8" cy="1348.5" rx="4.8" ry="4.99" fill="#74c476"/>
<ellipse cx="204.8" cy="1353.9" rx="4.8" ry="4.99" fill="#74c476"/>
<ellipse cx="243.9" cy="1327.4" rx="4.8" ry="4.99" fill="#74c476"/>
<ellipse cx="289.8" cy="1351.5" rx="4.8" ry="4.99" fill="#74c476"/>
<ellipse cx="260.7" cy="1440.2" rx="4.8" ry="4.99" fill="#c7e9c0"/>
<ellipse cx="202.9" cy="1170.2" rx="4.8" ry="4.99" fill="#238b45"/>
<ellipse cx="123.7" cy="1381.5" rx="4.8" ry="4.99" fill="#74c476"/>
<ellipse cx="179.8" cy="1357.2" rx="4.8" ry="4.99" fill="#74c476"/>
<ellipse cx="250.2" cy="1341.9" rx="4.8" ry="4.99" fill="#74c476"/>
<ellipse cx="247.6" cy="1292.1" rx="4.8" ry="4.99" fill="#74c476"/>
<ellipse cx="206.2" cy="1204.6" rx="4.8" ry="4.99" fill="#238b45"/>
<ellipse cx="285.8" cy="1216.4" rx="4.8" ry="4.99" fill="#238b45"/>
<ellipse cx="221.0" cy="1450.7" rx="4.8" ry="4.99" fill="#c7e9c0"/>
<ellipse cx="275.1" cy="1354.1" rx="4.8" ry="4.99" fill="#74c476"/>
<ellipse cx="172.2" cy="1205.0" rx="4.8" ry="4.99" fill="#238b45"/>
<ellipse cx="265.8" cy="1481.1" rx="4.8" ry="4.99" fill="#c7e9c0"/>
<ellipse cx="244.1" cy="1481.6" rx="4.8" ry="4.99" fill="#c7e9c0"/>
<ellipse cx="170.5" cy="1219.5" rx="4.8" ry="4.99" fill="#238b45"/>
<ellipse cx="236.5" cy="1335.6" rx="4.8" ry="4.99" fill="#74c476"/>
<ellipse cx="310.2" cy="1347.2" rx="4.8" ry="4.99" fill="#74c476"/>
<ellipse cx="416.6" cy="1417.0" rx="4.8" ry="4.99" fill="#74c476"/>
<ellipse cx="368.4" cy="1334.3" rx="4.8" ry="4.99" fill="#74c476"/>
<ellipse cx="331.2" cy="1490.4" rx="4.8" ry="4.99" fill="#c7e9c0"/>
<ellipse cx="205.4" cy="1198.4" rx="4.8" ry="4.99" fill="#238b45"/>
<ellipse cx="342.4" cy="1348.1" rx="4.8" ry="4.99" fill="#74c476"/>
<ellipse cx="254.5" cy="1365.7" rx="4.8" ry="4.99" fill="#74c476"/>
<ellipse cx="379.4" cy="1191.2" rx="4.8" ry="4.99" fill="#238b45"/>
<ellipse cx="269.8" cy="1199.4" rx="4.8" ry="4.99" fill="#238b45"/>
<ellipse cx="366.4" cy="1364.4" rx="4.8" ry="4.99" fill="#74c476"/>
<ellipse cx="276.0" cy="1341.2" rx="4.8" ry="4.99" fill="#74c476"/>
<ellipse cx="229.2" cy="1333.4" rx="4.8" ry="4.99" fill="#74c476"/>
<ellipse cx="260.7" cy="1479.7" rx="4.8" ry="4.99" fill="#c7e9c0"/>
<ellipse cx="324.7" cy="1333.9" rx="4.8" ry="4.99" fill="#74c476"/>
<ellipse cx="181.7" cy="1179.7" rx="4.8" ry="4.99" fill="#238b45"/>
<ellipse cx="304.7" cy="1341.2" rx="4.8" ry="4.99" fill="#74c476"/>
<ellipse cx="154.9" cy="1421.1" rx="4.8" ry="4.99" fill="#c7e9c0"/>
<ellipse cx="301.7" cy="1351.4" rx="4.8" ry="4.99" fill="#74c476"/>
<ellipse cx="304.1" cy="1189.6" rx="4.8" ry="4.99" fill="#238b45"/>
<ellipse cx="344.3" cy="1168.1" rx="4.8" ry="4.99" fill="#238b45"/>
<ellipse cx="258.5" cy="1347.4" rx="4.8" ry="4.99" fill="#74c476"/>
<ellipse cx="302.7" cy="1250.5" rx="4.8" ry="4.99" fill="#238b45"/>
<ellipse cx="197.1" cy="1328.7" rx="4.8" ry="4.99" fill="#74c476"/>
<ellipse cx="385.5" cy="1168.7" rx="4.8" ry="4.99" fill="#238b45"/>
<ellipse cx="255.2" cy="1341.3" rx="4.8" ry="4.99" fill="#74c476"/>
<ellipse cx="259.7" cy="1468.3" rx="4.8" ry="4.99" fill="#c7e9c0"/>
<ellipse cx="342.5" cy="1204.8" rx="4.8" ry="4.99" fill="#238b45"/>
<ellipse cx="288.0" cy="1364.1" rx="4.8" ry="4.99" fill="#74c476"/>
<ellipse cx="262.7" cy="1466.3" rx="4.8" ry="4.99" fill="#c7e9c0"/>
<ellipse cx="273.0" cy="1480.3" rx="4.8" ry="4.99" fill="#c7e9c0"/>
<ellipse cx="273.0" cy="1448.2" rx="4.8" ry="4.99" fill="#c7e9c0"/>
<ellipse cx="287.5" cy="1343.0" rx="4.8" ry="4.99" fill="#74c476"/>
<ellipse cx="233.4" cy="1199.3" rx="4.8" ry="4.99" fill="#238b45"/>
<ellipse cx="278.5" cy="1344.0" rx="4.8" ry="4.99" fill="#74c476"/>
<ellipse cx="273.2" cy="1360.9" rx="4.8" ry="4.99" fill="#74c476"/>
<ellipse cx="216.3" cy="1196.4" rx="4.8" ry="4.99" fill="#238b45"/>
<ellipse cx="256.9" cy="1199.1" rx="4.8" ry="4.99" fill="#238b45"/>
<ellipse cx="207.1" cy="1470.0" rx="4.8" ry="4.99" fill="#c7e9c0"/>
<ellipse cx="330.6" cy="1362.1" rx="4.8" ry="4.99" fill="#74c476"/>
<ellipse cx="167.3" cy="1218.3" rx="4.8" ry="4.99" fill="#238b45"/>
<ellipse cx="302.2" cy="1194.3" rx="4.8" ry="4.99" fill="#238b45"/>
<ellipse cx="170.3" cy="1192.2" rx="4.8" ry="4.99" fill="#238b45"/>
<ellipse cx="301.5" cy="1337.5" rx="4.8" ry="4.99" fill="#74c476"/>
<ellipse cx="190.4" cy="1206.9" rx="4.8" ry="4.99" fill="#238b45"/>
<ellipse cx="276.8" cy="1320.1" rx="4.8" ry="4.99" fill="#74c476"/>
<ellipse cx="238.3" cy="1220.4" rx="4.8" ry="4.99" fill="#238b45"/>
<ellipse cx="244.3" cy="1375.9" rx="4.8" ry="4.99" fill="#74c476"/>
<ellipse cx="293.8" cy="1339.4" rx="4.8" ry="4.99" fill="#74c476"/>
<ellipse cx="182.5" cy="1329.9" rx="4.8" ry="4.99" fill="#74c476"/>
<ellipse cx="385.1" cy="1384.1" rx="4.8" ry="4.99" fill="#74c476"/>
<ellipse cx="246.9" cy="1325.9" rx="4.8" ry="4.99" fill="#74c476"/>
<ellipse cx="190.1" cy="1192.5" rx="4.8" ry="4.99" fill="#238b45"/>
<ellipse cx="271.6" cy="1356.1" rx="4.8" ry="4.99" fill="#74c476"/>
<ellipse cx="306.7" cy="1175.3" rx="4.8" ry="4.99" fill="#238b45"/>
<ellipse cx="246.9" cy="1347.1" rx="4.8" ry="4.99" fill="#74c476"/>
<ellipse cx="261.1" cy="1339.4" rx="4.8" ry="4.99" fill="#74c476"/>
<ellipse cx="346.9" cy="1197.9" rx="4.8" ry="4.99" fill="#238b45"/>
<ellipse cx="235.6" cy="1329.6" rx="4.8" ry="4.99" fill="#74c476"/>
<ellipse cx="194.4" cy="1439.2" rx="4.8" ry="4.99" fill="#c7e9c0"/>
<ellipse cx="295.8" cy="1196.5" rx="4.8" ry="4.99" fill="#238b45"/>
<ellipse cx="354.9" cy="1539.2" rx="4.8" ry="4.99" fill="#c7e9c0"/>
<ellipse cx="276.6" cy="1175.3" rx="4.8" ry="4.99" fill="#238b45"/>
<ellipse cx="349.3" cy="1516.5" rx="4.8" ry="4.99" fill="#c7e9c0"/>
<ellipse cx="227.4" cy="1326.7" rx="4.8" ry="4.99" fill="#74c476"/>
<ellipse cx="347.7" cy="1191.6" rx="4.8" ry="4.99" fill="#238b45"/>
<ellipse cx="184.9" cy="1341.5" rx="4.8" ry="4.99" fill="#74c476"/>
<ellipse cx="261.1" cy="1447.9" rx="4.8" ry="4.99" fill="#c7e9c0"/>
<ellipse cx="326.7" cy="1360.8" rx="4.8" ry="4.99" fill="#74c476"/>
<ellipse cx="253.7" cy="1502.4" rx="4.8" ry="4.99" fill="#c7e9c0"/>
<ellipse cx="404.5" cy="1545.6" rx="4.8" ry="4.99" fill="#c7e9c0"/>
<ellipse cx="289.1" cy="1500.1" rx="4.8" ry="4.99" fill="#c7e9c0"/>
<ellipse cx="264.0" cy="1188.2" rx="4.8" ry="4.99" fill="#238b45"/>
<ellipse cx="277.8" cy="1344.8" rx="4.8" ry="4.99" fill="#74c476"/>
<ellipse cx="312.0" cy="1193.7" rx="4.8" ry="4.99" fill="#238b45"/>
<ellipse cx="277.4" cy="1332.9" rx="4.8" ry="4.99" fill="#74c476"/>
<ellipse cx="179.4" cy="1322.0" rx="4.8" ry="4.99" fill="#74c476"/>
<ellipse cx="323.7" cy="1355.3" rx="4.8" ry="4.99" fill="#74c476"/>
<ellipse cx="326.1" cy="1196.7" rx="4.8" ry="4.99" fill="#238b45"/>
<ellipse cx="132.2" cy="1421.1" rx="4.8" ry="4.99" fill="#c7e9c0"/>
<ellipse cx="207.3" cy="1181.1" rx="4.8" ry="4.99" fill="#238b45"/>
<line x1="128.3" y1="1212.0" x2="432.7" y2="1184.6" stroke="#238b45" stroke-width="4.1"/>
<line x1="104.4" y1="1337.4" x2="435.7" y2="1362" stroke="#74c476" stroke-width="4.1"/>
<line x1="131.5" y1="1433.8" x2="448.3" y2="1529.2" stroke="#c7e9c0" stroke-width="4.1"/>
<rect x="87.3" y="1131.0" width="378.9" height="440.9000000000001" fill="none" stroke="#262626" stroke-width="1.5"/>
<line x1="79.3" y1="1222.0" x2="87.3" y2="1222.0" stroke="#262626" stroke-width="2.2"/>
<text x="74.0" y="1230.6" font-size="24" text-anchor="end" font-weight="normal" fill="#000" transform="translate(0,-36.92) scale(1,1.03)">0.8</text>
<line x1="79.3" y1="1329.5" x2="87.3" y2="1329.5" stroke="#262626" stroke-width="2.2"/>
<text x="74.0" y="1338.1" font-size="24" text-anchor="end" font-weight="normal" fill="#000" transform="translate(0,-40.14) scale(1,1.03)">0.6</text>
<line x1="79.3" y1="1436.9" x2="87.3" y2="1436.9" stroke="#262626" stroke-width="2.2"/>
<text x="74.0" y="1445.5" font-size="24" text-anchor="end" font-weight="normal" fill="#000" transform="translate(0,-43.37) scale(1,1.03)">0.4</text>
<line x1="79.3" y1="1544.4" x2="87.3" y2="1544.4" stroke="#262626" stroke-width="2.2"/>
<text x="74.0" y="1553.0" font-size="24" text-anchor="end" font-weight="normal" fill="#000" transform="translate(0,-46.59) scale(1,1.03)">0.2</text>
<line x1="91.9" y1="1571.9" x2="91.9" y2="1579.9" stroke="#262626" stroke-width="2.2"/>
<text x="91.9" y="1603.2" font-size="24" text-anchor="middle" font-weight="normal" fill="#000" transform="translate(0,-48.10) scale(1,1.03)">0.2</text>
<line x1="197.2" y1="1571.9" x2="197.2" y2="1579.9" stroke="#262626" stroke-width="2.2"/>
<text x="197.2" y="1603.2" font-size="24" text-anchor="middle" font-weight="normal" fill="#000" transform="translate(0,-48.10) scale(1,1.03)">0.4</text>
<line x1="302.5" y1="1571.9" x2="302.5" y2="1579.9" stroke="#262626" stroke-width="2.2"/>
<text x="302.5" y="1603.2" font-size="24" text-anchor="middle" font-weight="normal" fill="#000" transform="translate(0,-48.10) scale(1,1.03)">0.6</text>
<line x1="407.8" y1="1571.9" x2="407.8" y2="1579.9" stroke="#262626" stroke-width="2.2"/>
<text x="407.8" y="1603.2" font-size="24" text-anchor="middle" font-weight="normal" fill="#000" transform="translate(0,-48.10) scale(1,1.03)">0.8</text>
<text x="277.6" y="1633.8" font-size="28.3" text-anchor="middle" font-weight="normal" fill="#000" transform="translate(0,-49.01) scale(1,1.03)">Proportion of myeloid cells</text>
<text transform="translate(21.3,1351.5) scale(1.03,1) rotate(-90)" font-size="27" letter-spacing="0.45" text-anchor="middle">cg07195891<tspan dx="7">(</tspan><tspan font-style="italic" font-size="27.7">CLEC4C</tspan><tspan dx="3">)</tspan></text>
<text x="101.0" y="1482.7" font-size="27.5" text-anchor="start" font-weight="normal" fill="#000" transform="translate(0,-44.48) scale(1,1.03)">Genotype</text>
<ellipse cx="109.7" cy="1500.4" rx="4.8" ry="4.99" fill="#238b45"/>
<text x="121.5" y="1510.0" font-size="27" text-anchor="start" font-weight="normal" fill="#000" transform="translate(0,-45.30) scale(1,1.03)">TT</text>
<ellipse cx="109.7" cy="1526.5" rx="4.8" ry="4.99" fill="#74c476"/>
<text x="121.5" y="1536.5" font-size="27" text-anchor="start" font-weight="normal" fill="#000" transform="translate(0,-46.10) scale(1,1.03)">TG</text>
<ellipse cx="109.7" cy="1553.0" rx="4.8" ry="4.99" fill="#c7e9c0"/>
<text x="121.5" y="1562.7" font-size="27" text-anchor="start" font-weight="normal" fill="#000" transform="translate(0,-46.88) scale(1,1.03)">GG</text>
<ellipse cx="821.1" cy="1169.7" rx="4.8" ry="4.99" fill="#238b45"/>
<ellipse cx="696.6" cy="1163.8" rx="4.8" ry="4.99" fill="#238b45"/>
<ellipse cx="836.2" cy="1171.6" rx="4.8" ry="4.99" fill="#238b45"/>
<ellipse cx="644.8" cy="1164.0" rx="4.8" ry="4.99" fill="#238b45"/>
<ellipse cx="694.4" cy="1162.8" rx="4.8" ry="4.99" fill="#238b45"/>
<ellipse cx="707.0" cy="1183.0" rx="4.8" ry="4.99" fill="#238b45"/>
<ellipse cx="881.9" cy="1176.9" rx="4.8" ry="4.99" fill="#238b45"/>
<ellipse cx="857.0" cy="1166.5" rx="4.8" ry="4.99" fill="#238b45"/>
<ellipse cx="814.5" cy="1169.0" rx="4.8" ry="4.99" fill="#238b45"/>
<ellipse cx="790.4" cy="1175.8" rx="4.8" ry="4.99" fill="#238b45"/>
<ellipse cx="746.8" cy="1166.2" rx="4.8" ry="4.99" fill="#238b45"/>
<ellipse cx="846.7" cy="1167.8" rx="4.8" ry="4.99" fill="#238b45"/>
<ellipse cx="687.4" cy="1257.5" rx="4.8" ry="4.99" fill="#74c476"/>
<ellipse cx="804.7" cy="1166.6" rx="4.8" ry="4.99" fill="#238b45"/>
<ellipse cx="945.2" cy="1170.9" rx="4.8" ry="4.99" fill="#238b45"/>
<ellipse cx="672.3" cy="1169.5" rx="4.8" ry="4.99" fill="#238b45"/>
<ellipse cx="643.4" cy="1164.3" rx="4.8" ry="4.99" fill="#238b45"/>
<ellipse cx="865.3" cy="1272.6" rx="4.8" ry="4.99" fill="#74c476"/>
<ellipse cx="776.1" cy="1172.1" rx="4.8" ry="4.99" fill="#238b45"/>
<ellipse cx="825.8" cy="1173.2" rx="4.8" ry="4.99" fill="#238b45"/>
<ellipse cx="792.4" cy="1331.3" rx="4.8" ry="4.99" fill="#74c476"/>
<ellipse cx="643.2" cy="1213.3" rx="4.8" ry="4.99" fill="#74c476"/>
<ellipse cx="642.7" cy="1170.2" rx="4.8" ry="4.99" fill="#238b45"/>
<ellipse cx="648.2" cy="1244.4" rx="4.8" ry="4.99" fill="#74c476"/>
<ellipse cx="623.1" cy="1202.3" rx="4.8" ry="4.99" fill="#74c476"/>
<ellipse cx="668.5" cy="1157.9" rx="4.8" ry="4.99" fill="#238b45"/>
<ellipse cx="952.7" cy="1158.3" rx="4.8" ry="4.99" fill="#238b45"/>
<ellipse cx="748.6" cy="1263.5" rx="4.8" ry="4.99" fill="#74c476"/>
<ellipse cx="734.4" cy="1175.1" rx="4.8" ry="4.99" fill="#238b45"/>
<ellipse cx="756.9" cy="1166.1" rx="4.8" ry="4.99" fill="#238b45"/>
<ellipse cx="951.6" cy="1169.8" rx="4.8" ry="4.99" fill="#238b45"/>
<ellipse cx="827.1" cy="1287.1" rx="4.8" ry="4.99" fill="#74c476"/>
<ellipse cx="703.5" cy="1162.8" rx="4.8" ry="4.99" fill="#238b45"/>
<ellipse cx="906.1" cy="1408.0" rx="4.8" ry="4.99" fill="#74c476"/>
<ellipse cx="830.2" cy="1267.5" rx="4.8" ry="4.99" fill="#74c476"/>
<ellipse cx="792.4" cy="1325.8" rx="4.8" ry="4.99" fill="#c7e9c0"/>
<ellipse cx="831.6" cy="1171.0" rx="4.8" ry="4.99" fill="#238b45"/>
<ellipse cx="832.6" cy="1296.7" rx="4.8" ry="4.99" fill="#c7e9c0"/>
<ellipse cx="857.9" cy="1172.0" rx="4.8" ry="4.99" fill="#238b45"/>
<ellipse cx="744.6" cy="1274.0" rx="4.8" ry="4.99" fill="#74c476"/>
<ellipse cx="763.5" cy="1173.4" rx="4.8" ry="4.99" fill="#238b45"/>
<ellipse cx="880.4" cy="1215.7" rx="4.8" ry="4.99" fill="#74c476"/>
<ellipse cx="814.5" cy="1164.3" rx="4.8" ry="4.99" fill="#238b45"/>
<ellipse cx="808.3" cy="1163.9" rx="4.8" ry="4.99" fill="#238b45"/>
<ellipse cx="833.1" cy="1171.1" rx="4.8" ry="4.99" fill="#238b45"/>
<ellipse cx="929.8" cy="1170.4" rx="4.8" ry="4.99" fill="#238b45"/>
<ellipse cx="624.1" cy="1260.5" rx="4.8" ry="4.99" fill="#74c476"/>
<ellipse cx="636.0" cy="1232.0" rx="4.8" ry="4.99" fill="#74c476"/>
<ellipse cx="749.6" cy="1163.0" rx="4.8" ry="4.99" fill="#238b45"/>
<ellipse cx="687.4" cy="1194.2" rx="4.8" ry="4.99" fill="#74c476"/>
<ellipse cx="957.5" cy="1169.4" rx="4.8" ry="4.99" fill="#238b45"/>
<ellipse cx="726.6" cy="1173.7" rx="4.8" ry="4.99" fill="#238b45"/>
<ellipse cx="826.0" cy="1169.8" rx="4.8" ry="4.99" fill="#238b45"/>
<ellipse cx="808.4" cy="1165.6" rx="4.8" ry="4.99" fill="#238b45"/>
<ellipse cx="694.5" cy="1170.7" rx="4.8" ry="4.99" fill="#238b45"/>
<ellipse cx="856.6" cy="1167.4" rx="4.8" ry="4.99" fill="#238b45"/>
<ellipse cx="726.2" cy="1158.0" rx="4.8" ry="4.99" fill="#238b45"/>
<ellipse cx="665.7" cy="1173.5" rx="4.8" ry="4.99" fill="#238b45"/>
<ellipse cx="812.1" cy="1317.2" rx="4.8" ry="4.99" fill="#74c476"/>
<ellipse cx="912.3" cy="1157.7" rx="4.8" ry="4.99" fill="#238b45"/>
<ellipse cx="841.5" cy="1173.9" rx="4.8" ry="4.99" fill="#238b45"/>
<ellipse cx="859.4" cy="1166.0" rx="4.8" ry="4.99" fill="#238b45"/>
<ellipse cx="748.0" cy="1294.1" rx="4.8" ry="4.99" fill="#c7e9c0"/>
<ellipse cx="738.0" cy="1173.5" rx="4.8" ry="4.99" fill="#238b45"/>
<ellipse cx="779.7" cy="1167.9" rx="4.8" ry="4.99" fill="#238b45"/>
<ellipse cx="875.3" cy="1160.0" rx="4.8" ry="4.99" fill="#238b45"/>
<ellipse cx="715.1" cy="1166.6" rx="4.8" ry="4.99" fill="#238b45"/>
<ellipse cx="936.8" cy="1169.8" rx="4.8" ry="4.99" fill="#238b45"/>
<ellipse cx="906.7" cy="1166.6" rx="4.8" ry="4.99" fill="#238b45"/>
<ellipse cx="663.3" cy="1209.3" rx="4.8" ry="4.99" fill="#74c476"/>
<ellipse cx="917.7" cy="1160.3" rx="4.8" ry="4.99" fill="#238b45"/>
<ellipse cx="736.6" cy="1257.5" rx="4.8" ry="4.99" fill="#74c476"/>
<ellipse cx="646.1" cy="1169.0" rx="4.8" ry="4.99" fill="#238b45"/>
<ellipse cx="618.1" cy="1249.5" rx="4.8" ry="4.99" fill="#74c476"/>
<ellipse cx="878.4" cy="1266.5" rx="4.8" ry="4.99" fill="#74c476"/>
<ellipse cx="928.6" cy="1351.3" rx="4.8" ry="4.99" fill="#74c476"/>
<ellipse cx="621.0" cy="1216.0" rx="4.8" ry="4.99" fill="#74c476"/>
<ellipse cx="749.7" cy="1158.3" rx="4.8" ry="4.99" fill="#238b45"/>
<ellipse cx="660.0" cy="1181.0" rx="4.8" ry="4.99" fill="#238b45"/>
<ellipse cx="626.1" cy="1245.4" rx="4.8" ry="4.99" fill="#74c476"/>
<ellipse cx="672.9" cy="1161.0" rx="4.8" ry="4.99" fill="#238b45"/>
<ellipse cx="868.5" cy="1160.1" rx="4.8" ry="4.99" fill="#238b45"/>
<ellipse cx="793.3" cy="1174.6" rx="4.8" ry="4.99" fill="#238b45"/>
<ellipse cx="775.0" cy="1183.0" rx="4.8" ry="4.99" fill="#238b45"/>
<ellipse cx="661.4" cy="1158.5" rx="4.8" ry="4.99" fill="#238b45"/>
<ellipse cx="936.1" cy="1168.1" rx="4.8" ry="4.99" fill="#238b45"/>
<ellipse cx="827.6" cy="1160.1" rx="4.8" ry="4.99" fill="#238b45"/>
<ellipse cx="617.9" cy="1162.3" rx="4.8" ry="4.99" fill="#238b45"/>
<ellipse cx="704.4" cy="1263.5" rx="4.8" ry="4.99" fill="#74c476"/>
<ellipse cx="751.1" cy="1175.2" rx="4.8" ry="4.99" fill="#238b45"/>
<ellipse cx="628.5" cy="1342.3" rx="4.8" ry="4.99" fill="#c7e9c0"/>
<ellipse cx="616.2" cy="1167.9" rx="4.8" ry="4.99" fill="#238b45"/>
<ellipse cx="771.7" cy="1236.4" rx="4.8" ry="4.99" fill="#74c476"/>
<ellipse cx="930.3" cy="1175.8" rx="4.8" ry="4.99" fill="#238b45"/>
<ellipse cx="757.4" cy="1160.3" rx="4.8" ry="4.99" fill="#238b45"/>
<ellipse cx="712.3" cy="1165.3" rx="4.8" ry="4.99" fill="#238b45"/>
<ellipse cx="922.5" cy="1297.1" rx="4.8" ry="4.99" fill="#74c476"/>
<ellipse cx="967.4" cy="1168.0" rx="4.8" ry="4.99" fill="#238b45"/>
<ellipse cx="648.3" cy="1161.2" rx="4.8" ry="4.99" fill="#238b45"/>
<ellipse cx="704.7" cy="1168.4" rx="4.8" ry="4.99" fill="#238b45"/>
<ellipse cx="753.4" cy="1161.6" rx="4.8" ry="4.99" fill="#238b45"/>
<ellipse cx="938.6" cy="1344.3" rx="4.8" ry="4.99" fill="#74c476"/>
<ellipse cx="781.8" cy="1159.9" rx="4.8" ry="4.99" fill="#238b45"/>
<ellipse cx="832.3" cy="1161.9" rx="4.8" ry="4.99" fill="#238b45"/>
<ellipse cx="768.7" cy="1294.1" rx="4.8" ry="4.99" fill="#74c476"/>
<ellipse cx="687.4" cy="1161.6" rx="4.8" ry="4.99" fill="#238b45"/>
<ellipse cx="784.8" cy="1325.2" rx="4.8" ry="4.99" fill="#74c476"/>
<ellipse cx="734.6" cy="1193.2" rx="4.8" ry="4.99" fill="#74c476"/>
<ellipse cx="874.1" cy="1165.4" rx="4.8" ry="4.99" fill="#238b45"/>
<ellipse cx="906.5" cy="1308.2" rx="4.8" ry="4.99" fill="#74c476"/>
<ellipse cx="738.6" cy="1266.0" rx="4.8" ry="4.99" fill="#74c476"/>
<ellipse cx="887.0" cy="1164.9" rx="4.8" ry="4.99" fill="#238b45"/>
<ellipse cx="654.2" cy="1224.4" rx="4.8" ry="4.99" fill="#74c476"/>
<ellipse cx="666.7" cy="1167.3" rx="4.8" ry="4.99" fill="#238b45"/>
<ellipse cx="818.6" cy="1167.0" rx="4.8" ry="4.99" fill="#238b45"/>
<ellipse cx="628.4" cy="1167.0" rx="4.8" ry="4.99" fill="#238b45"/>
<ellipse cx="632.1" cy="1175.9" rx="4.8" ry="4.99" fill="#238b45"/>
<ellipse cx="651.2" cy="1171.9" rx="4.8" ry="4.99" fill="#238b45"/>
<ellipse cx="887.8" cy="1159.5" rx="4.8" ry="4.99" fill="#238b45"/>
<ellipse cx="673.3" cy="1219.3" rx="4.8" ry="4.99" fill="#74c476"/>
<ellipse cx="906.7" cy="1165.5" rx="4.8" ry="4.99" fill="#238b45"/>
<ellipse cx="898.3" cy="1172.1" rx="4.8" ry="4.99" fill="#238b45"/>
<ellipse cx="697.6" cy="1174.9" rx="4.8" ry="4.99" fill="#238b45"/>
<ellipse cx="917.8" cy="1173.7" rx="4.8" ry="4.99" fill="#238b45"/>
<ellipse cx="706.8" cy="1175.5" rx="4.8" ry="4.99" fill="#238b45"/>
<ellipse cx="616.8" cy="1167.6" rx="4.8" ry="4.99" fill="#238b45"/>
<ellipse cx="866.9" cy="1169.5" rx="4.8" ry="4.99" fill="#238b45"/>
<ellipse cx="798.1" cy="1160.0" rx="4.8" ry="4.99" fill="#238b45"/>
<ellipse cx="957.0" cy="1172.8" rx="4.8" ry="4.99" fill="#238b45"/>
<ellipse cx="704.4" cy="1244.4" rx="4.8" ry="4.99" fill="#74c476"/>
<ellipse cx="670.1" cy="1165.1" rx="4.8" ry="4.99" fill="#238b45"/>
<ellipse cx="854.0" cy="1167.4" rx="4.8" ry="4.99" fill="#238b45"/>
<ellipse cx="944.7" cy="1175.7" rx="4.8" ry="4.99" fill="#238b45"/>
<ellipse cx="847.8" cy="1171.9" rx="4.8" ry="4.99" fill="#238b45"/>
<ellipse cx="870.3" cy="1326.2" rx="4.8" ry="4.99" fill="#74c476"/>
<ellipse cx="897.0" cy="1175.2" rx="4.8" ry="4.99" fill="#238b45"/>
<ellipse cx="705.3" cy="1162.4" rx="4.8" ry="4.99" fill="#238b45"/>
<ellipse cx="719.2" cy="1166.1" rx="4.8" ry="4.99" fill="#238b45"/>
<ellipse cx="744.7" cy="1176.2" rx="4.8" ry="4.99" fill="#238b45"/>
<ellipse cx="892.4" cy="1163.4" rx="4.8" ry="4.99" fill="#238b45"/>
<ellipse cx="638.4" cy="1162.8" rx="4.8" ry="4.99" fill="#238b45"/>
<ellipse cx="718.1" cy="1174.3" rx="4.8" ry="4.99" fill="#238b45"/>
<ellipse cx="654.6" cy="1163.5" rx="4.8" ry="4.99" fill="#238b45"/>
<ellipse cx="724.5" cy="1256.5" rx="4.8" ry="4.99" fill="#74c476"/>
<ellipse cx="678.0" cy="1225.0" rx="4.8" ry="4.99" fill="#74c476"/>
<ellipse cx="857.1" cy="1158.2" rx="4.8" ry="4.99" fill="#238b45"/>
<ellipse cx="960.0" cy="1159.0" rx="4.8" ry="4.99" fill="#238b45"/>
<ellipse cx="620.1" cy="1293.1" rx="4.8" ry="4.99" fill="#c7e9c0"/>
<ellipse cx="865.8" cy="1171.4" rx="4.8" ry="4.99" fill="#238b45"/>
<ellipse cx="875.5" cy="1167.1" rx="4.8" ry="4.99" fill="#238b45"/>
<ellipse cx="956.6" cy="1166.8" rx="4.8" ry="4.99" fill="#238b45"/>
<ellipse cx="889.4" cy="1175.7" rx="4.8" ry="4.99" fill="#238b45"/>
<ellipse cx="952.7" cy="1249.5" rx="4.8" ry="4.99" fill="#74c476"/>
<ellipse cx="916.0" cy="1173.3" rx="4.8" ry="4.99" fill="#238b45"/>
<ellipse cx="911.0" cy="1485.5" rx="4.8" ry="4.99" fill="#c7e9c0"/>
<ellipse cx="791.6" cy="1244.4" rx="4.8" ry="4.99" fill="#74c476"/>
<ellipse cx="717.5" cy="1270.0" rx="4.8" ry="4.99" fill="#74c476"/>
<ellipse cx="700.3" cy="1158.7" rx="4.8" ry="4.99" fill="#238b45"/>
<ellipse cx="914.5" cy="1335.3" rx="4.8" ry="4.99" fill="#74c476"/>
<ellipse cx="746.6" cy="1158.2" rx="4.8" ry="4.99" fill="#238b45"/>
<ellipse cx="856.5" cy="1165.6" rx="4.8" ry="4.99" fill="#238b45"/>
<ellipse cx="634.0" cy="1219.0" rx="4.8" ry="4.99" fill="#74c476"/>
<ellipse cx="879.3" cy="1419.9" rx="4.8" ry="4.99" fill="#c7e9c0"/>
<ellipse cx="800.9" cy="1172.2" rx="4.8" ry="4.99" fill="#238b45"/>
<ellipse cx="636.2" cy="1221.3" rx="4.8" ry="4.99" fill="#74c476"/>
<ellipse cx="836.5" cy="1419.9" rx="4.8" ry="4.99" fill="#c7e9c0"/>
<ellipse cx="956.3" cy="1168.7" rx="4.8" ry="4.99" fill="#238b45"/>
<ellipse cx="718.1" cy="1215.3" rx="4.8" ry="4.99" fill="#74c476"/>
<ellipse cx="891.4" cy="1342.3" rx="4.8" ry="4.99" fill="#74c476"/>
<ellipse cx="694.4" cy="1279.1" rx="4.8" ry="4.99" fill="#74c476"/>
<ellipse cx="878.4" cy="1290.7" rx="4.8" ry="4.99" fill="#74c476"/>
<ellipse cx="852.2" cy="1336.3" rx="4.8" ry="4.99" fill="#74c476"/>
<ellipse cx="647.4" cy="1173.9" rx="4.8" ry="4.99" fill="#238b45"/>
<ellipse cx="908.5" cy="1331.3" rx="4.8" ry="4.99" fill="#74c476"/>
<ellipse cx="950.6" cy="1284.1" rx="4.8" ry="4.99" fill="#74c476"/>
<ellipse cx="674.3" cy="1255.5" rx="4.8" ry="4.99" fill="#74c476"/>
<ellipse cx="640.2" cy="1203.3" rx="4.8" ry="4.99" fill="#74c476"/>
<ellipse cx="807.1" cy="1284.1" rx="4.8" ry="4.99" fill="#74c476"/>
<ellipse cx="668.3" cy="1226.4" rx="4.8" ry="4.99" fill="#74c476"/>
<ellipse cx="834.3" cy="1163.9" rx="4.8" ry="4.99" fill="#238b45"/>
<ellipse cx="831.8" cy="1173.6" rx="4.8" ry="4.99" fill="#238b45"/>
<ellipse cx="763.4" cy="1163.5" rx="4.8" ry="4.99" fill="#238b45"/>
<ellipse cx="612.8" cy="1168.7" rx="4.8" ry="4.99" fill="#238b45"/>
<ellipse cx="764.0" cy="1176.0" rx="4.8" ry="4.99" fill="#238b45"/>
<ellipse cx="856.3" cy="1245.8" rx="4.8" ry="4.99" fill="#74c476"/>
<ellipse cx="802.3" cy="1164.9" rx="4.8" ry="4.99" fill="#238b45"/>
<ellipse cx="812.1" cy="1180.2" rx="4.8" ry="4.99" fill="#74c476"/>
<ellipse cx="769.5" cy="1162.7" rx="4.8" ry="4.99" fill="#238b45"/>
<ellipse cx="656.0" cy="1172.0" rx="4.8" ry="4.99" fill="#238b45"/>
<ellipse cx="779.5" cy="1164.7" rx="4.8" ry="4.99" fill="#238b45"/>
<ellipse cx="924.1" cy="1219.3" rx="4.8" ry="4.99" fill="#74c476"/>
<ellipse cx="682.1" cy="1159.4" rx="4.8" ry="4.99" fill="#238b45"/>
<ellipse cx="789.4" cy="1161.5" rx="4.8" ry="4.99" fill="#238b45"/>
<ellipse cx="644.2" cy="1261.5" rx="4.8" ry="4.99" fill="#74c476"/>
<ellipse cx="930.6" cy="1288.1" rx="4.8" ry="4.99" fill="#74c476"/>
<ellipse cx="939.8" cy="1160.2" rx="4.8" ry="4.99" fill="#238b45"/>
<ellipse cx="836.5" cy="1172.2" rx="4.8" ry="4.99" fill="#238b45"/>
<ellipse cx="681.1" cy="1167.6" rx="4.8" ry="4.99" fill="#238b45"/>
<ellipse cx="781.3" cy="1174.4" rx="4.8" ry="4.99" fill="#238b45"/>
<ellipse cx="644.1" cy="1162.7" rx="4.8" ry="4.99" fill="#238b45"/>
<ellipse cx="688.4" cy="1247.4" rx="4.8" ry="4.99" fill="#74c476"/>
<ellipse cx="713.1" cy="1166.7" rx="4.8" ry="4.99" fill="#238b45"/>
<ellipse cx="702.7" cy="1167.0" rx="4.8" ry="4.99" fill="#238b45"/>
<ellipse cx="763.7" cy="1162.6" rx="4.8" ry="4.99" fill="#238b45"/>
<ellipse cx="750.8" cy="1164.9" rx="4.8" ry="4.99" fill="#238b45"/>
<ellipse cx="927.5" cy="1165.8" rx="4.8" ry="4.99" fill="#238b45"/>
<ellipse cx="967.2" cy="1167.6" rx="4.8" ry="4.99" fill="#238b45"/>
<ellipse cx="790.8" cy="1331.3" rx="4.8" ry="4.99" fill="#74c476"/>
<ellipse cx="619.1" cy="1301.1" rx="4.8" ry="4.99" fill="#74c476"/>
<ellipse cx="877.0" cy="1173.0" rx="4.8" ry="4.99" fill="#238b45"/>
<ellipse cx="789.9" cy="1168.3" rx="4.8" ry="4.99" fill="#238b45"/>
<ellipse cx="781.8" cy="1175.5" rx="4.8" ry="4.99" fill="#238b45"/>
<ellipse cx="968.0" cy="1163.1" rx="4.8" ry="4.99" fill="#238b45"/>
<ellipse cx="787.7" cy="1171.4" rx="4.8" ry="4.99" fill="#238b45"/>
<ellipse cx="770.7" cy="1271.0" rx="4.8" ry="4.99" fill="#74c476"/>
<ellipse cx="711.1" cy="1369.4" rx="4.8" ry="4.99" fill="#c7e9c0"/>
<ellipse cx="633.5" cy="1159.2" rx="4.8" ry="4.99" fill="#238b45"/>
<ellipse cx="703.9" cy="1169.3" rx="4.8" ry="4.99" fill="#238b45"/>
<ellipse cx="664.8" cy="1166.7" rx="4.8" ry="4.99" fill="#238b45"/>
<ellipse cx="645.4" cy="1158.8" rx="4.8" ry="4.99" fill="#238b45"/>
<ellipse cx="949.5" cy="1158.1" rx="4.8" ry="4.99" fill="#238b45"/>
<ellipse cx="690.9" cy="1170.5" rx="4.8" ry="4.99" fill="#238b45"/>
<ellipse cx="848.2" cy="1253.5" rx="4.8" ry="4.99" fill="#74c476"/>
<ellipse cx="692.4" cy="1184.2" rx="4.8" ry="4.99" fill="#74c476"/>
<ellipse cx="634.9" cy="1167.4" rx="4.8" ry="4.99" fill="#238b45"/>
<ellipse cx="880.2" cy="1167.7" rx="4.8" ry="4.99" fill="#238b45"/>
<ellipse cx="713.5" cy="1292.5" rx="4.8" ry="4.99" fill="#74c476"/>
<ellipse cx="752.3" cy="1159.9" rx="4.8" ry="4.99" fill="#238b45"/>
<ellipse cx="923.5" cy="1364.4" rx="4.8" ry="4.99" fill="#74c476"/>
<ellipse cx="722.1" cy="1163.2" rx="4.8" ry="4.99" fill="#238b45"/>
<ellipse cx="865.3" cy="1183.2" rx="4.8" ry="4.99" fill="#238b45"/>
<ellipse cx="657.0" cy="1227.0" rx="4.8" ry="4.99" fill="#74c476"/>
<ellipse cx="639.3" cy="1159.6" rx="4.8" ry="4.99" fill="#238b45"/>
<ellipse cx="779.8" cy="1159.5" rx="4.8" ry="4.99" fill="#238b45"/>
<ellipse cx="635.8" cy="1164.0" rx="4.8" ry="4.99" fill="#238b45"/>
<ellipse cx="628.4" cy="1161.8" rx="4.8" ry="4.99" fill="#238b45"/>
<ellipse cx="792.4" cy="1355.8" rx="4.8" ry="4.99" fill="#74c476"/>
<ellipse cx="754.6" cy="1271.0" rx="4.8" ry="4.99" fill="#74c476"/>
<ellipse cx="795.8" cy="1197.2" rx="4.8" ry="4.99" fill="#74c476"/>
<ellipse cx="684.0" cy="1296.1" rx="4.8" ry="4.99" fill="#74c476"/>
<ellipse cx="660.3" cy="1161.4" rx="4.8" ry="4.99" fill="#238b45"/>
<ellipse cx="811.1" cy="1306.8" rx="4.8" ry="4.99" fill="#74c476"/>
<ellipse cx="884.8" cy="1248.5" rx="4.8" ry="4.99" fill="#74c476"/>
<ellipse cx="632.1" cy="1170.7" rx="4.8" ry="4.99" fill="#238b45"/>
<ellipse cx="631.1" cy="1216.3" rx="4.8" ry="4.99" fill="#74c476"/>
<ellipse cx="898.8" cy="1368.4" rx="4.8" ry="4.99" fill="#74c476"/>
<ellipse cx="775.6" cy="1166.5" rx="4.8" ry="4.99" fill="#238b45"/>
<ellipse cx="759.0" cy="1163.8" rx="4.8" ry="4.99" fill="#238b45"/>
<ellipse cx="889.2" cy="1163.9" rx="4.8" ry="4.99" fill="#238b45"/>
<ellipse cx="771.5" cy="1160.4" rx="4.8" ry="4.99" fill="#238b45"/>
<ellipse cx="830.2" cy="1268.0" rx="4.8" ry="4.99" fill="#74c476"/>
<ellipse cx="780.7" cy="1249.5" rx="4.8" ry="4.99" fill="#74c476"/>
<ellipse cx="647.5" cy="1171.1" rx="4.8" ry="4.99" fill="#238b45"/>
<ellipse cx="633.9" cy="1172.3" rx="4.8" ry="4.99" fill="#238b45"/>
<ellipse cx="649.8" cy="1157.6" rx="4.8" ry="4.99" fill="#238b45"/>
<ellipse cx="916.1" cy="1414.6" rx="4.8" ry="4.99" fill="#c7e9c0"/>
<ellipse cx="825.3" cy="1168.4" rx="4.8" ry="4.99" fill="#238b45"/>
<ellipse cx="776.7" cy="1251.5" rx="4.8" ry="4.99" fill="#74c476"/>
<ellipse cx="877.2" cy="1160.9" rx="4.8" ry="4.99" fill="#238b45"/>
<ellipse cx="711.5" cy="1261.5" rx="4.8" ry="4.99" fill="#74c476"/>
<ellipse cx="864.3" cy="1161.7" rx="4.8" ry="4.99" fill="#238b45"/>
<ellipse cx="676.3" cy="1235.4" rx="4.8" ry="4.99" fill="#74c476"/>
<ellipse cx="900.4" cy="1265.1" rx="4.8" ry="4.99" fill="#74c476"/>
<ellipse cx="923.5" cy="1350.3" rx="4.8" ry="4.99" fill="#74c476"/>
<ellipse cx="723.5" cy="1193.2" rx="4.8" ry="4.99" fill="#74c476"/>
<ellipse cx="903.9" cy="1157.6" rx="4.8" ry="4.99" fill="#238b45"/>
<ellipse cx="696.0" cy="1208.3" rx="4.8" ry="4.99" fill="#74c476"/>
<ellipse cx="920.2" cy="1170.8" rx="4.8" ry="4.99" fill="#238b45"/>
<ellipse cx="816.6" cy="1174.5" rx="4.8" ry="4.99" fill="#238b45"/>
<ellipse cx="642.4" cy="1163.5" rx="4.8" ry="4.99" fill="#238b45"/>
<ellipse cx="751.9" cy="1169.4" rx="4.8" ry="4.99" fill="#238b45"/>
<ellipse cx="659.9" cy="1273.6" rx="4.8" ry="4.99" fill="#74c476"/>
<ellipse cx="844.1" cy="1160.0" rx="4.8" ry="4.99" fill="#238b45"/>
<ellipse cx="687.0" cy="1345.7" rx="4.8" ry="4.99" fill="#74c476"/>
<ellipse cx="934.4" cy="1174.6" rx="4.8" ry="4.99" fill="#238b45"/>
<ellipse cx="961.7" cy="1324.2" rx="4.8" ry="4.99" fill="#74c476"/>
<ellipse cx="760.7" cy="1269.5" rx="4.8" ry="4.99" fill="#74c476"/>
<ellipse cx="676.0" cy="1232.0" rx="4.8" ry="4.99" fill="#74c476"/>
<ellipse cx="956.6" cy="1175.9" rx="4.8" ry="4.99" fill="#238b45"/>
<ellipse cx="898.6" cy="1160.5" rx="4.8" ry="4.99" fill="#238b45"/>
<ellipse cx="734.0" cy="1346.3" rx="4.8" ry="4.99" fill="#74c476"/>
<ellipse cx="635.5" cy="1159.6" rx="4.8" ry="4.99" fill="#238b45"/>
<ellipse cx="861.7" cy="1167.2" rx="4.8" ry="4.99" fill="#238b45"/>
<ellipse cx="651.2" cy="1204.9" rx="4.8" ry="4.99" fill="#74c476"/>
<ellipse cx="634.1" cy="1166.7" rx="4.8" ry="4.99" fill="#238b45"/>
<ellipse cx="800.0" cy="1180.2" rx="4.8" ry="4.99" fill="#74c476"/>
<ellipse cx="865.7" cy="1158.6" rx="4.8" ry="4.99" fill="#238b45"/>
<ellipse cx="780.9" cy="1162.2" rx="4.8" ry="4.99" fill="#238b45"/>
<ellipse cx="805.5" cy="1159.1" rx="4.8" ry="4.99" fill="#238b45"/>
<ellipse cx="912.2" cy="1163.7" rx="4.8" ry="4.99" fill="#238b45"/>
<ellipse cx="619.1" cy="1240.4" rx="4.8" ry="4.99" fill="#74c476"/>
<ellipse cx="830.7" cy="1174.8" rx="4.8" ry="4.99" fill="#238b45"/>
<ellipse cx="635.2" cy="1268.5" rx="4.8" ry="4.99" fill="#74c476"/>
<ellipse cx="752.5" cy="1173.8" rx="4.8" ry="4.99" fill="#238b45"/>
<ellipse cx="933.6" cy="1157.5" rx="4.8" ry="4.99" fill="#238b45"/>
<ellipse cx="779.7" cy="1271.0" rx="4.8" ry="4.99" fill="#74c476"/>
<ellipse cx="955.7" cy="1170.6" rx="4.8" ry="4.99" fill="#238b45"/>
<ellipse cx="964.1" cy="1169.3" rx="4.8" ry="4.99" fill="#238b45"/>
<ellipse cx="743.6" cy="1284.1" rx="4.8" ry="4.99" fill="#74c476"/>
<ellipse cx="836.6" cy="1417.6" rx="4.8" ry="4.99" fill="#c7e9c0"/>
<ellipse cx="778.7" cy="1173.0" rx="4.8" ry="4.99" fill="#238b45"/>
<ellipse cx="838.2" cy="1315.2" rx="4.8" ry="4.99" fill="#74c476"/>
<ellipse cx="933.7" cy="1163.2" rx="4.8" ry="4.99" fill="#238b45"/>
<ellipse cx="747.3" cy="1165.7" rx="4.8" ry="4.99" fill="#238b45"/>
<ellipse cx="925.1" cy="1235.4" rx="4.8" ry="4.99" fill="#74c476"/>
<ellipse cx="665.9" cy="1169.1" rx="4.8" ry="4.99" fill="#238b45"/>
<ellipse cx="887.7" cy="1167.8" rx="4.8" ry="4.99" fill="#238b45"/>
<ellipse cx="780.5" cy="1162.9" rx="4.8" ry="4.99" fill="#238b45"/>
<ellipse cx="715.4" cy="1169.2" rx="4.8" ry="4.99" fill="#238b45"/>
<ellipse cx="732.1" cy="1172.1" rx="4.8" ry="4.99" fill="#238b45"/>
<ellipse cx="726.0" cy="1159.1" rx="4.8" ry="4.99" fill="#238b45"/>
<ellipse cx="742.1" cy="1172.4" rx="4.8" ry="4.99" fill="#238b45"/>
<ellipse cx="932.1" cy="1166.6" rx="4.8" ry="4.99" fill="#238b45"/>
<ellipse cx="712.4" cy="1172.3" rx="4.8" ry="4.99" fill="#238b45"/>
<ellipse cx="810.6" cy="1173.3" rx="4.8" ry="4.99" fill="#238b45"/>
<ellipse cx="804.7" cy="1343.7" rx="4.8" ry="4.99" fill="#74c476"/>
<ellipse cx="766.7" cy="1244.4" rx="4.8" ry="4.99" fill="#74c476"/>
<ellipse cx="613.1" cy="1265.5" rx="4.8" ry="4.99" fill="#c7e9c0"/>
<ellipse cx="745.0" cy="1160.2" rx="4.8" ry="4.99" fill="#238b45"/>
<ellipse cx="892.9" cy="1168.5" rx="4.8" ry="4.99" fill="#238b45"/>
<ellipse cx="783.4" cy="1170.9" rx="4.8" ry="4.99" fill="#238b45"/>
<ellipse cx="914.5" cy="1347.3" rx="4.8" ry="4.99" fill="#74c476"/>
<ellipse cx="932.0" cy="1199.7" rx="4.8" ry="4.99" fill="#238b45"/>
<ellipse cx="749.4" cy="1169.5" rx="4.8" ry="4.99" fill="#238b45"/>
<ellipse cx="809.5" cy="1266.5" rx="4.8" ry="4.99" fill="#74c476"/>
<ellipse cx="865.3" cy="1279.5" rx="4.8" ry="4.99" fill="#74c476"/>
<ellipse cx="805.1" cy="1173.8" rx="4.8" ry="4.99" fill="#238b45"/>
<ellipse cx="896.7" cy="1172.2" rx="4.8" ry="4.99" fill="#238b45"/>
<ellipse cx="864.3" cy="1261.5" rx="4.8" ry="4.99" fill="#74c476"/>
<ellipse cx="648.9" cy="1176.5" rx="4.8" ry="4.99" fill="#238b45"/>
<ellipse cx="623.8" cy="1168.5" rx="4.8" ry="4.99" fill="#238b45"/>
<ellipse cx="683.9" cy="1162.9" rx="4.8" ry="4.99" fill="#238b45"/>
<ellipse cx="641.2" cy="1244.4" rx="4.8" ry="4.99" fill="#74c476"/>
<ellipse cx="634.2" cy="1280.1" rx="4.8" ry="4.99" fill="#c7e9c0"/>
<ellipse cx="642.2" cy="1233.4" rx="4.8" ry="4.99" fill="#74c476"/>
<ellipse cx="901.0" cy="1166.6" rx="4.8" ry="4.99" fill="#238b45"/>
<ellipse cx="852.1" cy="1171.2" rx="4.8" ry="4.99" fill="#238b45"/>
<ellipse cx="653.2" cy="1251.5" rx="4.8" ry="4.99" fill="#74c476"/>
<ellipse cx="691.6" cy="1169.6" rx="4.8" ry="4.99" fill="#238b45"/>
<ellipse cx="617.2" cy="1172.3" rx="4.8" ry="4.99" fill="#238b45"/>
<ellipse cx="672.3" cy="1350.3" rx="4.8" ry="4.99" fill="#c7e9c0"/>
<ellipse cx="652.0" cy="1230.0" rx="4.8" ry="4.99" fill="#74c476"/>
<ellipse cx="931.2" cy="1380.9" rx="4.8" ry="4.99" fill="#74c476"/>
<ellipse cx="836.6" cy="1227.4" rx="4.8" ry="4.99" fill="#74c476"/>
<ellipse cx="909.2" cy="1174.9" rx="4.8" ry="4.99" fill="#238b45"/>
<ellipse cx="715.7" cy="1157.6" rx="4.8" ry="4.99" fill="#238b45"/>
<ellipse cx="771.6" cy="1163.1" rx="4.8" ry="4.99" fill="#238b45"/>
<ellipse cx="646.9" cy="1158.1" rx="4.8" ry="4.99" fill="#238b45"/>
<ellipse cx="644.3" cy="1166.0" rx="4.8" ry="4.99" fill="#238b45"/>
<ellipse cx="668.0" cy="1228.0" rx="4.8" ry="4.99" fill="#74c476"/>
<ellipse cx="818.1" cy="1312.2" rx="4.8" ry="4.99" fill="#74c476"/>
<ellipse cx="779.7" cy="1174.8" rx="4.8" ry="4.99" fill="#238b45"/>
<ellipse cx="746.6" cy="1246.4" rx="4.8" ry="4.99" fill="#74c476"/>
<ellipse cx="872.3" cy="1306.2" rx="4.8" ry="4.99" fill="#74c476"/>
<ellipse cx="937.8" cy="1168.8" rx="4.8" ry="4.99" fill="#238b45"/>
<ellipse cx="948.9" cy="1158.5" rx="4.8" ry="4.99" fill="#238b45"/>
<ellipse cx="895.4" cy="1334.3" rx="4.8" ry="4.99" fill="#74c476"/>
<ellipse cx="625.8" cy="1164.8" rx="4.8" ry="4.99" fill="#238b45"/>
<ellipse cx="660.3" cy="1275.0" rx="4.8" ry="4.99" fill="#74c476"/>
<ellipse cx="763.2" cy="1165.4" rx="4.8" ry="4.99" fill="#238b45"/>
<ellipse cx="696.4" cy="1251.5" rx="4.8" ry="4.99" fill="#74c476"/>
<ellipse cx="634.0" cy="1180.5" rx="4.8" ry="4.99" fill="#238b45"/>
<ellipse cx="929.8" cy="1171.1" rx="4.8" ry="4.99" fill="#238b45"/>
<ellipse cx="694.4" cy="1266.0" rx="4.8" ry="4.99" fill="#74c476"/>
<ellipse cx="809.1" cy="1267.4" rx="4.8" ry="4.99" fill="#74c476"/>
<ellipse cx="642.2" cy="1185.2" rx="4.8" ry="4.99" fill="#74c476"/>
<ellipse cx="902.6" cy="1167.6" rx="4.8" ry="4.99" fill="#238b45"/>
<ellipse cx="680.0" cy="1246.0" rx="4.8" ry="4.99" fill="#74c476"/>
<ellipse cx="772.0" cy="1169.6" rx="4.8" ry="4.99" fill="#238b45"/>
<ellipse cx="745.4" cy="1172.4" rx="4.8" ry="4.99" fill="#238b45"/>
<ellipse cx="869.5" cy="1164.6" rx="4.8" ry="4.99" fill="#238b45"/>
<ellipse cx="795.0" cy="1211.9" rx="4.8" ry="4.99" fill="#74c476"/>
<ellipse cx="849.2" cy="1162.1" rx="4.8" ry="4.99" fill="#238b45"/>
<ellipse cx="941.8" cy="1162.5" rx="4.8" ry="4.99" fill="#238b45"/>
<ellipse cx="908.2" cy="1159.3" rx="4.8" ry="4.99" fill="#238b45"/>
<ellipse cx="833.5" cy="1160.2" rx="4.8" ry="4.99" fill="#238b45"/>
<ellipse cx="761.1" cy="1335.7" rx="4.8" ry="4.99" fill="#74c476"/>
<ellipse cx="799.7" cy="1471.0" rx="4.8" ry="4.99" fill="#c7e9c0"/>
<ellipse cx="739.6" cy="1199.3" rx="4.8" ry="4.99" fill="#74c476"/>
<ellipse cx="745.4" cy="1167.6" rx="4.8" ry="4.99" fill="#238b45"/>
<ellipse cx="697.6" cy="1169.3" rx="4.8" ry="4.99" fill="#238b45"/>
<ellipse cx="791.4" cy="1171.8" rx="4.8" ry="4.99" fill="#238b45"/>
<ellipse cx="905.6" cy="1175.1" rx="4.8" ry="4.99" fill="#238b45"/>
<ellipse cx="825.8" cy="1162.0" rx="4.8" ry="4.99" fill="#238b45"/>
<ellipse cx="716.8" cy="1170.3" rx="4.8" ry="4.99" fill="#238b45"/>
<ellipse cx="700.4" cy="1302.8" rx="4.8" ry="4.99" fill="#74c476"/>
<ellipse cx="961.3" cy="1364.8" rx="4.8" ry="4.99" fill="#74c476"/>
<ellipse cx="907.4" cy="1160.2" rx="4.8" ry="4.99" fill="#238b45"/>
<ellipse cx="653.6" cy="1163.4" rx="4.8" ry="4.99" fill="#238b45"/>
<ellipse cx="869.0" cy="1175.7" rx="4.8" ry="4.99" fill="#238b45"/>
<ellipse cx="706.8" cy="1168.0" rx="4.8" ry="4.99" fill="#238b45"/>
<ellipse cx="663.2" cy="1159.7" rx="4.8" ry="4.99" fill="#238b45"/>
<ellipse cx="684.4" cy="1158.0" rx="4.8" ry="4.99" fill="#238b45"/>
<ellipse cx="691.6" cy="1164.1" rx="4.8" ry="4.99" fill="#238b45"/>
<ellipse cx="817.3" cy="1468.3" rx="4.8" ry="4.99" fill="#c7e9c0"/>
<ellipse cx="688.0" cy="1312.2" rx="4.8" ry="4.99" fill="#c7e9c0"/>
<ellipse cx="616.7" cy="1161.6" rx="4.8" ry="4.99" fill="#238b45"/>
<ellipse cx="672.1" cy="1162.2" rx="4.8" ry="4.99" fill="#238b45"/>
<ellipse cx="629.1" cy="1255.5" rx="4.8" ry="4.99" fill="#74c476"/>
<ellipse cx="784.3" cy="1159.7" rx="4.8" ry="4.99" fill="#238b45"/>
<ellipse cx="694.4" cy="1223.4" rx="4.8" ry="4.99" fill="#74c476"/>
<ellipse cx="695.0" cy="1169.2" rx="4.8" ry="4.99" fill="#238b45"/>
<ellipse cx="640.0" cy="1215.0" rx="4.8" ry="4.99" fill="#74c476"/>
<ellipse cx="753.6" cy="1217.3" rx="4.8" ry="4.99" fill="#74c476"/>
<ellipse cx="729.9" cy="1162.3" rx="4.8" ry="4.99" fill="#238b45"/>
<ellipse cx="795.0" cy="1274.0" rx="4.8" ry="4.99" fill="#74c476"/>
<ellipse cx="641.2" cy="1373.4" rx="4.8" ry="4.99" fill="#c7e9c0"/>
<ellipse cx="622.1" cy="1214.3" rx="4.8" ry="4.99" fill="#74c476"/>
<ellipse cx="768.3" cy="1165.9" rx="4.8" ry="4.99" fill="#238b45"/>
<ellipse cx="648.2" cy="1228.4" rx="4.8" ry="4.99" fill="#74c476"/>
<ellipse cx="738.6" cy="1211.3" rx="4.8" ry="4.99" fill="#74c476"/>
<ellipse cx="828.1" cy="1166.8" rx="4.8" ry="4.99" fill="#238b45"/>
<ellipse cx="660.3" cy="1175.5" rx="4.8" ry="4.99" fill="#238b45"/>
<ellipse cx="743.8" cy="1165.9" rx="4.8" ry="4.99" fill="#238b45"/>
<ellipse cx="794.1" cy="1174.8" rx="4.8" ry="4.99" fill="#238b45"/>
<ellipse cx="750.3" cy="1169.6" rx="4.8" ry="4.99" fill="#238b45"/>
<ellipse cx="778.7" cy="1410.0" rx="4.8" ry="4.99" fill="#74c476"/>
<ellipse cx="733.0" cy="1391.1" rx="4.8" ry="4.99" fill="#c7e9c0"/>
<ellipse cx="954.7" cy="1311.2" rx="4.8" ry="4.99" fill="#74c476"/>
<ellipse cx="634.2" cy="1192.2" rx="4.8" ry="4.99" fill="#74c476"/>
<ellipse cx="939.0" cy="1232.4" rx="4.8" ry="4.99" fill="#74c476"/>
<ellipse cx="624.0" cy="1224.0" rx="4.8" ry="4.99" fill="#74c476"/>
<ellipse cx="955.9" cy="1459.0" rx="4.8" ry="4.99" fill="#c7e9c0"/>
<ellipse cx="726.0" cy="1182.0" rx="4.8" ry="4.99" fill="#238b45"/>
<ellipse cx="665.6" cy="1163.5" rx="4.8" ry="4.99" fill="#238b45"/>
<ellipse cx="832.8" cy="1391.5" rx="4.8" ry="4.99" fill="#74c476"/>
<ellipse cx="662.0" cy="1224.0" rx="4.8" ry="4.99" fill="#74c476"/>
<ellipse cx="743.1" cy="1175.3" rx="4.8" ry="4.99" fill="#238b45"/>
<ellipse cx="740.6" cy="1243.4" rx="4.8" ry="4.99" fill="#74c476"/>
<ellipse cx="857.6" cy="1163.2" rx="4.8" ry="4.99" fill="#238b45"/>
<ellipse cx="629.7" cy="1175.7" rx="4.8" ry="4.99" fill="#238b45"/>
<ellipse cx="728.9" cy="1289.1" rx="4.8" ry="4.99" fill="#74c476"/>
<ellipse cx="696.7" cy="1171.1" rx="4.8" ry="4.99" fill="#238b45"/>
<ellipse cx="779.6" cy="1159.4" rx="4.8" ry="4.99" fill="#238b45"/>
<ellipse cx="954.7" cy="1175.6" rx="4.8" ry="4.99" fill="#238b45"/>
<ellipse cx="835.0" cy="1173.6" rx="4.8" ry="4.99" fill="#238b45"/>
<ellipse cx="936.7" cy="1166.3" rx="4.8" ry="4.99" fill="#238b45"/>
<ellipse cx="801.0" cy="1334.3" rx="4.8" ry="4.99" fill="#74c476"/>
<ellipse cx="883.5" cy="1161.8" rx="4.8" ry="4.99" fill="#238b45"/>
<ellipse cx="786.8" cy="1256.5" rx="4.8" ry="4.99" fill="#74c476"/>
<ellipse cx="951.7" cy="1163.4" rx="4.8" ry="4.99" fill="#238b45"/>
<ellipse cx="953.2" cy="1166.5" rx="4.8" ry="4.99" fill="#238b45"/>
<ellipse cx="685.4" cy="1223.4" rx="4.8" ry="4.99" fill="#74c476"/>
<ellipse cx="778.7" cy="1405.6" rx="4.8" ry="4.99" fill="#74c476"/>
<ellipse cx="666.2" cy="1159.4" rx="4.8" ry="4.99" fill="#238b45"/>
<ellipse cx="844.5" cy="1165.7" rx="4.8" ry="4.99" fill="#238b45"/>
<ellipse cx="915.1" cy="1161.7" rx="4.8" ry="4.99" fill="#238b45"/>
<ellipse cx="969.7" cy="1295.1" rx="4.8" ry="4.99" fill="#74c476"/>
<ellipse cx="682.8" cy="1157.9" rx="4.8" ry="4.99" fill="#238b45"/>
<ellipse cx="871.2" cy="1166.3" rx="4.8" ry="4.99" fill="#238b45"/>
<ellipse cx="728.4" cy="1175.4" rx="4.8" ry="4.99" fill="#238b45"/>
<ellipse cx="832.6" cy="1301.1" rx="4.8" ry="4.99" fill="#74c476"/>
<ellipse cx="809.4" cy="1176.3" rx="4.8" ry="4.99" fill="#238b45"/>
<ellipse cx="948.2" cy="1511.8" rx="4.8" ry="4.99" fill="#c7e9c0"/>
<ellipse cx="682.0" cy="1161.7" rx="4.8" ry="4.99" fill="#238b45"/>
<ellipse cx="875.3" cy="1230.0" rx="4.8" ry="4.99" fill="#74c476"/>
<ellipse cx="947.6" cy="1217.3" rx="4.8" ry="4.99" fill="#74c476"/>
<ellipse cx="835.2" cy="1277.0" rx="4.8" ry="4.99" fill="#74c476"/>
<ellipse cx="928.2" cy="1160.1" rx="4.8" ry="4.99" fill="#238b45"/>
<ellipse cx="960.2" cy="1427.6" rx="4.8" ry="4.99" fill="#74c476"/>
<ellipse cx="708.0" cy="1171.8" rx="4.8" ry="4.99" fill="#238b45"/>
<ellipse cx="755.6" cy="1315.6" rx="4.8" ry="4.99" fill="#c7e9c0"/>
<ellipse cx="730.9" cy="1157.7" rx="4.8" ry="4.99" fill="#238b45"/>
<ellipse cx="851.2" cy="1169.7" rx="4.8" ry="4.99" fill="#238b45"/>
<ellipse cx="942.0" cy="1335.3" rx="4.8" ry="4.99" fill="#74c476"/>
<ellipse cx="622.6" cy="1159.8" rx="4.8" ry="4.99" fill="#238b45"/>
<ellipse cx="942.0" cy="1281.5" rx="4.8" ry="4.99" fill="#238b45"/>
<ellipse cx="613.1" cy="1267.0" rx="4.8" ry="4.99" fill="#c7e9c0"/>
<ellipse cx="719.5" cy="1172.9" rx="4.8" ry="4.99" fill="#238b45"/>
<ellipse cx="724.4" cy="1162.8" rx="4.8" ry="4.99" fill="#238b45"/>
<ellipse cx="614.0" cy="1163.2" rx="4.8" ry="4.99" fill="#238b45"/>
<ellipse cx="738.6" cy="1170.7" rx="4.8" ry="4.99" fill="#238b45"/>
<ellipse cx="791.8" cy="1263.5" rx="4.8" ry="4.99" fill="#74c476"/>
<ellipse cx="839.2" cy="1348.3" rx="4.8" ry="4.99" fill="#74c476"/>
<ellipse cx="905.9" cy="1163.7" rx="4.8" ry="4.99" fill="#238b45"/>
<ellipse cx="671.8" cy="1173.4" rx="4.8" ry="4.99" fill="#238b45"/>
<ellipse cx="739.5" cy="1162.2" rx="4.8" ry="4.99" fill="#238b45"/>
<ellipse cx="889.4" cy="1326.2" rx="4.8" ry="4.99" fill="#74c476"/>
<ellipse cx="744.2" cy="1427.7" rx="4.8" ry="4.99" fill="#74c476"/>
<ellipse cx="725.8" cy="1176.1" rx="4.8" ry="4.99" fill="#238b45"/>
<ellipse cx="750.6" cy="1228.4" rx="4.8" ry="4.99" fill="#74c476"/>
<ellipse cx="776.7" cy="1357.0" rx="4.8" ry="4.99" fill="#74c476"/>
<ellipse cx="851.2" cy="1168.6" rx="4.8" ry="4.99" fill="#238b45"/>
<ellipse cx="934.6" cy="1162.0" rx="4.8" ry="4.99" fill="#238b45"/>
<ellipse cx="739.0" cy="1159.0" rx="4.8" ry="4.99" fill="#238b45"/>
<ellipse cx="765.5" cy="1174.9" rx="4.8" ry="4.99" fill="#238b45"/>
<ellipse cx="900.4" cy="1181.2" rx="4.8" ry="4.99" fill="#238b45"/>
<ellipse cx="760.7" cy="1199.3" rx="4.8" ry="4.99" fill="#74c476"/>
<ellipse cx="928.6" cy="1370.4" rx="4.8" ry="4.99" fill="#74c476"/>
<ellipse cx="897.0" cy="1172.9" rx="4.8" ry="4.99" fill="#238b45"/>
<ellipse cx="621.9" cy="1160.5" rx="4.8" ry="4.99" fill="#238b45"/>
<ellipse cx="673.6" cy="1161.8" rx="4.8" ry="4.99" fill="#238b45"/>
<ellipse cx="940.2" cy="1168.1" rx="4.8" ry="4.99" fill="#238b45"/>
<ellipse cx="729.5" cy="1223.4" rx="4.8" ry="4.99" fill="#74c476"/>
<ellipse cx="741.2" cy="1170.5" rx="4.8" ry="4.99" fill="#238b45"/>
<ellipse cx="789.7" cy="1166.9" rx="4.8" ry="4.99" fill="#238b45"/>
<ellipse cx="899.0" cy="1178.4" rx="4.8" ry="4.99" fill="#238b45"/>
<ellipse cx="703.7" cy="1160.4" rx="4.8" ry="4.99" fill="#238b45"/>
<ellipse cx="646.6" cy="1166.6" rx="4.8" ry="4.99" fill="#238b45"/>
<ellipse cx="784.4" cy="1164.2" rx="4.8" ry="4.99" fill="#238b45"/>
<ellipse cx="634.6" cy="1168.3" rx="4.8" ry="4.99" fill="#238b45"/>
<ellipse cx="710.6" cy="1157.7" rx="4.8" ry="4.99" fill="#238b45"/>
<ellipse cx="916.1" cy="1386.9" rx="4.8" ry="4.99" fill="#74c476"/>
<ellipse cx="771.2" cy="1173.0" rx="4.8" ry="4.99" fill="#238b45"/>
<ellipse cx="942.7" cy="1169.1" rx="4.8" ry="4.99" fill="#238b45"/>
<ellipse cx="693.4" cy="1158.0" rx="4.8" ry="4.99" fill="#238b45"/>
<ellipse cx="842.6" cy="1185.2" rx="4.8" ry="4.99" fill="#74c476"/>
<ellipse cx="851.9" cy="1159.8" rx="4.8" ry="4.99" fill="#238b45"/>
<ellipse cx="938.6" cy="1419.6" rx="4.8" ry="4.99" fill="#74c476"/>
<ellipse cx="767.7" cy="1354.4" rx="4.8" ry="4.99" fill="#74c476"/>
<ellipse cx="869.2" cy="1163.3" rx="4.8" ry="4.99" fill="#238b45"/>
<ellipse cx="737.2" cy="1169.7" rx="4.8" ry="4.99" fill="#238b45"/>
<ellipse cx="946.7" cy="1175.4" rx="4.8" ry="4.99" fill="#238b45"/>
<ellipse cx="856.7" cy="1167.4" rx="4.8" ry="4.99" fill="#238b45"/>
<ellipse cx="750.9" cy="1160.1" rx="4.8" ry="4.99" fill="#238b45"/>
<ellipse cx="877.9" cy="1169.1" rx="4.8" ry="4.99" fill="#238b45"/>
<ellipse cx="860.1" cy="1176.4" rx="4.8" ry="4.99" fill="#238b45"/>
<ellipse cx="926.5" cy="1314.2" rx="4.8" ry="4.99" fill="#74c476"/>
<ellipse cx="848.2" cy="1245.0" rx="4.8" ry="4.99" fill="#74c476"/>
<ellipse cx="955.2" cy="1174.5" rx="4.8" ry="4.99" fill="#238b45"/>
<ellipse cx="670.7" cy="1170.8" rx="4.8" ry="4.99" fill="#238b45"/>
<ellipse cx="869.8" cy="1158.9" rx="4.8" ry="4.99" fill="#238b45"/>
<ellipse cx="851.0" cy="1171.9" rx="4.8" ry="4.99" fill="#238b45"/>
<ellipse cx="793.8" cy="1170.1" rx="4.8" ry="4.99" fill="#238b45"/>
<ellipse cx="791.2" cy="1356.0" rx="4.8" ry="4.99" fill="#74c476"/>
<ellipse cx="628.1" cy="1196.2" rx="4.8" ry="4.99" fill="#74c476"/>
<ellipse cx="675.1" cy="1166.0" rx="4.8" ry="4.99" fill="#238b45"/>
<ellipse cx="789.8" cy="1244.4" rx="4.8" ry="4.99" fill="#74c476"/>
<ellipse cx="853.3" cy="1283.5" rx="4.8" ry="4.99" fill="#74c476"/>
<ellipse cx="771.4" cy="1166.5" rx="4.8" ry="4.99" fill="#238b45"/>
<ellipse cx="970.9" cy="1169.3" rx="4.8" ry="4.99" fill="#238b45"/>
<ellipse cx="803.7" cy="1175.9" rx="4.8" ry="4.99" fill="#238b45"/>
<ellipse cx="736.8" cy="1167.1" rx="4.8" ry="4.99" fill="#238b45"/>
<ellipse cx="903.9" cy="1167.6" rx="4.8" ry="4.99" fill="#238b45"/>
<ellipse cx="869.7" cy="1214.3" rx="4.8" ry="4.99" fill="#74c476"/>
<ellipse cx="700.4" cy="1277.4" rx="4.8" ry="4.99" fill="#74c476"/>
<ellipse cx="771.3" cy="1371.8" rx="4.8" ry="4.99" fill="#c7e9c0"/>
<ellipse cx="914.6" cy="1157.4" rx="4.8" ry="4.99" fill="#238b45"/>
<ellipse cx="914.5" cy="1293.1" rx="4.8" ry="4.99" fill="#74c476"/>
<ellipse cx="805.7" cy="1363.8" rx="4.8" ry="4.99" fill="#74c476"/>
<ellipse cx="670.8" cy="1162.1" rx="4.8" ry="4.99" fill="#238b45"/>
<ellipse cx="771.5" cy="1168.3" rx="4.8" ry="4.99" fill="#238b45"/>
<ellipse cx="835.2" cy="1340.3" rx="4.8" ry="4.99" fill="#74c476"/>
<ellipse cx="695.4" cy="1304.2" rx="4.8" ry="4.99" fill="#74c476"/>
<ellipse cx="722.7" cy="1166.0" rx="4.8" ry="4.99" fill="#238b45"/>
<ellipse cx="878.4" cy="1267.0" rx="4.8" ry="4.99" fill="#74c476"/>
<ellipse cx="619.3" cy="1174.3" rx="4.8" ry="4.99" fill="#238b45"/>
<ellipse cx="908.5" cy="1339.3" rx="4.8" ry="4.99" fill="#74c476"/>
<ellipse cx="791.8" cy="1325.8" rx="4.8" ry="4.99" fill="#c7e9c0"/>
<ellipse cx="632.0" cy="1226.0" rx="4.8" ry="4.99" fill="#74c476"/>
<ellipse cx="714.8" cy="1162.5" rx="4.8" ry="4.99" fill="#238b45"/>
<ellipse cx="878.8" cy="1162.5" rx="4.8" ry="4.99" fill="#238b45"/>
<ellipse cx="613.1" cy="1162.4" rx="4.8" ry="4.99" fill="#238b45"/>
<ellipse cx="775.0" cy="1172.9" rx="4.8" ry="4.99" fill="#238b45"/>
<ellipse cx="934.6" cy="1169.9" rx="4.8" ry="4.99" fill="#238b45"/>
<ellipse cx="755.0" cy="1158.6" rx="4.8" ry="4.99" fill="#238b45"/>
<ellipse cx="897.5" cy="1165.4" rx="4.8" ry="4.99" fill="#238b45"/>
<ellipse cx="841.1" cy="1158.3" rx="4.8" ry="4.99" fill="#238b45"/>
<ellipse cx="613.2" cy="1170.4" rx="4.8" ry="4.99" fill="#238b45"/>
<ellipse cx="956.5" cy="1174.5" rx="4.8" ry="4.99" fill="#238b45"/>
<ellipse cx="879.6" cy="1167.1" rx="4.8" ry="4.99" fill="#238b45"/>
<ellipse cx="645.0" cy="1233.0" rx="4.8" ry="4.99" fill="#74c476"/>
<ellipse cx="907.0" cy="1163.4" rx="4.8" ry="4.99" fill="#238b45"/>
<ellipse cx="686.3" cy="1175.0" rx="4.8" ry="4.99" fill="#238b45"/>
<ellipse cx="726.2" cy="1160.9" rx="4.8" ry="4.99" fill="#238b45"/>
<ellipse cx="666.7" cy="1169.2" rx="4.8" ry="4.99" fill="#238b45"/>
<ellipse cx="850.2" cy="1392.1" rx="4.8" ry="4.99" fill="#74c476"/>
<ellipse cx="681.1" cy="1176.2" rx="4.8" ry="4.99" fill="#238b45"/>
<ellipse cx="922.5" cy="1344.3" rx="4.8" ry="4.99" fill="#74c476"/>
<ellipse cx="786.8" cy="1298.1" rx="4.8" ry="4.99" fill="#74c476"/>
<ellipse cx="870.1" cy="1165.3" rx="4.8" ry="4.99" fill="#238b45"/>
<ellipse cx="690.4" cy="1219.3" rx="4.8" ry="4.99" fill="#74c476"/>
<ellipse cx="874.1" cy="1170.8" rx="4.8" ry="4.99" fill="#238b45"/>
<ellipse cx="713.5" cy="1163.8" rx="4.8" ry="4.99" fill="#238b45"/>
<ellipse cx="733.6" cy="1204.3" rx="4.8" ry="4.99" fill="#74c476"/>
<ellipse cx="913.3" cy="1168.8" rx="4.8" ry="4.99" fill="#238b45"/>
<ellipse cx="726.5" cy="1189.2" rx="4.8" ry="4.99" fill="#74c476"/>
<ellipse cx="874.9" cy="1165.2" rx="4.8" ry="4.99" fill="#238b45"/>
<ellipse cx="884.4" cy="1356.4" rx="4.8" ry="4.99" fill="#74c476"/>
<ellipse cx="658.2" cy="1221.3" rx="4.8" ry="4.99" fill="#74c476"/>
<ellipse cx="922.5" cy="1329.3" rx="4.8" ry="4.99" fill="#74c476"/>
<ellipse cx="896.0" cy="1168.4" rx="4.8" ry="4.99" fill="#238b45"/>
<ellipse cx="744.7" cy="1166.6" rx="4.8" ry="4.99" fill="#238b45"/>
<ellipse cx="884.5" cy="1166.6" rx="4.8" ry="4.99" fill="#238b45"/>
<ellipse cx="881.1" cy="1171.3" rx="4.8" ry="4.99" fill="#238b45"/>
<ellipse cx="869.3" cy="1308.2" rx="4.8" ry="4.99" fill="#74c476"/>
<ellipse cx="884.2" cy="1174.4" rx="4.8" ry="4.99" fill="#238b45"/>
<ellipse cx="899.4" cy="1296.7" rx="4.8" ry="4.99" fill="#74c476"/>
<ellipse cx="931.0" cy="1163.1" rx="4.8" ry="4.99" fill="#238b45"/>
<ellipse cx="735.3" cy="1161.5" rx="4.8" ry="4.99" fill="#238b45"/>
<ellipse cx="933.1" cy="1173.3" rx="4.8" ry="4.99" fill="#238b45"/>
<ellipse cx="896.1" cy="1168.4" rx="4.8" ry="4.99" fill="#238b45"/>
<ellipse cx="928.6" cy="1300.1" rx="4.8" ry="4.99" fill="#74c476"/>
<ellipse cx="738.6" cy="1217.3" rx="4.8" ry="4.99" fill="#74c476"/>
<ellipse cx="964.3" cy="1176.5" rx="4.8" ry="4.99" fill="#238b45"/>
<ellipse cx="819.4" cy="1159.7" rx="4.8" ry="4.99" fill="#238b45"/>
<ellipse cx="644.4" cy="1159.6" rx="4.8" ry="4.99" fill="#238b45"/>
<ellipse cx="720.8" cy="1168.1" rx="4.8" ry="4.99" fill="#238b45"/>
<ellipse cx="911.0" cy="1505.6" rx="4.8" ry="4.99" fill="#c7e9c0"/>
<ellipse cx="720.9" cy="1169.0" rx="4.8" ry="4.99" fill="#238b45"/>
<ellipse cx="844.2" cy="1169.0" rx="4.8" ry="4.99" fill="#238b45"/>
<ellipse cx="748.6" cy="1241.4" rx="4.8" ry="4.99" fill="#74c476"/>
<ellipse cx="624.3" cy="1166.2" rx="4.8" ry="4.99" fill="#238b45"/>
<ellipse cx="766.0" cy="1161.5" rx="4.8" ry="4.99" fill="#238b45"/>
<ellipse cx="838.9" cy="1172.5" rx="4.8" ry="4.99" fill="#238b45"/>
<ellipse cx="920.5" cy="1304.2" rx="4.8" ry="4.99" fill="#74c476"/>
<ellipse cx="716.1" cy="1175.8" rx="4.8" ry="4.99" fill="#238b45"/>
<ellipse cx="689.6" cy="1170.2" rx="4.8" ry="4.99" fill="#238b45"/>
<ellipse cx="871.6" cy="1169.1" rx="4.8" ry="4.99" fill="#238b45"/>
<ellipse cx="691.1" cy="1170.1" rx="4.8" ry="4.99" fill="#238b45"/>
<ellipse cx="720.0" cy="1171.3" rx="4.8" ry="4.99" fill="#238b45"/>
<ellipse cx="801.5" cy="1171.7" rx="4.8" ry="4.99" fill="#238b45"/>
<ellipse cx="793.0" cy="1264.5" rx="4.8" ry="4.99" fill="#74c476"/>
<ellipse cx="893.5" cy="1162.2" rx="4.8" ry="4.99" fill="#238b45"/>
<ellipse cx="736.6" cy="1276.0" rx="4.8" ry="4.99" fill="#74c476"/>
<ellipse cx="949.1" cy="1170.5" rx="4.8" ry="4.99" fill="#238b45"/>
<ellipse cx="846.3" cy="1169.4" rx="4.8" ry="4.99" fill="#238b45"/>
<ellipse cx="817.1" cy="1342.3" rx="4.8" ry="4.99" fill="#74c476"/>
<ellipse cx="698.7" cy="1168.3" rx="4.8" ry="4.99" fill="#238b45"/>
<ellipse cx="790.7" cy="1165.5" rx="4.8" ry="4.99" fill="#238b45"/>
<ellipse cx="950.0" cy="1393.5" rx="4.8" ry="4.99" fill="#74c476"/>
<ellipse cx="649.0" cy="1179.5" rx="4.8" ry="4.99" fill="#238b45"/>
<ellipse cx="791.2" cy="1163.8" rx="4.8" ry="4.99" fill="#238b45"/>
<ellipse cx="901.6" cy="1165.7" rx="4.8" ry="4.99" fill="#238b45"/>
<ellipse cx="637.9" cy="1158.6" rx="4.8" ry="4.99" fill="#238b45"/>
<ellipse cx="873.7" cy="1159.3" rx="4.8" ry="4.99" fill="#238b45"/>
<ellipse cx="962.1" cy="1164.7" rx="4.8" ry="4.99" fill="#238b45"/>
<ellipse cx="950.0" cy="1166.4" rx="4.8" ry="4.99" fill="#238b45"/>
<ellipse cx="723.5" cy="1313.2" rx="4.8" ry="4.99" fill="#74c476"/>
<ellipse cx="627.0" cy="1220.0" rx="4.8" ry="4.99" fill="#74c476"/>
<ellipse cx="776.0" cy="1174.9" rx="4.8" ry="4.99" fill="#238b45"/>
<ellipse cx="947.6" cy="1307.2" rx="4.8" ry="4.99" fill="#74c476"/>
<ellipse cx="710.4" cy="1168.8" rx="4.8" ry="4.99" fill="#238b45"/>
<ellipse cx="733.9" cy="1169.1" rx="4.8" ry="4.99" fill="#238b45"/>
<ellipse cx="955.3" cy="1358.4" rx="4.8" ry="4.99" fill="#74c476"/>
<ellipse cx="934.8" cy="1556.2" rx="4.8" ry="4.99" fill="#c7e9c0"/>
<ellipse cx="638.6" cy="1164.7" rx="4.8" ry="4.99" fill="#238b45"/>
<ellipse cx="906.5" cy="1271.0" rx="4.8" ry="4.99" fill="#74c476"/>
<ellipse cx="826.5" cy="1162.4" rx="4.8" ry="4.99" fill="#238b45"/>
<ellipse cx="911.4" cy="1165.2" rx="4.8" ry="4.99" fill="#238b45"/>
<ellipse cx="646.5" cy="1164.1" rx="4.8" ry="4.99" fill="#238b45"/>
<ellipse cx="740.8" cy="1165.8" rx="4.8" ry="4.99" fill="#238b45"/>
<ellipse cx="836.1" cy="1158.3" rx="4.8" ry="4.99" fill="#238b45"/>
<ellipse cx="905.1" cy="1170.3" rx="4.8" ry="4.99" fill="#238b45"/>
<ellipse cx="938.9" cy="1422.4" rx="4.8" ry="4.99" fill="#74c476"/>
<ellipse cx="646.3" cy="1161.2" rx="4.8" ry="4.99" fill="#238b45"/>
<ellipse cx="747.6" cy="1169.4" rx="4.8" ry="4.99" fill="#238b45"/>
<ellipse cx="664.5" cy="1158.7" rx="4.8" ry="4.99" fill="#238b45"/>
<ellipse cx="960.7" cy="1229.8" rx="4.8" ry="4.99" fill="#74c476"/>
<ellipse cx="827.1" cy="1315.2" rx="4.8" ry="4.99" fill="#74c476"/>
<ellipse cx="849.8" cy="1262.1" rx="4.8" ry="4.99" fill="#74c476"/>
<ellipse cx="872.0" cy="1172.0" rx="4.8" ry="4.99" fill="#238b45"/>
<ellipse cx="798.0" cy="1158.5" rx="4.8" ry="4.99" fill="#238b45"/>
<ellipse cx="962.8" cy="1173.7" rx="4.8" ry="4.99" fill="#238b45"/>
<ellipse cx="878.4" cy="1175.7" rx="4.8" ry="4.99" fill="#238b45"/>
<ellipse cx="642.2" cy="1165.2" rx="4.8" ry="4.99" fill="#238b45"/>
<ellipse cx="767.7" cy="1256.5" rx="4.8" ry="4.99" fill="#74c476"/>
<ellipse cx="943.0" cy="1339.7" rx="4.8" ry="4.99" fill="#74c476"/>
<ellipse cx="753.6" cy="1157.6" rx="4.8" ry="4.99" fill="#238b45"/>
<ellipse cx="706.5" cy="1170.3" rx="4.8" ry="4.99" fill="#238b45"/>
<ellipse cx="717.8" cy="1175.5" rx="4.8" ry="4.99" fill="#238b45"/>
<ellipse cx="626.1" cy="1221.3" rx="4.8" ry="4.99" fill="#74c476"/>
<ellipse cx="663.9" cy="1172.4" rx="4.8" ry="4.99" fill="#238b45"/>
<ellipse cx="870.3" cy="1283.5" rx="4.8" ry="4.99" fill="#74c476"/>
<ellipse cx="705.4" cy="1267.0" rx="4.8" ry="4.99" fill="#74c476"/>
<ellipse cx="896.3" cy="1171.0" rx="4.8" ry="4.99" fill="#238b45"/>
<ellipse cx="635.2" cy="1269.0" rx="4.8" ry="4.99" fill="#74c476"/>
<ellipse cx="855.2" cy="1163.5" rx="4.8" ry="4.99" fill="#238b45"/>
<ellipse cx="862.9" cy="1352.3" rx="4.8" ry="4.99" fill="#74c476"/>
<ellipse cx="918.5" cy="1333.3" rx="4.8" ry="4.99" fill="#74c476"/>
<ellipse cx="722.0" cy="1162.6" rx="4.8" ry="4.99" fill="#238b45"/>
<ellipse cx="658.8" cy="1164.3" rx="4.8" ry="4.99" fill="#238b45"/>
<ellipse cx="937.7" cy="1163.2" rx="4.8" ry="4.99" fill="#238b45"/>
<ellipse cx="953.6" cy="1162.1" rx="4.8" ry="4.99" fill="#238b45"/>
<ellipse cx="890.4" cy="1267.5" rx="4.8" ry="4.99" fill="#74c476"/>
<ellipse cx="615.5" cy="1158.3" rx="4.8" ry="4.99" fill="#238b45"/>
<ellipse cx="845.4" cy="1425.5" rx="4.8" ry="4.99" fill="#c7e9c0"/>
<ellipse cx="634.2" cy="1231.4" rx="4.8" ry="4.99" fill="#74c476"/>
<ellipse cx="867.4" cy="1166.0" rx="4.8" ry="4.99" fill="#238b45"/>
<ellipse cx="704.4" cy="1191.8" rx="4.8" ry="4.99" fill="#74c476"/>
<ellipse cx="665.8" cy="1157.7" rx="4.8" ry="4.99" fill="#238b45"/>
<ellipse cx="835.2" cy="1321.2" rx="4.8" ry="4.99" fill="#74c476"/>
<ellipse cx="727.0" cy="1169.4" rx="4.8" ry="4.99" fill="#238b45"/>
<ellipse cx="872.3" cy="1269.5" rx="4.8" ry="4.99" fill="#74c476"/>
<ellipse cx="627.3" cy="1161.1" rx="4.8" ry="4.99" fill="#238b45"/>
<ellipse cx="631.3" cy="1160.4" rx="4.8" ry="4.99" fill="#238b45"/>
<ellipse cx="966.4" cy="1161.8" rx="4.8" ry="4.99" fill="#238b45"/>
<ellipse cx="917.9" cy="1169.2" rx="4.8" ry="4.99" fill="#238b45"/>
<ellipse cx="876.7" cy="1164.6" rx="4.8" ry="4.99" fill="#238b45"/>
<ellipse cx="685.7" cy="1175.4" rx="4.8" ry="4.99" fill="#238b45"/>
<ellipse cx="793.8" cy="1212.3" rx="4.8" ry="4.99" fill="#74c476"/>
<ellipse cx="882.7" cy="1179.3" rx="4.8" ry="4.99" fill="#238b45"/>
<ellipse cx="860.3" cy="1325.2" rx="4.8" ry="4.99" fill="#74c476"/>
<ellipse cx="960.3" cy="1162.5" rx="4.8" ry="4.99" fill="#238b45"/>
<ellipse cx="738.6" cy="1162.2" rx="4.8" ry="4.99" fill="#238b45"/>
<ellipse cx="798.8" cy="1159.1" rx="4.8" ry="4.99" fill="#238b45"/>
<ellipse cx="637.6" cy="1170.3" rx="4.8" ry="4.99" fill="#238b45"/>
<ellipse cx="630.1" cy="1294.7" rx="4.8" ry="4.99" fill="#74c476"/>
<ellipse cx="894.4" cy="1305.2" rx="4.8" ry="4.99" fill="#74c476"/>
<ellipse cx="874.7" cy="1164.9" rx="4.8" ry="4.99" fill="#238b45"/>
<ellipse cx="878.4" cy="1325.2" rx="4.8" ry="4.99" fill="#74c476"/>
<ellipse cx="677.1" cy="1175.6" rx="4.8" ry="4.99" fill="#238b45"/>
<ellipse cx="885.5" cy="1171.2" rx="4.8" ry="4.99" fill="#238b45"/>
<ellipse cx="874.3" cy="1181.2" rx="4.8" ry="4.99" fill="#238b45"/>
<ellipse cx="967.1" cy="1176.1" rx="4.8" ry="4.99" fill="#238b45"/>
<ellipse cx="738.6" cy="1286.1" rx="4.8" ry="4.99" fill="#74c476"/>
<ellipse cx="916.2" cy="1414.6" rx="4.8" ry="4.99" fill="#c7e9c0"/>
<ellipse cx="913.8" cy="1160.0" rx="4.8" ry="4.99" fill="#238b45"/>
<ellipse cx="751.2" cy="1159.6" rx="4.8" ry="4.99" fill="#238b45"/>
<ellipse cx="846.4" cy="1164.8" rx="4.8" ry="4.99" fill="#238b45"/>
<ellipse cx="773.7" cy="1231.4" rx="4.8" ry="4.99" fill="#74c476"/>
<ellipse cx="678.3" cy="1241.4" rx="4.8" ry="4.99" fill="#74c476"/>
<ellipse cx="744.8" cy="1175.3" rx="4.8" ry="4.99" fill="#238b45"/>
<ellipse cx="931.6" cy="1312.2" rx="4.8" ry="4.99" fill="#74c476"/>
<ellipse cx="829.8" cy="1205.7" rx="4.8" ry="4.99" fill="#74c476"/>
<ellipse cx="770.7" cy="1269.5" rx="4.8" ry="4.99" fill="#74c476"/>
<ellipse cx="813.7" cy="1242.0" rx="4.8" ry="4.99" fill="#74c476"/>
<ellipse cx="950.6" cy="1254.5" rx="4.8" ry="4.99" fill="#74c476"/>
<ellipse cx="727.5" cy="1308.2" rx="4.8" ry="4.99" fill="#74c476"/>
<ellipse cx="874.3" cy="1269.0" rx="4.8" ry="4.99" fill="#74c476"/>
<ellipse cx="761.6" cy="1163.6" rx="4.8" ry="4.99" fill="#238b45"/>
<ellipse cx="639.2" cy="1255.1" rx="4.8" ry="4.99" fill="#c7e9c0"/>
<ellipse cx="767.7" cy="1325.2" rx="4.8" ry="4.99" fill="#74c476"/>
<ellipse cx="898.9" cy="1163.7" rx="4.8" ry="4.99" fill="#238b45"/>
<ellipse cx="644.7" cy="1163.2" rx="4.8" ry="4.99" fill="#238b45"/>
<ellipse cx="800.1" cy="1162.4" rx="4.8" ry="4.99" fill="#238b45"/>
<ellipse cx="967.7" cy="1350.3" rx="4.8" ry="4.99" fill="#74c476"/>
<ellipse cx="641.3" cy="1169.4" rx="4.8" ry="4.99" fill="#238b45"/>
<ellipse cx="800.0" cy="1296.5" rx="4.8" ry="4.99" fill="#74c476"/>
<ellipse cx="704.2" cy="1166.4" rx="4.8" ry="4.99" fill="#238b45"/>
<ellipse cx="700.1" cy="1159.1" rx="4.8" ry="4.99" fill="#238b45"/>
<ellipse cx="809.7" cy="1225.0" rx="4.8" ry="4.99" fill="#74c476"/>
<ellipse cx="791.5" cy="1162.3" rx="4.8" ry="4.99" fill="#238b45"/>
<ellipse cx="765.6" cy="1167.4" rx="4.8" ry="4.99" fill="#238b45"/>
<ellipse cx="674.4" cy="1165.3" rx="4.8" ry="4.99" fill="#238b45"/>
<ellipse cx="707.5" cy="1163.8" rx="4.8" ry="4.99" fill="#238b45"/>
<ellipse cx="796.2" cy="1168.6" rx="4.8" ry="4.99" fill="#238b45"/>
<ellipse cx="838.5" cy="1169.1" rx="4.8" ry="4.99" fill="#238b45"/>
<ellipse cx="720.5" cy="1160.9" rx="4.8" ry="4.99" fill="#238b45"/>
<ellipse cx="915.7" cy="1159.8" rx="4.8" ry="4.99" fill="#238b45"/>
<ellipse cx="963.5" cy="1170.7" rx="4.8" ry="4.99" fill="#238b45"/>
<ellipse cx="953.9" cy="1176.3" rx="4.8" ry="4.99" fill="#238b45"/>
<ellipse cx="879.4" cy="1418.6" rx="4.8" ry="4.99" fill="#c7e9c0"/>
<ellipse cx="624.1" cy="1183.2" rx="4.8" ry="4.99" fill="#c7e9c0"/>
<ellipse cx="753.4" cy="1172.3" rx="4.8" ry="4.99" fill="#238b45"/>
<ellipse cx="943.7" cy="1168.9" rx="4.8" ry="4.99" fill="#238b45"/>
<ellipse cx="904.3" cy="1158.8" rx="4.8" ry="4.99" fill="#238b45"/>
<ellipse cx="906.5" cy="1270.0" rx="4.8" ry="4.99" fill="#74c476"/>
<ellipse cx="925.7" cy="1158.3" rx="4.8" ry="4.99" fill="#238b45"/>
<ellipse cx="944.8" cy="1173.4" rx="4.8" ry="4.99" fill="#238b45"/>
<ellipse cx="833.3" cy="1166.5" rx="4.8" ry="4.99" fill="#238b45"/>
<ellipse cx="744.4" cy="1169.2" rx="4.8" ry="4.99" fill="#238b45"/>
<ellipse cx="842.1" cy="1166.8" rx="4.8" ry="4.99" fill="#238b45"/>
<ellipse cx="736.8" cy="1166.5" rx="4.8" ry="4.99" fill="#238b45"/>
<ellipse cx="756.4" cy="1176.0" rx="4.8" ry="4.99" fill="#238b45"/>
<ellipse cx="699.9" cy="1165.5" rx="4.8" ry="4.99" fill="#238b45"/>
<ellipse cx="964.3" cy="1251.5" rx="4.8" ry="4.99" fill="#74c476"/>
<ellipse cx="934.7" cy="1167.1" rx="4.8" ry="4.99" fill="#238b45"/>
<ellipse cx="862.3" cy="1339.3" rx="4.8" ry="4.99" fill="#74c476"/>
<ellipse cx="694.4" cy="1263.5" rx="4.8" ry="4.99" fill="#74c476"/>
<ellipse cx="839.2" cy="1331.3" rx="4.8" ry="4.99" fill="#74c476"/>
<ellipse cx="838.6" cy="1169.7" rx="4.8" ry="4.99" fill="#238b45"/>
<ellipse cx="798.0" cy="1197.7" rx="4.8" ry="4.99" fill="#74c476"/>
<ellipse cx="726.5" cy="1276.0" rx="4.8" ry="4.99" fill="#74c476"/>
<ellipse cx="694.4" cy="1233.4" rx="4.8" ry="4.99" fill="#74c476"/>
<ellipse cx="618.3" cy="1167.8" rx="4.8" ry="4.99" fill="#238b45"/>
<ellipse cx="885.7" cy="1163.2" rx="4.8" ry="4.99" fill="#238b45"/>
<ellipse cx="815.7" cy="1251.9" rx="4.8" ry="4.99" fill="#74c476"/>
<ellipse cx="840.4" cy="1173.7" rx="4.8" ry="4.99" fill="#238b45"/>
<ellipse cx="805.2" cy="1172.7" rx="4.8" ry="4.99" fill="#238b45"/>
<ellipse cx="638.0" cy="1222.0" rx="4.8" ry="4.99" fill="#74c476"/>
<ellipse cx="649.2" cy="1158.1" rx="4.8" ry="4.99" fill="#238b45"/>
<ellipse cx="718.7" cy="1177.0" rx="4.8" ry="4.99" fill="#238b45"/>
<ellipse cx="906.5" cy="1348.3" rx="4.8" ry="4.99" fill="#74c476"/>
<ellipse cx="887.0" cy="1165.5" rx="4.8" ry="4.99" fill="#238b45"/>
<ellipse cx="705.3" cy="1164.3" rx="4.8" ry="4.99" fill="#238b45"/>
<ellipse cx="676.6" cy="1167.2" rx="4.8" ry="4.99" fill="#238b45"/>
<ellipse cx="719.5" cy="1157.5" rx="4.8" ry="4.99" fill="#238b45"/>
<ellipse cx="692.3" cy="1159.7" rx="4.8" ry="4.99" fill="#238b45"/>
<ellipse cx="654.3" cy="1168.8" rx="4.8" ry="4.99" fill="#238b45"/>
<ellipse cx="664.2" cy="1162.6" rx="4.8" ry="4.99" fill="#238b45"/>
<ellipse cx="695.4" cy="1239.4" rx="4.8" ry="4.99" fill="#74c476"/>
<ellipse cx="655.3" cy="1159.0" rx="4.8" ry="4.99" fill="#238b45"/>
<ellipse cx="636.7" cy="1159.1" rx="4.8" ry="4.99" fill="#238b45"/>
<ellipse cx="774.5" cy="1170.0" rx="4.8" ry="4.99" fill="#238b45"/>
<ellipse cx="943.3" cy="1173.4" rx="4.8" ry="4.99" fill="#238b45"/>
<ellipse cx="718.9" cy="1167.6" rx="4.8" ry="4.99" fill="#238b45"/>
<ellipse cx="963.4" cy="1175.7" rx="4.8" ry="4.99" fill="#238b45"/>
<ellipse cx="846.2" cy="1160.8" rx="4.8" ry="4.99" fill="#238b45"/>
<ellipse cx="854.9" cy="1163.9" rx="4.8" ry="4.99" fill="#238b45"/>
<ellipse cx="620.6" cy="1172.1" rx="4.8" ry="4.99" fill="#238b45"/>
<ellipse cx="838.9" cy="1158.4" rx="4.8" ry="4.99" fill="#238b45"/>
<ellipse cx="728.5" cy="1267.5" rx="4.8" ry="4.99" fill="#74c476"/>
<ellipse cx="779.1" cy="1304.2" rx="4.8" ry="4.99" fill="#74c476"/>
<ellipse cx="644.1" cy="1162.1" rx="4.8" ry="4.99" fill="#238b45"/>
<ellipse cx="912.1" cy="1322.2" rx="4.8" ry="4.99" fill="#74c476"/>
<ellipse cx="778.7" cy="1269.5" rx="4.8" ry="4.99" fill="#74c476"/>
<ellipse cx="862.1" cy="1165.7" rx="4.8" ry="4.99" fill="#238b45"/>
<ellipse cx="741.6" cy="1229.4" rx="4.8" ry="4.99" fill="#74c476"/>
<ellipse cx="905.8" cy="1410.0" rx="4.8" ry="4.99" fill="#74c476"/>
<ellipse cx="704.7" cy="1166.6" rx="4.8" ry="4.99" fill="#238b45"/>
<ellipse cx="887.3" cy="1171.0" rx="4.8" ry="4.99" fill="#238b45"/>
<ellipse cx="901.4" cy="1312.8" rx="4.8" ry="4.99" fill="#74c476"/>
<ellipse cx="781.7" cy="1168.2" rx="4.8" ry="4.99" fill="#238b45"/>
<ellipse cx="660.0" cy="1233.0" rx="4.8" ry="4.99" fill="#74c476"/>
<ellipse cx="722.2" cy="1164.4" rx="4.8" ry="4.99" fill="#238b45"/>
<ellipse cx="645.8" cy="1158.9" rx="4.8" ry="4.99" fill="#238b45"/>
<ellipse cx="818.1" cy="1185.6" rx="4.8" ry="4.99" fill="#74c476"/>
<ellipse cx="866.3" cy="1271.0" rx="4.8" ry="4.99" fill="#74c476"/>
<ellipse cx="819.1" cy="1181.2" rx="4.8" ry="4.99" fill="#238b45"/>
<ellipse cx="890.4" cy="1268.0" rx="4.8" ry="4.99" fill="#74c476"/>
<ellipse cx="765.5" cy="1165.9" rx="4.8" ry="4.99" fill="#238b45"/>
<ellipse cx="710.5" cy="1250.5" rx="4.8" ry="4.99" fill="#74c476"/>
<ellipse cx="875.3" cy="1338.3" rx="4.8" ry="4.99" fill="#74c476"/>
<ellipse cx="737.8" cy="1159.9" rx="4.8" ry="4.99" fill="#238b45"/>
<ellipse cx="938.6" cy="1303.2" rx="4.8" ry="4.99" fill="#74c476"/>
<ellipse cx="887.7" cy="1160.5" rx="4.8" ry="4.99" fill="#238b45"/>
<ellipse cx="718.5" cy="1268.5" rx="4.8" ry="4.99" fill="#74c476"/>
<ellipse cx="746.9" cy="1164.8" rx="4.8" ry="4.99" fill="#238b45"/>
<ellipse cx="825.3" cy="1163.6" rx="4.8" ry="4.99" fill="#238b45"/>
<ellipse cx="942.0" cy="1542.0" rx="4.8" ry="4.99" fill="#c7e9c0"/>
<ellipse cx="877.4" cy="1172.4" rx="4.8" ry="4.99" fill="#238b45"/>
<ellipse cx="765.5" cy="1160.0" rx="4.8" ry="4.99" fill="#238b45"/>
<ellipse cx="650.8" cy="1167.2" rx="4.8" ry="4.99" fill="#238b45"/>
<ellipse cx="860.9" cy="1171.2" rx="4.8" ry="4.99" fill="#238b45"/>
<ellipse cx="971.7" cy="1173.7" rx="4.8" ry="4.99" fill="#238b45"/>
<ellipse cx="716.9" cy="1175.2" rx="4.8" ry="4.99" fill="#238b45"/>
<ellipse cx="760.1" cy="1281.1" rx="4.8" ry="4.99" fill="#74c476"/>
<ellipse cx="910.5" cy="1306.8" rx="4.8" ry="4.99" fill="#74c476"/>
<ellipse cx="917.3" cy="1167.7" rx="4.8" ry="4.99" fill="#238b45"/>
<ellipse cx="636.2" cy="1285.1" rx="4.8" ry="4.99" fill="#74c476"/>
<ellipse cx="713.7" cy="1158.2" rx="4.8" ry="4.99" fill="#238b45"/>
<ellipse cx="791.8" cy="1275.0" rx="4.8" ry="4.99" fill="#74c476"/>
<ellipse cx="801.0" cy="1374.8" rx="4.8" ry="4.99" fill="#74c476"/>
<ellipse cx="894.3" cy="1173.4" rx="4.8" ry="4.99" fill="#238b45"/>
<ellipse cx="836.3" cy="1172.7" rx="4.8" ry="4.99" fill="#238b45"/>
<ellipse cx="724.5" cy="1222.3" rx="4.8" ry="4.99" fill="#74c476"/>
<ellipse cx="847.1" cy="1174.6" rx="4.8" ry="4.99" fill="#238b45"/>
<ellipse cx="885.6" cy="1168.4" rx="4.8" ry="4.99" fill="#238b45"/>
<ellipse cx="947.5" cy="1159.0" rx="4.8" ry="4.99" fill="#238b45"/>
<ellipse cx="645.0" cy="1224.0" rx="4.8" ry="4.99" fill="#74c476"/>
<ellipse cx="820.9" cy="1163.2" rx="4.8" ry="4.99" fill="#238b45"/>
<ellipse cx="760.7" cy="1293.1" rx="4.8" ry="4.99" fill="#74c476"/>
<ellipse cx="614.9" cy="1172.2" rx="4.8" ry="4.99" fill="#238b45"/>
<ellipse cx="708.1" cy="1165.3" rx="4.8" ry="4.99" fill="#238b45"/>
<line x1="618" y1="1228" x2="969.4" y2="1328.6" stroke="#74c476" stroke-width="4.1"/>
<line x1="613.5" y1="1272.2" x2="955.5" y2="1500.6" stroke="#c7e9c0" stroke-width="4.1"/>
<rect x="595.5" y="1134.3" width="393.79999999999995" height="441.20000000000005" fill="none" stroke="#262626" stroke-width="1.5"/>
<line x1="587.5" y1="1223.9" x2="595.5" y2="1223.9" stroke="#262626" stroke-width="2.2"/>
<text x="579.5" y="1232.5" font-size="24" text-anchor="end" font-weight="normal" fill="#000" transform="translate(0,-36.98) scale(1,1.03)">0.9</text>
<line x1="587.5" y1="1314.3" x2="595.5" y2="1314.3" stroke="#262626" stroke-width="2.2"/>
<text x="579.5" y="1322.9" font-size="24" text-anchor="end" font-weight="normal" fill="#000" transform="translate(0,-39.69) scale(1,1.03)">0.8</text>
<line x1="587.5" y1="1404.8" x2="595.5" y2="1404.8" stroke="#262626" stroke-width="2.2"/>
<text x="579.5" y="1413.4" font-size="24" text-anchor="end" font-weight="normal" fill="#000" transform="translate(0,-42.40) scale(1,1.03)">0.7</text>
<line x1="587.5" y1="1495.2" x2="595.5" y2="1495.2" stroke="#262626" stroke-width="2.2"/>
<text x="579.5" y="1503.8" font-size="24" text-anchor="end" font-weight="normal" fill="#000" transform="translate(0,-45.11) scale(1,1.03)">0.6</text>
<line x1="609.3" y1="1575.5" x2="609.3" y2="1583.5" stroke="#262626" stroke-width="2.2"/>
<text x="609.3" y="1606.8" font-size="24" text-anchor="middle" font-weight="normal" fill="#000" transform="translate(0,-48.20) scale(1,1.03)">20</text>
<line x1="681.6" y1="1575.5" x2="681.6" y2="1583.5" stroke="#262626" stroke-width="2.2"/>
<text x="681.6" y="1606.8" font-size="24" text-anchor="middle" font-weight="normal" fill="#000" transform="translate(0,-48.20) scale(1,1.03)">30</text>
<line x1="753.8" y1="1575.5" x2="753.8" y2="1583.5" stroke="#262626" stroke-width="2.2"/>
<text x="753.8" y="1606.8" font-size="24" text-anchor="middle" font-weight="normal" fill="#000" transform="translate(0,-48.20) scale(1,1.03)">40</text>
<line x1="826.1" y1="1575.5" x2="826.1" y2="1583.5" stroke="#262626" stroke-width="2.2"/>
<text x="826.1" y="1606.8" font-size="24" text-anchor="middle" font-weight="normal" fill="#000" transform="translate(0,-48.20) scale(1,1.03)">50</text>
<line x1="898.3" y1="1575.5" x2="898.3" y2="1583.5" stroke="#262626" stroke-width="2.2"/>
<text x="898.3" y="1606.8" font-size="24" text-anchor="middle" font-weight="normal" fill="#000" transform="translate(0,-48.20) scale(1,1.03)">60</text>
<line x1="970.6" y1="1575.5" x2="970.6" y2="1583.5" stroke="#262626" stroke-width="2.2"/>
<text x="970.6" y="1606.8" font-size="24" text-anchor="middle" font-weight="normal" fill="#000" transform="translate(0,-48.20) scale(1,1.03)">70</text>
<text x="790.0" y="1636.8" font-size="27.5" text-anchor="middle" font-weight="normal" fill="#000" transform="translate(0,-49.10) scale(1,1.03)">Age</text>
<text transform="translate(526.9,1355.1) scale(1.03,1) rotate(-90)" font-size="27" letter-spacing="0.45" text-anchor="middle">cg21268422<tspan dx="7">(</tspan><tspan font-style="italic" font-size="27.7">BACE2</tspan><tspan dx="3">)</tspan></text>
<text x="601.0" y="1482.3" font-size="27.5" text-anchor="start" font-weight="normal" fill="#000" transform="translate(0,-44.47) scale(1,1.03)">Genotype</text>
<ellipse cx="612.5" cy="1503.4" rx="4.8" ry="4.99" fill="#238b45"/>
<text x="632.0" y="1512.8" font-size="27" text-anchor="start" font-weight="normal" fill="#000" transform="translate(0,-45.38) scale(1,1.03)">GG</text>
<ellipse cx="612.5" cy="1530.1" rx="4.8" ry="4.99" fill="#74c476"/>
<text x="632.0" y="1539.5" font-size="27" text-anchor="start" font-weight="normal" fill="#000" transform="translate(0,-46.19) scale(1,1.03)">GA</text>
<ellipse cx="612.5" cy="1556.6" rx="4.8" ry="4.99" fill="#c7e9c0"/>
<text x="632.0" y="1565.6" font-size="27" text-anchor="start" font-weight="normal" fill="#000" transform="translate(0,-46.97) scale(1,1.03)">AA</text>
<text x="193.0" y="35.8" font-size="48" text-anchor="start" font-weight="bold" fill="#000" transform="translate(195,0) scale(0.91,1) translate(-195,0)">a</text>
<text x="487.0" y="35.3" font-size="48" text-anchor="start" font-weight="bold" fill="#000" transform="translate(490.3,0) scale(1.07,1) translate(-490.3,0)">b</text>
<text x="745.0" y="35.8" font-size="48" text-anchor="start" font-weight="bold" fill="#000" >c</text>
<text x="25.0" y="617.6" font-size="48" text-anchor="start" font-weight="bold" fill="#000" transform="translate(27.9,0) scale(1.045,1) translate(-26.9,0)">d</text>
<text x="8.5" y="1142.6" font-size="48" text-anchor="start" font-weight="bold" fill="#000" >e</text>
<text x="516.5" y="1142.4" font-size="48" text-anchor="start" font-weight="bold" fill="#000" transform="translate(516.5,0) scale(1.15,1) translate(-516.5,0)">f</text>
</svg></body></html>
